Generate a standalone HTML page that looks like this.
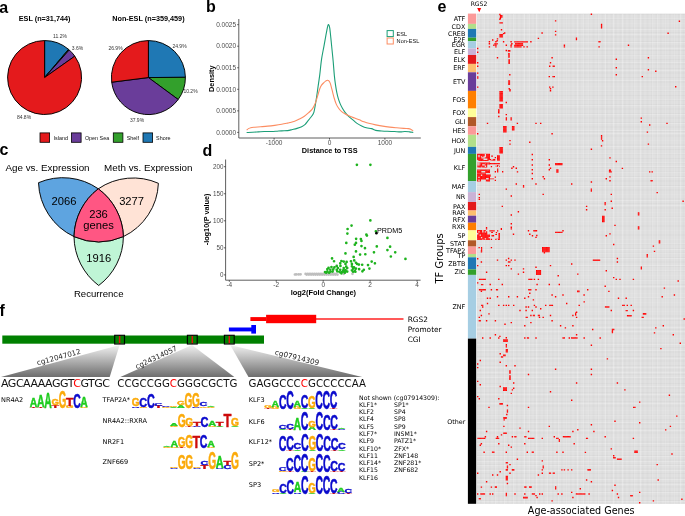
<!DOCTYPE html><html><head><meta charset="utf-8"><title>Figure</title><style>html,body{margin:0;padding:0;background:#fff;overflow:hidden}svg{display:block}</style></head><body>
<svg width="685" height="516" viewBox="0 0 685 516">
<rect width="685" height="516" fill="#fff"/>
<text x="44.60" y="20.90" font-size="7.28" text-anchor="middle" font-weight="bold" fill="#000" font-family='"Liberation Sans", sans-serif' >ESL (n=31,744)</text>
<text x="148.40" y="20.90" font-size="7.28" text-anchor="middle" font-weight="bold" fill="#000" font-family='"Liberation Sans", sans-serif' >Non-ESL (n=359,459)</text>
<path d="M44.60,77.55 L44.60,40.55 A37.0,37.0 0 0 1 68.54,49.34 Z" fill="#1F78B4" stroke="#000" stroke-width="0.95" stroke-linejoin="round"/>
<path d="M44.60,77.55 L68.54,49.34 A37.0,37.0 0 0 1 69.24,49.95 Z" fill="#33A02C" stroke="#000" stroke-width="0.95" stroke-linejoin="round"/>
<path d="M44.60,77.55 L69.24,49.95 A37.0,37.0 0 0 1 74.80,56.18 Z" fill="#6A3D9A" stroke="#000" stroke-width="0.95" stroke-linejoin="round"/>
<path d="M44.60,77.55 L74.80,56.18 A37.0,37.0 0 1 1 44.60,40.55 Z" fill="#E41A1C" stroke="#000" stroke-width="0.95" stroke-linejoin="round"/>
<path d="M148.40,77.55 L148.40,40.55 A37.0,37.0 0 0 1 185.40,77.32 Z" fill="#1F78B4" stroke="#000" stroke-width="0.95" stroke-linejoin="round"/>
<path d="M148.40,77.55 L185.40,77.32 A37.0,37.0 0 0 1 178.20,99.49 Z" fill="#33A02C" stroke="#000" stroke-width="0.95" stroke-linejoin="round"/>
<path d="M148.40,77.55 L178.20,99.49 A37.0,37.0 0 0 1 111.69,82.19 Z" fill="#6A3D9A" stroke="#000" stroke-width="0.95" stroke-linejoin="round"/>
<path d="M148.40,77.55 L111.69,82.19 A37.0,37.0 0 0 1 148.40,40.55 Z" fill="#E41A1C" stroke="#000" stroke-width="0.95" stroke-linejoin="round"/>
<text x="60.00" y="38.00" font-size="5.0" text-anchor="middle" font-weight="normal" fill="#333" font-family='"Liberation Sans", sans-serif' >11.2%</text>
<text x="77.50" y="50.20" font-size="5.0" text-anchor="middle" font-weight="normal" fill="#333" font-family='"Liberation Sans", sans-serif' >3.6%</text>
<text x="24.00" y="118.90" font-size="5.0" text-anchor="middle" font-weight="normal" fill="#333" font-family='"Liberation Sans", sans-serif' >84.8%</text>
<text x="115.50" y="49.50" font-size="5.0" text-anchor="middle" font-weight="normal" fill="#333" font-family='"Liberation Sans", sans-serif' >26.9%</text>
<text x="179.50" y="47.80" font-size="5.0" text-anchor="middle" font-weight="normal" fill="#333" font-family='"Liberation Sans", sans-serif' >24.9%</text>
<text x="190.50" y="92.80" font-size="5.0" text-anchor="middle" font-weight="normal" fill="#333" font-family='"Liberation Sans", sans-serif' >10.2%</text>
<text x="137.00" y="122.10" font-size="5.0" text-anchor="middle" font-weight="normal" fill="#333" font-family='"Liberation Sans", sans-serif' >37.9%</text>
<rect x="40" y="132.9" width="9.6" height="9.4" fill="#E41A1C" stroke="#000" stroke-width="0.8"/>
<text x="53.60" y="139.60" font-size="5.4" text-anchor="start" font-weight="normal" fill="#111" font-family='"Liberation Sans", sans-serif' >Island</text>
<rect x="71.5" y="132.9" width="9.6" height="9.4" fill="#6A3D9A" stroke="#000" stroke-width="0.8"/>
<text x="84.90" y="139.60" font-size="5.4" text-anchor="start" font-weight="normal" fill="#111" font-family='"Liberation Sans", sans-serif' >Open Sea</text>
<rect x="113.3" y="132.9" width="9.6" height="9.4" fill="#33A02C" stroke="#000" stroke-width="0.8"/>
<text x="126.70" y="139.60" font-size="5.4" text-anchor="start" font-weight="normal" fill="#111" font-family='"Liberation Sans", sans-serif' >Shelf</text>
<rect x="143" y="132.9" width="9.6" height="9.4" fill="#1F78B4" stroke="#000" stroke-width="0.8"/>
<text x="156.10" y="139.60" font-size="5.4" text-anchor="start" font-weight="normal" fill="#111" font-family='"Liberation Sans", sans-serif' >Shore</text>
<path d="M238.8,19 L238.8,138.0 L420.8,138.0" fill="none" stroke="#4d4d4d" stroke-width="0.9"/>
<line x1="237.20000000000002" y1="24.65" x2="238.8" y2="24.65" stroke="#333" stroke-width="0.8"/>
<text x="236.10" y="26.90" font-size="6.5" text-anchor="end" font-weight="normal" fill="#4d4d4d" font-family='"Liberation Sans", sans-serif' >0.0025</text>
<line x1="237.20000000000002" y1="46.20" x2="238.8" y2="46.20" stroke="#333" stroke-width="0.8"/>
<text x="236.10" y="48.45" font-size="6.5" text-anchor="end" font-weight="normal" fill="#4d4d4d" font-family='"Liberation Sans", sans-serif' >0.0020</text>
<line x1="237.20000000000002" y1="67.75" x2="238.8" y2="67.75" stroke="#333" stroke-width="0.8"/>
<text x="236.10" y="70.00" font-size="6.5" text-anchor="end" font-weight="normal" fill="#4d4d4d" font-family='"Liberation Sans", sans-serif' >0.0015</text>
<line x1="237.20000000000002" y1="89.30" x2="238.8" y2="89.30" stroke="#333" stroke-width="0.8"/>
<text x="236.10" y="91.55" font-size="6.5" text-anchor="end" font-weight="normal" fill="#4d4d4d" font-family='"Liberation Sans", sans-serif' >0.0010</text>
<line x1="237.20000000000002" y1="110.85" x2="238.8" y2="110.85" stroke="#333" stroke-width="0.8"/>
<text x="236.10" y="113.10" font-size="6.5" text-anchor="end" font-weight="normal" fill="#4d4d4d" font-family='"Liberation Sans", sans-serif' >0.0005</text>
<line x1="237.20000000000002" y1="132.40" x2="238.8" y2="132.40" stroke="#333" stroke-width="0.8"/>
<text x="236.10" y="134.65" font-size="6.5" text-anchor="end" font-weight="normal" fill="#4d4d4d" font-family='"Liberation Sans", sans-serif' >0.0000</text>
<line x1="274.10" y1="138.0" x2="274.10" y2="139.6" stroke="#333" stroke-width="0.8"/>
<text x="274.10" y="144.90" font-size="6.5" text-anchor="middle" font-weight="normal" fill="#4d4d4d" font-family='"Liberation Sans", sans-serif' >-1000</text>
<line x1="329.50" y1="138.0" x2="329.50" y2="139.6" stroke="#333" stroke-width="0.8"/>
<text x="329.50" y="144.90" font-size="6.5" text-anchor="middle" font-weight="normal" fill="#4d4d4d" font-family='"Liberation Sans", sans-serif' >0</text>
<line x1="384.90" y1="138.0" x2="384.90" y2="139.6" stroke="#333" stroke-width="0.8"/>
<text x="384.90" y="144.90" font-size="6.5" text-anchor="middle" font-weight="normal" fill="#4d4d4d" font-family='"Liberation Sans", sans-serif' >1000</text>
<text transform="translate(214.30,78.70) rotate(-90)" font-size="7.33" text-anchor="middle" font-weight="bold" fill="#000" font-family='"Liberation Sans", sans-serif' >Density</text>
<text x="329.70" y="153.00" font-size="7.33" text-anchor="middle" font-weight="bold" fill="#000" font-family='"Liberation Sans", sans-serif' >Distance to TSS</text>
<path d="M247.03,132.47 C247.94,132.43 250.63,132.33 252.52,132.23 C254.41,132.14 256.41,132.00 258.36,131.88 C260.30,131.77 262.25,131.59 264.20,131.53 C266.14,131.47 268.09,131.57 270.04,131.53 C271.98,131.49 273.93,131.42 275.88,131.30 C277.82,131.18 279.77,130.95 281.72,130.83 C283.66,130.72 285.78,130.81 287.55,130.60 C289.32,130.39 290.76,129.93 292.34,129.56 C293.91,129.19 295.45,128.88 297.01,128.39 C298.56,127.91 300.32,127.32 301.68,126.64 C303.04,125.96 304.21,125.18 305.18,124.31 C306.16,123.43 306.74,122.36 307.52,121.39 C308.30,120.41 309.08,119.44 309.85,118.47 C310.63,117.49 311.51,116.62 312.19,115.55 C312.87,114.48 313.45,113.60 313.94,112.04 C314.43,110.49 314.72,108.35 315.11,106.20 C315.50,104.06 315.89,101.73 316.28,99.20 C316.67,96.67 317.06,93.75 317.45,91.02 C317.83,88.30 318.22,85.57 318.61,82.85 C319.00,80.12 319.29,78.58 319.78,74.67 C320.27,70.76 320.85,64.07 321.53,59.38 C322.21,54.69 323.09,50.82 323.87,46.53 C324.65,42.25 325.58,37.00 326.20,33.69 C326.83,30.38 327.22,28.20 327.61,26.68 C328.00,25.16 328.19,24.38 328.54,24.58 C328.89,24.77 329.32,25.55 329.71,27.85 C330.10,30.14 330.49,34.66 330.88,38.36 C331.27,42.06 331.65,46.14 332.04,50.04 C332.43,53.93 332.82,57.41 333.21,61.72 C333.60,66.02 333.99,71.93 334.38,75.84 C334.77,79.75 335.16,82.46 335.55,85.18 C335.94,87.91 336.23,89.85 336.72,92.19 C337.20,94.53 337.88,97.25 338.47,99.20 C339.05,101.14 339.54,102.31 340.22,103.87 C340.90,105.43 341.78,107.18 342.55,108.54 C343.33,109.90 343.92,110.78 344.89,112.04 C345.86,113.31 346.96,114.73 348.39,116.13 C349.83,117.53 352.07,119.23 353.50,120.44 C354.94,121.64 355.64,122.44 357.01,123.36 C358.37,124.27 360.12,125.19 361.68,125.93 C363.24,126.67 364.70,127.35 366.35,127.80 C368.00,128.24 370.05,128.18 371.61,128.61 C373.16,129.04 374.04,129.98 375.69,130.36 C377.35,130.75 379.59,130.79 381.53,130.95 C383.48,131.10 385.23,131.20 387.37,131.30 C389.51,131.40 392.24,131.44 394.38,131.53 C396.52,131.63 398.47,131.88 400.22,131.88 C401.97,131.88 403.33,131.53 404.89,131.53 C406.45,131.53 408.24,131.75 409.56,131.88 C410.89,132.02 412.29,132.27 412.83,132.35" fill="none" stroke="#1B9E77" stroke-width="1.1" stroke-linejoin="round" stroke-linecap="round"/>
<path d="M247.03,129.78 C247.26,129.59 247.81,128.96 248.43,128.61 C249.05,128.26 249.70,127.91 250.77,127.68 C251.84,127.45 253.20,127.37 254.85,127.21 C256.51,127.06 258.55,126.92 260.69,126.74 C262.83,126.57 265.36,126.39 267.70,126.16 C270.04,125.93 272.37,125.65 274.71,125.34 C277.04,125.03 279.57,124.66 281.72,124.29 C283.86,123.92 286.17,123.41 287.55,123.12 C288.94,122.83 288.81,122.88 290.00,122.55 C291.19,122.23 293.11,121.74 294.67,121.15 C296.23,120.57 297.79,119.83 299.34,119.05 C300.90,118.27 302.46,117.55 304.01,116.48 C305.57,115.41 307.32,113.85 308.69,112.63 C310.05,111.40 311.22,110.39 312.19,109.12 C313.16,107.86 313.84,106.50 314.53,105.04 C315.21,103.58 315.69,102.12 316.28,100.36 C316.86,98.61 317.45,96.47 318.03,94.53 C318.61,92.58 319.20,90.24 319.78,88.69 C320.36,87.13 320.85,86.19 321.53,85.18 C322.21,84.17 323.19,83.29 323.87,82.61 C324.55,81.93 325.04,81.48 325.62,81.09 C326.20,80.71 326.79,80.28 327.37,80.28 C327.96,80.28 328.64,80.57 329.12,81.09 C329.61,81.62 329.90,82.36 330.29,83.43 C330.68,84.50 331.07,86.06 331.46,87.52 C331.85,88.98 332.18,90.44 332.63,92.19 C333.08,93.94 333.56,96.08 334.15,98.03 C334.73,99.98 335.41,102.21 336.13,103.87 C336.85,105.52 337.59,106.69 338.47,107.96 C339.34,109.22 340.32,110.49 341.39,111.46 C342.46,112.43 343.72,113.11 344.89,113.80 C346.06,114.48 346.76,114.83 348.39,115.55 C350.02,116.27 352.85,117.38 354.67,118.10 C356.50,118.82 357.79,119.23 359.34,119.85 C360.90,120.48 362.26,121.22 364.01,121.84 C365.77,122.46 367.91,123.09 369.85,123.59 C371.80,124.10 373.55,124.45 375.69,124.88 C377.83,125.30 380.36,125.79 382.70,126.16 C385.04,126.53 387.37,126.82 389.71,127.09 C392.04,127.37 394.38,127.58 396.72,127.80 C399.05,128.01 401.78,128.24 403.72,128.38 C405.67,128.52 407.23,128.48 408.39,128.61 C409.56,128.75 409.99,128.87 410.73,129.20 C411.47,129.53 412.48,130.36 412.83,130.60" fill="none" stroke="#FC8D62" stroke-width="1.1" stroke-linejoin="round" stroke-linecap="round"/>
<rect x="387.1" y="30.6" width="6.2" height="6.0" fill="#fff" stroke="#1B9E77" stroke-width="1.0"/>
<rect x="387.1" y="38.0" width="6.2" height="6.0" fill="#fff" stroke="#FC8D62" stroke-width="1.0"/>
<text x="396.60" y="35.70" font-size="5.6" text-anchor="start" font-weight="normal" fill="#111" font-family='"Liberation Sans", sans-serif' >ESL</text>
<text x="396.60" y="43.10" font-size="5.6" text-anchor="start" font-weight="normal" fill="#111" font-family='"Liberation Sans", sans-serif' >Non-ESL</text>
<path d="M38.5,182.7 A62,62 0 0 1 98.30,188.80 A62,62 0 0 0 74.00,236.60 A62,62 0 0 1 38.50,182.70 Z" fill="#5EA4E0" stroke="#000" stroke-width="0.95" stroke-linejoin="round"/>
<path d="M98.3,188.8 A62,62 0 0 1 158.40,183.30 A62,62 0 0 1 123.40,236.60 A62,62 0 0 0 98.30,188.80 Z" fill="#FFE3D6" stroke="#000" stroke-width="0.95" stroke-linejoin="round"/>
<path d="M74,236.6 A62,62 0 0 0 123.40,236.60 A62,62 0 0 1 98.70,285.50 A62,62 0 0 1 74.00,236.60 Z" fill="#BFF5D6" stroke="#000" stroke-width="0.95" stroke-linejoin="round"/>
<path d="M98.3,188.8 A62,62 0 0 1 123.40,236.60 A62,62 0 0 1 74.00,236.60 A62,62 0 0 1 98.30,188.80 Z" fill="#FF5683" stroke="#000" stroke-width="0.95" stroke-linejoin="round"/>
<text x="47.50" y="170.90" font-size="9.83" text-anchor="middle" font-weight="normal" fill="#000" font-family='"Liberation Sans", sans-serif' >Age vs. Expression</text>
<text x="148.30" y="170.90" font-size="9.83" text-anchor="middle" font-weight="normal" fill="#000" font-family='"Liberation Sans", sans-serif' >Meth vs. Expression</text>
<text x="64.00" y="204.70" font-size="11.2" text-anchor="middle" font-weight="normal" fill="#000" font-family='"Liberation Sans", sans-serif' >2066</text>
<text x="131.60" y="204.70" font-size="11.2" text-anchor="middle" font-weight="normal" fill="#000" font-family='"Liberation Sans", sans-serif' >3277</text>
<text x="98.50" y="218.20" font-size="11.2" text-anchor="middle" font-weight="normal" fill="#000" font-family='"Liberation Sans", sans-serif' >236</text>
<text x="98.50" y="229.20" font-size="11.2" text-anchor="middle" font-weight="normal" fill="#000" font-family='"Liberation Sans", sans-serif' >genes</text>
<text x="98.70" y="262.20" font-size="11.2" text-anchor="middle" font-weight="normal" fill="#000" font-family='"Liberation Sans", sans-serif' >1916</text>
<text x="98.70" y="296.90" font-size="9.6" text-anchor="middle" font-weight="normal" fill="#000" font-family='"Liberation Sans", sans-serif' >Recurrence</text>
<path d="M225.6,159.5 L225.6,280.2 L420.6,280.2" fill="none" stroke="#4d4d4d" stroke-width="0.9"/>
<line x1="224.0" y1="166.70" x2="225.6" y2="166.70" stroke="#333" stroke-width="0.8"/>
<text x="223.40" y="168.90" font-size="6.3" text-anchor="end" font-weight="normal" fill="#4d4d4d" font-family='"Liberation Sans", sans-serif' >200</text>
<line x1="224.0" y1="193.75" x2="225.6" y2="193.75" stroke="#333" stroke-width="0.8"/>
<text x="223.40" y="195.95" font-size="6.3" text-anchor="end" font-weight="normal" fill="#4d4d4d" font-family='"Liberation Sans", sans-serif' >150</text>
<line x1="224.0" y1="220.80" x2="225.6" y2="220.80" stroke="#333" stroke-width="0.8"/>
<text x="223.40" y="223.00" font-size="6.3" text-anchor="end" font-weight="normal" fill="#4d4d4d" font-family='"Liberation Sans", sans-serif' >100</text>
<line x1="224.0" y1="247.85" x2="225.6" y2="247.85" stroke="#333" stroke-width="0.8"/>
<text x="223.40" y="250.05" font-size="6.3" text-anchor="end" font-weight="normal" fill="#4d4d4d" font-family='"Liberation Sans", sans-serif' >50</text>
<line x1="224.0" y1="274.90" x2="225.6" y2="274.90" stroke="#333" stroke-width="0.8"/>
<text x="223.40" y="277.10" font-size="6.3" text-anchor="end" font-weight="normal" fill="#4d4d4d" font-family='"Liberation Sans", sans-serif' >0</text>
<line x1="229.32" y1="280.2" x2="229.32" y2="281.8" stroke="#333" stroke-width="0.8"/>
<text x="229.32" y="287.10" font-size="6.5" text-anchor="middle" font-weight="normal" fill="#4d4d4d" font-family='"Liberation Sans", sans-serif' >-4</text>
<line x1="276.26" y1="280.2" x2="276.26" y2="281.8" stroke="#333" stroke-width="0.8"/>
<text x="276.26" y="287.10" font-size="6.5" text-anchor="middle" font-weight="normal" fill="#4d4d4d" font-family='"Liberation Sans", sans-serif' >-2</text>
<line x1="323.20" y1="280.2" x2="323.20" y2="281.8" stroke="#333" stroke-width="0.8"/>
<text x="323.20" y="287.10" font-size="6.5" text-anchor="middle" font-weight="normal" fill="#4d4d4d" font-family='"Liberation Sans", sans-serif' >0</text>
<line x1="370.14" y1="280.2" x2="370.14" y2="281.8" stroke="#333" stroke-width="0.8"/>
<text x="370.14" y="287.10" font-size="6.5" text-anchor="middle" font-weight="normal" fill="#4d4d4d" font-family='"Liberation Sans", sans-serif' >2</text>
<line x1="417.08" y1="280.2" x2="417.08" y2="281.8" stroke="#333" stroke-width="0.8"/>
<text x="417.08" y="287.10" font-size="6.5" text-anchor="middle" font-weight="normal" fill="#4d4d4d" font-family='"Liberation Sans", sans-serif' >4</text>
<text transform="translate(209.40,219.40) rotate(-90)" font-size="7.3" text-anchor="middle" font-weight="bold" fill="#000" font-family='"Liberation Sans", sans-serif' >-log10(P value)</text>
<text x="323.40" y="294.90" font-size="7.46" text-anchor="middle" font-weight="bold" fill="#000" font-family='"Liberation Sans", sans-serif' >log2(Fold Change)</text>
<path d="M293.55,274.50a1.35,1.35 0 1 0 2.7,0a1.35,1.35 0 1 0 -2.7,0zM294.85,274.40a1.35,1.35 0 1 0 2.7,0a1.35,1.35 0 1 0 -2.7,0zM297.25,274.40a1.35,1.35 0 1 0 2.7,0a1.35,1.35 0 1 0 -2.7,0zM299.25,274.30a1.35,1.35 0 1 0 2.7,0a1.35,1.35 0 1 0 -2.7,0zM304.25,273.95a1.35,1.35 0 1 0 2.7,0a1.35,1.35 0 1 0 -2.7,0zM305.35,274.55a1.35,1.35 0 1 0 2.7,0a1.35,1.35 0 1 0 -2.7,0zM306.45,273.95a1.35,1.35 0 1 0 2.7,0a1.35,1.35 0 1 0 -2.7,0zM307.55,274.55a1.35,1.35 0 1 0 2.7,0a1.35,1.35 0 1 0 -2.7,0zM308.65,273.95a1.35,1.35 0 1 0 2.7,0a1.35,1.35 0 1 0 -2.7,0zM309.75,274.55a1.35,1.35 0 1 0 2.7,0a1.35,1.35 0 1 0 -2.7,0zM310.85,273.95a1.35,1.35 0 1 0 2.7,0a1.35,1.35 0 1 0 -2.7,0zM311.95,274.55a1.35,1.35 0 1 0 2.7,0a1.35,1.35 0 1 0 -2.7,0zM313.05,273.95a1.35,1.35 0 1 0 2.7,0a1.35,1.35 0 1 0 -2.7,0zM314.15,274.55a1.35,1.35 0 1 0 2.7,0a1.35,1.35 0 1 0 -2.7,0zM315.25,273.95a1.35,1.35 0 1 0 2.7,0a1.35,1.35 0 1 0 -2.7,0zM316.35,274.55a1.35,1.35 0 1 0 2.7,0a1.35,1.35 0 1 0 -2.7,0zM317.45,273.95a1.35,1.35 0 1 0 2.7,0a1.35,1.35 0 1 0 -2.7,0zM318.55,274.55a1.35,1.35 0 1 0 2.7,0a1.35,1.35 0 1 0 -2.7,0zM319.65,273.95a1.35,1.35 0 1 0 2.7,0a1.35,1.35 0 1 0 -2.7,0zM320.75,274.55a1.35,1.35 0 1 0 2.7,0a1.35,1.35 0 1 0 -2.7,0zM321.85,273.95a1.35,1.35 0 1 0 2.7,0a1.35,1.35 0 1 0 -2.7,0zM322.95,274.55a1.35,1.35 0 1 0 2.7,0a1.35,1.35 0 1 0 -2.7,0zM324.05,273.95a1.35,1.35 0 1 0 2.7,0a1.35,1.35 0 1 0 -2.7,0zM325.15,274.55a1.35,1.35 0 1 0 2.7,0a1.35,1.35 0 1 0 -2.7,0zM326.25,273.95a1.35,1.35 0 1 0 2.7,0a1.35,1.35 0 1 0 -2.7,0zM327.35,274.55a1.35,1.35 0 1 0 2.7,0a1.35,1.35 0 1 0 -2.7,0zM328.45,273.95a1.35,1.35 0 1 0 2.7,0a1.35,1.35 0 1 0 -2.7,0zM329.55,274.55a1.35,1.35 0 1 0 2.7,0a1.35,1.35 0 1 0 -2.7,0zM330.65,273.95a1.35,1.35 0 1 0 2.7,0a1.35,1.35 0 1 0 -2.7,0zM331.75,274.55a1.35,1.35 0 1 0 2.7,0a1.35,1.35 0 1 0 -2.7,0zM332.85,273.95a1.35,1.35 0 1 0 2.7,0a1.35,1.35 0 1 0 -2.7,0zM333.95,274.55a1.35,1.35 0 1 0 2.7,0a1.35,1.35 0 1 0 -2.7,0zM335.05,273.95a1.35,1.35 0 1 0 2.7,0a1.35,1.35 0 1 0 -2.7,0zM336.15,274.55a1.35,1.35 0 1 0 2.7,0a1.35,1.35 0 1 0 -2.7,0zM342.35,274.00a1.35,1.35 0 1 0 2.7,0a1.35,1.35 0 1 0 -2.7,0zM351.15,273.80a1.35,1.35 0 1 0 2.7,0a1.35,1.35 0 1 0 -2.7,0z" fill="#BEBEBE"/>
<path d="M369.00,220.44a1.35,1.35 0 1 0 2.7,0a1.35,1.35 0 1 0 -2.7,0zM350.21,225.56a1.35,1.35 0 1 0 2.7,0a1.35,1.35 0 1 0 -2.7,0zM346.23,228.98a1.35,1.35 0 1 0 2.7,0a1.35,1.35 0 1 0 -2.7,0zM346.04,233.53a1.35,1.35 0 1 0 2.7,0a1.35,1.35 0 1 0 -2.7,0zM374.50,231.26a1.35,1.35 0 1 0 2.7,0a1.35,1.35 0 1 0 -2.7,0zM365.58,235.62a1.35,1.35 0 1 0 2.7,0a1.35,1.35 0 1 0 -2.7,0zM365.01,234.67a1.35,1.35 0 1 0 2.7,0a1.35,1.35 0 1 0 -2.7,0zM386.08,237.90a1.35,1.35 0 1 0 2.7,0a1.35,1.35 0 1 0 -2.7,0zM354.77,238.85a1.35,1.35 0 1 0 2.7,0a1.35,1.35 0 1 0 -2.7,0zM359.51,239.04a1.35,1.35 0 1 0 2.7,0a1.35,1.35 0 1 0 -2.7,0zM375.45,246.44a1.35,1.35 0 1 0 2.7,0a1.35,1.35 0 1 0 -2.7,0zM388.74,246.63a1.35,1.35 0 1 0 2.7,0a1.35,1.35 0 1 0 -2.7,0zM386.08,250.04a1.35,1.35 0 1 0 2.7,0a1.35,1.35 0 1 0 -2.7,0zM372.61,252.32a1.35,1.35 0 1 0 2.7,0a1.35,1.35 0 1 0 -2.7,0zM393.86,252.32a1.35,1.35 0 1 0 2.7,0a1.35,1.35 0 1 0 -2.7,0zM389.50,256.50a1.35,1.35 0 1 0 2.7,0a1.35,1.35 0 1 0 -2.7,0zM404.11,258.96a1.35,1.35 0 1 0 2.7,0a1.35,1.35 0 1 0 -2.7,0zM370.33,261.62a1.35,1.35 0 1 0 2.7,0a1.35,1.35 0 1 0 -2.7,0zM373.56,263.33a1.35,1.35 0 1 0 2.7,0a1.35,1.35 0 1 0 -2.7,0zM344.94,242.92a1.35,1.35 0 1 0 2.7,0a1.35,1.35 0 1 0 -2.7,0zM353.47,244.67a1.35,1.35 0 1 0 2.7,0a1.35,1.35 0 1 0 -2.7,0zM354.64,242.92a1.35,1.35 0 1 0 2.7,0a1.35,1.35 0 1 0 -2.7,0zM360.12,240.93a1.35,1.35 0 1 0 2.7,0a1.35,1.35 0 1 0 -2.7,0zM360.12,246.07a1.35,1.35 0 1 0 2.7,0a1.35,1.35 0 1 0 -2.7,0zM363.63,248.18a1.35,1.35 0 1 0 2.7,0a1.35,1.35 0 1 0 -2.7,0zM344.12,253.43a1.35,1.35 0 1 0 2.7,0a1.35,1.35 0 1 0 -2.7,0zM354.64,251.45a1.35,1.35 0 1 0 2.7,0a1.35,1.35 0 1 0 -2.7,0zM358.72,254.60a1.35,1.35 0 1 0 2.7,0a1.35,1.35 0 1 0 -2.7,0zM363.98,254.25a1.35,1.35 0 1 0 2.7,0a1.35,1.35 0 1 0 -2.7,0zM352.30,256.93a1.35,1.35 0 1 0 2.7,0a1.35,1.35 0 1 0 -2.7,0zM330.69,258.45a1.35,1.35 0 1 0 2.7,0a1.35,1.35 0 1 0 -2.7,0zM332.68,261.26a1.35,1.35 0 1 0 2.7,0a1.35,1.35 0 1 0 -2.7,0zM340.04,261.02a1.35,1.35 0 1 0 2.7,0a1.35,1.35 0 1 0 -2.7,0zM342.37,261.61a1.35,1.35 0 1 0 2.7,0a1.35,1.35 0 1 0 -2.7,0zM345.29,261.96a1.35,1.35 0 1 0 2.7,0a1.35,1.35 0 1 0 -2.7,0zM349.61,261.26a1.35,1.35 0 1 0 2.7,0a1.35,1.35 0 1 0 -2.7,0zM352.88,260.44a1.35,1.35 0 1 0 2.7,0a1.35,1.35 0 1 0 -2.7,0zM354.64,262.77a1.35,1.35 0 1 0 2.7,0a1.35,1.35 0 1 0 -2.7,0zM338.87,263.36a1.35,1.35 0 1 0 2.7,0a1.35,1.35 0 1 0 -2.7,0zM344.12,263.94a1.35,1.35 0 1 0 2.7,0a1.35,1.35 0 1 0 -2.7,0zM350.55,263.94a1.35,1.35 0 1 0 2.7,0a1.35,1.35 0 1 0 -2.7,0zM355.80,263.94a1.35,1.35 0 1 0 2.7,0a1.35,1.35 0 1 0 -2.7,0zM357.56,264.53a1.35,1.35 0 1 0 2.7,0a1.35,1.35 0 1 0 -2.7,0zM360.83,264.76a1.35,1.35 0 1 0 2.7,0a1.35,1.35 0 1 0 -2.7,0zM366.66,265.11a1.35,1.35 0 1 0 2.7,0a1.35,1.35 0 1 0 -2.7,0zM335.37,265.93a1.35,1.35 0 1 0 2.7,0a1.35,1.35 0 1 0 -2.7,0zM339.10,265.93a1.35,1.35 0 1 0 2.7,0a1.35,1.35 0 1 0 -2.7,0zM344.94,266.63a1.35,1.35 0 1 0 2.7,0a1.35,1.35 0 1 0 -2.7,0zM350.55,266.28a1.35,1.35 0 1 0 2.7,0a1.35,1.35 0 1 0 -2.7,0zM352.65,267.45a1.35,1.35 0 1 0 2.7,0a1.35,1.35 0 1 0 -2.7,0zM327.19,267.80a1.35,1.35 0 1 0 2.7,0a1.35,1.35 0 1 0 -2.7,0zM330.11,267.09a1.35,1.35 0 1 0 2.7,0a1.35,1.35 0 1 0 -2.7,0zM333.03,267.45a1.35,1.35 0 1 0 2.7,0a1.35,1.35 0 1 0 -2.7,0zM336.53,268.03a1.35,1.35 0 1 0 2.7,0a1.35,1.35 0 1 0 -2.7,0zM342.37,268.03a1.35,1.35 0 1 0 2.7,0a1.35,1.35 0 1 0 -2.7,0zM345.88,268.03a1.35,1.35 0 1 0 2.7,0a1.35,1.35 0 1 0 -2.7,0zM351.72,268.61a1.35,1.35 0 1 0 2.7,0a1.35,1.35 0 1 0 -2.7,0zM354.64,268.61a1.35,1.35 0 1 0 2.7,0a1.35,1.35 0 1 0 -2.7,0zM357.79,269.20a1.35,1.35 0 1 0 2.7,0a1.35,1.35 0 1 0 -2.7,0zM362.46,269.78a1.35,1.35 0 1 0 2.7,0a1.35,1.35 0 1 0 -2.7,0zM368.07,268.61a1.35,1.35 0 1 0 2.7,0a1.35,1.35 0 1 0 -2.7,0zM326.02,269.20a1.35,1.35 0 1 0 2.7,0a1.35,1.35 0 1 0 -2.7,0zM328.94,269.78a1.35,1.35 0 1 0 2.7,0a1.35,1.35 0 1 0 -2.7,0zM331.86,269.43a1.35,1.35 0 1 0 2.7,0a1.35,1.35 0 1 0 -2.7,0zM335.37,269.78a1.35,1.35 0 1 0 2.7,0a1.35,1.35 0 1 0 -2.7,0zM338.87,269.78a1.35,1.35 0 1 0 2.7,0a1.35,1.35 0 1 0 -2.7,0zM341.79,270.36a1.35,1.35 0 1 0 2.7,0a1.35,1.35 0 1 0 -2.7,0zM344.12,270.13a1.35,1.35 0 1 0 2.7,0a1.35,1.35 0 1 0 -2.7,0zM350.55,270.36a1.35,1.35 0 1 0 2.7,0a1.35,1.35 0 1 0 -2.7,0zM353.47,270.95a1.35,1.35 0 1 0 2.7,0a1.35,1.35 0 1 0 -2.7,0zM361.06,271.30a1.35,1.35 0 1 0 2.7,0a1.35,1.35 0 1 0 -2.7,0zM323.69,272.12a1.35,1.35 0 1 0 2.7,0a1.35,1.35 0 1 0 -2.7,0zM326.02,271.30a1.35,1.35 0 1 0 2.7,0a1.35,1.35 0 1 0 -2.7,0zM328.94,271.77a1.35,1.35 0 1 0 2.7,0a1.35,1.35 0 1 0 -2.7,0zM331.28,271.53a1.35,1.35 0 1 0 2.7,0a1.35,1.35 0 1 0 -2.7,0zM335.95,271.30a1.35,1.35 0 1 0 2.7,0a1.35,1.35 0 1 0 -2.7,0zM338.29,272.12a1.35,1.35 0 1 0 2.7,0a1.35,1.35 0 1 0 -2.7,0zM340.62,272.12a1.35,1.35 0 1 0 2.7,0a1.35,1.35 0 1 0 -2.7,0zM342.96,272.12a1.35,1.35 0 1 0 2.7,0a1.35,1.35 0 1 0 -2.7,0zM345.88,271.53a1.35,1.35 0 1 0 2.7,0a1.35,1.35 0 1 0 -2.7,0zM351.72,271.77a1.35,1.35 0 1 0 2.7,0a1.35,1.35 0 1 0 -2.7,0zM354.05,271.77a1.35,1.35 0 1 0 2.7,0a1.35,1.35 0 1 0 -2.7,0zM324.85,272.70a1.35,1.35 0 1 0 2.7,0a1.35,1.35 0 1 0 -2.7,0zM327.77,272.70a1.35,1.35 0 1 0 2.7,0a1.35,1.35 0 1 0 -2.7,0zM340.04,273.28a1.35,1.35 0 1 0 2.7,0a1.35,1.35 0 1 0 -2.7,0zM343.54,272.70a1.35,1.35 0 1 0 2.7,0a1.35,1.35 0 1 0 -2.7,0zM355.55,164.80a1.35,1.35 0 1 0 2.7,0a1.35,1.35 0 1 0 -2.7,0zM369.05,164.80a1.35,1.35 0 1 0 2.7,0a1.35,1.35 0 1 0 -2.7,0z" fill="#1EB31E"/>
<circle cx="376.42" cy="233.15" r="1.3" fill="#000"/>
<text x="377.00" y="232.90" font-size="7.2" text-anchor="start" font-weight="normal" fill="#000" font-family='"Liberation Sans", sans-serif' >PRDM5</text>
<defs><linearGradient id="tg" x1="0" y1="0" x2="0" y2="1"><stop offset="0" stop-color="#F2F2F2"/><stop offset="1" stop-color="#6E6E6E"/></linearGradient></defs>
<polygon points="119.6,345 1,376.9 109.7,376.9" fill="url(#tg)"/>
<polygon points="192,345 120.4,376.9 234.3,376.9" fill="url(#tg)"/>
<polygon points="230.2,345 248.5,376.9 362.1,376.9" fill="url(#tg)"/>
<rect x="2.3" y="335.5" width="261.7" height="8.2" fill="#008000"/>
<rect x="118.85" y="335.5" width="1.5" height="8.2" fill="#E01010"/>
<rect x="114.69999999999999" y="335.3" width="9.8" height="8.7" fill="none" stroke="#000" stroke-width="1.15"/>
<rect x="191.55" y="335.5" width="1.5" height="8.2" fill="#E01010"/>
<rect x="187.4" y="335.3" width="9.8" height="8.7" fill="none" stroke="#000" stroke-width="1.15"/>
<rect x="228.55" y="335.5" width="1.5" height="8.2" fill="#E01010"/>
<rect x="224.4" y="335.3" width="9.8" height="8.7" fill="none" stroke="#000" stroke-width="1.15"/>
<rect x="228.9" y="327.5" width="24" height="3.9" fill="#0000FF"/>
<rect x="251.3" y="325" width="4.7" height="8.6" fill="#0000FF"/>
<rect x="250.4" y="317.1" width="16" height="3.9" fill="#FF0000"/>
<rect x="266.1" y="314.8" width="50.1" height="8.4" fill="#FF0000"/>
<rect x="316" y="318.35" width="87.5" height="1.3" fill="#FF0000"/>
<text x="407.70" y="321.70" font-size="7.4" text-anchor="start" font-weight="normal" fill="#000" font-family='"DejaVu Sans", "Liberation Sans", sans-serif' >RGS2</text>
<text x="407.70" y="332.40" font-size="7.4" text-anchor="start" font-weight="normal" fill="#000" font-family='"DejaVu Sans", "Liberation Sans", sans-serif' >Promoter</text>
<text x="407.70" y="342.30" font-size="7.4" text-anchor="start" font-weight="normal" fill="#000" font-family='"DejaVu Sans", "Liberation Sans", sans-serif' >CGI</text>
<text transform="translate(59.40,359.50) rotate(-15)" font-size="7.2" text-anchor="middle" font-weight="normal" fill="#222" font-family='"DejaVu Sans", "Liberation Sans", sans-serif' >cg12047012</text>
<text transform="translate(157.30,359.60) rotate(-25)" font-size="7.2" text-anchor="middle" font-weight="normal" fill="#222" font-family='"DejaVu Sans", "Liberation Sans", sans-serif' >cg24314057</text>
<text transform="translate(296.50,360.00) rotate(14)" font-size="7.2" text-anchor="middle" font-weight="normal" fill="#222" font-family='"DejaVu Sans", "Liberation Sans", sans-serif' >cg07914309</text>
<text x="1.00" y="386.80" font-size="11.0" textLength="109.00" lengthAdjust="spacing" fill="#111" font-family='"DejaVu Sans", "Liberation Sans", sans-serif'>AGCAAAAGGT<tspan fill="#FF0000">C</tspan>GTGC</text>
<text x="117.20" y="386.80" font-size="10.2" textLength="120.30" lengthAdjust="spacing" fill="#111" font-family='"DejaVu Sans", "Liberation Sans", sans-serif'>CCGCCGG<tspan fill="#FF0000">C</tspan>GGGCGCTG</text>
<text x="248.50" y="386.80" font-size="10.2" textLength="117.60" lengthAdjust="spacing" fill="#111" font-family='"DejaVu Sans", "Liberation Sans", sans-serif'>GAGGCCC<tspan fill="#FF0000">C</tspan>GCCCCCAA</text>
<text x="1.00" y="402.00" font-size="6.55" text-anchor="start" font-weight="normal" fill="#000" font-family='"DejaVu Sans", "Liberation Sans", sans-serif' >NR4A2</text>
<text x="102.50" y="401.50" font-size="6.55" text-anchor="start" font-weight="normal" fill="#000" font-family='"DejaVu Sans", "Liberation Sans", sans-serif' >TFAP2A*</text>
<text x="102.50" y="422.80" font-size="6.55" text-anchor="start" font-weight="normal" fill="#000" font-family='"DejaVu Sans", "Liberation Sans", sans-serif' >NR4A2::RXRA</text>
<text x="102.50" y="443.90" font-size="6.55" text-anchor="start" font-weight="normal" fill="#000" font-family='"DejaVu Sans", "Liberation Sans", sans-serif' >NR2F1</text>
<text x="102.50" y="464.10" font-size="6.55" text-anchor="start" font-weight="normal" fill="#000" font-family='"DejaVu Sans", "Liberation Sans", sans-serif' >ZNF669</text>
<text x="248.80" y="401.90" font-size="6.55" text-anchor="start" font-weight="normal" fill="#000" font-family='"DejaVu Sans", "Liberation Sans", sans-serif' >KLF3</text>
<text x="248.80" y="423.60" font-size="6.55" text-anchor="start" font-weight="normal" fill="#000" font-family='"DejaVu Sans", "Liberation Sans", sans-serif' >KLF6</text>
<text x="248.80" y="443.50" font-size="6.55" text-anchor="start" font-weight="normal" fill="#000" font-family='"DejaVu Sans", "Liberation Sans", sans-serif' >KLF12*</text>
<text x="248.80" y="466.20" font-size="6.55" text-anchor="start" font-weight="normal" fill="#000" font-family='"DejaVu Sans", "Liberation Sans", sans-serif' >SP2*</text>
<text x="248.80" y="487.10" font-size="6.55" text-anchor="start" font-weight="normal" fill="#000" font-family='"DejaVu Sans", "Liberation Sans", sans-serif' >SP3</text>
<text x="359.00" y="399.90" font-size="6.2" text-anchor="start" font-weight="normal" fill="#000" font-family='"DejaVu Sans", "Liberation Sans", sans-serif' >Not shown (cg07914309):</text>
<text x="359.00" y="406.60" font-size="6.2" text-anchor="start" font-weight="normal" fill="#000" font-family='"DejaVu Sans", "Liberation Sans", sans-serif' >KLF1*</text>
<text x="359.00" y="413.92" font-size="6.2" text-anchor="start" font-weight="normal" fill="#000" font-family='"DejaVu Sans", "Liberation Sans", sans-serif' >KLF2</text>
<text x="359.00" y="421.24" font-size="6.2" text-anchor="start" font-weight="normal" fill="#000" font-family='"DejaVu Sans", "Liberation Sans", sans-serif' >KLF4</text>
<text x="359.00" y="428.56" font-size="6.2" text-anchor="start" font-weight="normal" fill="#000" font-family='"DejaVu Sans", "Liberation Sans", sans-serif' >KLF5</text>
<text x="359.00" y="435.88" font-size="6.2" text-anchor="start" font-weight="normal" fill="#000" font-family='"DejaVu Sans", "Liberation Sans", sans-serif' >KLF7*</text>
<text x="359.00" y="443.20" font-size="6.2" text-anchor="start" font-weight="normal" fill="#000" font-family='"DejaVu Sans", "Liberation Sans", sans-serif' >KLF9</text>
<text x="359.00" y="450.52" font-size="6.2" text-anchor="start" font-weight="normal" fill="#000" font-family='"DejaVu Sans", "Liberation Sans", sans-serif' >KLF10*</text>
<text x="359.00" y="457.84" font-size="6.2" text-anchor="start" font-weight="normal" fill="#000" font-family='"DejaVu Sans", "Liberation Sans", sans-serif' >KLF11</text>
<text x="359.00" y="465.16" font-size="6.2" text-anchor="start" font-weight="normal" fill="#000" font-family='"DejaVu Sans", "Liberation Sans", sans-serif' >KLF14*</text>
<text x="359.00" y="472.48" font-size="6.2" text-anchor="start" font-weight="normal" fill="#000" font-family='"DejaVu Sans", "Liberation Sans", sans-serif' >KLF15</text>
<text x="359.00" y="479.80" font-size="6.2" text-anchor="start" font-weight="normal" fill="#000" font-family='"DejaVu Sans", "Liberation Sans", sans-serif' >KLF16</text>
<text x="394.00" y="406.60" font-size="6.2" text-anchor="start" font-weight="normal" fill="#000" font-family='"DejaVu Sans", "Liberation Sans", sans-serif' >SP1*</text>
<text x="394.00" y="413.92" font-size="6.2" text-anchor="start" font-weight="normal" fill="#000" font-family='"DejaVu Sans", "Liberation Sans", sans-serif' >SP4</text>
<text x="394.00" y="421.24" font-size="6.2" text-anchor="start" font-weight="normal" fill="#000" font-family='"DejaVu Sans", "Liberation Sans", sans-serif' >SP8</text>
<text x="394.00" y="428.56" font-size="6.2" text-anchor="start" font-weight="normal" fill="#000" font-family='"DejaVu Sans", "Liberation Sans", sans-serif' >SP9</text>
<text x="394.00" y="435.88" font-size="6.2" text-anchor="start" font-weight="normal" fill="#000" font-family='"DejaVu Sans", "Liberation Sans", sans-serif' >INSM1*</text>
<text x="394.00" y="443.20" font-size="6.2" text-anchor="start" font-weight="normal" fill="#000" font-family='"DejaVu Sans", "Liberation Sans", sans-serif' >PATZ1*</text>
<text x="394.00" y="450.52" font-size="6.2" text-anchor="start" font-weight="normal" fill="#000" font-family='"DejaVu Sans", "Liberation Sans", sans-serif' >ZFX*</text>
<text x="394.00" y="457.84" font-size="6.2" text-anchor="start" font-weight="normal" fill="#000" font-family='"DejaVu Sans", "Liberation Sans", sans-serif' >ZNF148</text>
<text x="394.00" y="465.16" font-size="6.2" text-anchor="start" font-weight="normal" fill="#000" font-family='"DejaVu Sans", "Liberation Sans", sans-serif' >ZNF281*</text>
<text x="394.00" y="472.48" font-size="6.2" text-anchor="start" font-weight="normal" fill="#000" font-family='"DejaVu Sans", "Liberation Sans", sans-serif' >ZNF682</text>
<text transform="translate(33.52,408.00) scale(1.231,0.126)" font-size="10.0" font-weight="bold" text-anchor="middle" fill="#CC0A0A" stroke="#CC0A0A" stroke-width="0.45" vector-effect="non-scaling-stroke" font-family='"Liberation Sans", sans-serif'>T</text>
<text transform="translate(33.52,407.10) scale(1.041,1.215)" font-size="10.0" font-weight="bold" text-anchor="middle" fill="#1FCC1F" stroke="#1FCC1F" stroke-width="0.45" vector-effect="non-scaling-stroke" font-family='"Liberation Sans", sans-serif'>A</text>
<text transform="translate(40.74,408.00) scale(1.231,0.126)" font-size="10.0" font-weight="bold" text-anchor="middle" fill="#CC0A0A" stroke="#CC0A0A" stroke-width="0.45" vector-effect="non-scaling-stroke" font-family='"Liberation Sans", sans-serif'>T</text>
<text transform="translate(40.74,407.10) scale(1.041,1.718)" font-size="10.0" font-weight="bold" text-anchor="middle" fill="#1FCC1F" stroke="#1FCC1F" stroke-width="0.45" vector-effect="non-scaling-stroke" font-family='"Liberation Sans", sans-serif'>A</text>
<text transform="translate(47.98,408.00) scale(1.041,2.291)" font-size="10.0" font-weight="bold" text-anchor="middle" fill="#1FCC1F" stroke="#1FCC1F" stroke-width="0.45" vector-effect="non-scaling-stroke" font-family='"Liberation Sans", sans-serif'>A</text>
<text transform="translate(55.20,408.00) scale(1.231,0.419)" font-size="10.0" font-weight="bold" text-anchor="middle" fill="#CC0A0A" stroke="#CC0A0A" stroke-width="0.45" vector-effect="non-scaling-stroke" font-family='"Liberation Sans", sans-serif'>T</text>
<text transform="translate(55.20,405.00) scale(0.966,0.894)" font-size="10.0" font-weight="bold" text-anchor="middle" fill="#FBAA0A" stroke="#FBAA0A" stroke-width="0.45" vector-effect="non-scaling-stroke" font-family='"Liberation Sans", sans-serif'>G</text>
<text transform="translate(62.44,408.00) scale(0.966,2.416)" font-size="10.0" font-weight="bold" text-anchor="middle" fill="#FBAA0A" stroke="#FBAA0A" stroke-width="0.45" vector-effect="non-scaling-stroke" font-family='"Liberation Sans", sans-serif'>G</text>
<text transform="translate(69.66,408.00) scale(0.966,0.279)" font-size="10.0" font-weight="bold" text-anchor="middle" fill="#FBAA0A" stroke="#FBAA0A" stroke-width="0.45" vector-effect="non-scaling-stroke" font-family='"Liberation Sans", sans-serif'>G</text>
<text transform="translate(69.66,406.00) scale(1.231,1.006)" font-size="10.0" font-weight="bold" text-anchor="middle" fill="#CC0A0A" stroke="#CC0A0A" stroke-width="0.45" vector-effect="non-scaling-stroke" font-family='"Liberation Sans", sans-serif'>T</text>
<text transform="translate(76.90,408.00) scale(1.041,2.067)" font-size="10.0" font-weight="bold" text-anchor="middle" fill="#0A0ACC" stroke="#0A0ACC" stroke-width="0.45" vector-effect="non-scaling-stroke" font-family='"Liberation Sans", sans-serif'>C</text>
<text transform="translate(84.12,408.00) scale(0.966,0.182)" font-size="10.0" font-weight="bold" text-anchor="middle" fill="#FBAA0A" stroke="#FBAA0A" stroke-width="0.45" vector-effect="non-scaling-stroke" font-family='"Liberation Sans", sans-serif'>G</text>
<text transform="translate(84.12,406.70) scale(1.041,1.397)" font-size="10.0" font-weight="bold" text-anchor="middle" fill="#1FCC1F" stroke="#1FCC1F" stroke-width="0.45" vector-effect="non-scaling-stroke" font-family='"Liberation Sans", sans-serif'>A</text>
<text transform="translate(135.76,407.80) scale(1.083,0.196)" font-size="10.0" font-weight="bold" text-anchor="middle" fill="#0A0ACC" stroke="#0A0ACC" stroke-width="0.45" vector-effect="non-scaling-stroke" font-family='"Liberation Sans", sans-serif'>C</text>
<text transform="translate(135.76,406.40) scale(1.005,1.145)" font-size="10.0" font-weight="bold" text-anchor="middle" fill="#FBAA0A" stroke="#FBAA0A" stroke-width="0.45" vector-effect="non-scaling-stroke" font-family='"Liberation Sans", sans-serif'>G</text>
<text transform="translate(143.28,407.80) scale(1.005,0.168)" font-size="10.0" font-weight="bold" text-anchor="middle" fill="#FBAA0A" stroke="#FBAA0A" stroke-width="0.45" vector-effect="non-scaling-stroke" font-family='"Liberation Sans", sans-serif'>G</text>
<text transform="translate(143.28,406.60) scale(1.083,1.369)" font-size="10.0" font-weight="bold" text-anchor="middle" fill="#0A0ACC" stroke="#0A0ACC" stroke-width="0.45" vector-effect="non-scaling-stroke" font-family='"Liberation Sans", sans-serif'>C</text>
<text transform="translate(150.80,407.80) scale(1.083,2.095)" font-size="10.0" font-weight="bold" text-anchor="middle" fill="#0A0ACC" stroke="#0A0ACC" stroke-width="0.45" vector-effect="non-scaling-stroke" font-family='"Liberation Sans", sans-serif'>C</text>
<text transform="translate(158.32,407.80) scale(1.280,0.321)" font-size="10.0" font-weight="bold" text-anchor="middle" fill="#CC0A0A" stroke="#CC0A0A" stroke-width="0.45" vector-effect="non-scaling-stroke" font-family='"Liberation Sans", sans-serif'>T</text>
<text transform="translate(158.32,405.50) scale(1.083,0.363)" font-size="10.0" font-weight="bold" text-anchor="middle" fill="#0A0ACC" stroke="#0A0ACC" stroke-width="0.45" vector-effect="non-scaling-stroke" font-family='"Liberation Sans", sans-serif'>C</text>
<text transform="translate(165.84,407.80) scale(1.005,0.112)" font-size="10.0" font-weight="bold" text-anchor="middle" fill="#FBAA0A" stroke="#FBAA0A" stroke-width="0.45" vector-effect="non-scaling-stroke" font-family='"Liberation Sans", sans-serif'>G</text>
<text transform="translate(165.84,407.00) scale(1.083,0.140)" font-size="10.0" font-weight="bold" text-anchor="middle" fill="#0A0ACC" stroke="#0A0ACC" stroke-width="0.45" vector-effect="non-scaling-stroke" font-family='"Liberation Sans", sans-serif'>C</text>
<text transform="translate(173.36,407.80) scale(1.083,0.112)" font-size="10.0" font-weight="bold" text-anchor="middle" fill="#1FCC1F" stroke="#1FCC1F" stroke-width="0.45" vector-effect="non-scaling-stroke" font-family='"Liberation Sans", sans-serif'>A</text>
<text transform="translate(173.36,407.00) scale(1.005,0.140)" font-size="10.0" font-weight="bold" text-anchor="middle" fill="#FBAA0A" stroke="#FBAA0A" stroke-width="0.45" vector-effect="non-scaling-stroke" font-family='"Liberation Sans", sans-serif'>G</text>
<text transform="translate(180.88,407.80) scale(1.083,0.363)" font-size="10.0" font-weight="bold" text-anchor="middle" fill="#1FCC1F" stroke="#1FCC1F" stroke-width="0.45" vector-effect="non-scaling-stroke" font-family='"Liberation Sans", sans-serif'>A</text>
<text transform="translate(180.88,405.20) scale(1.005,0.615)" font-size="10.0" font-weight="bold" text-anchor="middle" fill="#FBAA0A" stroke="#FBAA0A" stroke-width="0.45" vector-effect="non-scaling-stroke" font-family='"Liberation Sans", sans-serif'>G</text>
<text transform="translate(188.40,407.80) scale(1.005,2.277)" font-size="10.0" font-weight="bold" text-anchor="middle" fill="#FBAA0A" stroke="#FBAA0A" stroke-width="0.45" vector-effect="non-scaling-stroke" font-family='"Liberation Sans", sans-serif'>G</text>
<text transform="translate(195.92,407.80) scale(1.083,0.112)" font-size="10.0" font-weight="bold" text-anchor="middle" fill="#0A0ACC" stroke="#0A0ACC" stroke-width="0.45" vector-effect="non-scaling-stroke" font-family='"Liberation Sans", sans-serif'>C</text>
<text transform="translate(195.92,407.00) scale(1.005,2.025)" font-size="10.0" font-weight="bold" text-anchor="middle" fill="#FBAA0A" stroke="#FBAA0A" stroke-width="0.45" vector-effect="non-scaling-stroke" font-family='"Liberation Sans", sans-serif'>G</text>
<text transform="translate(203.44,407.80) scale(1.005,0.223)" font-size="10.0" font-weight="bold" text-anchor="middle" fill="#FBAA0A" stroke="#FBAA0A" stroke-width="0.45" vector-effect="non-scaling-stroke" font-family='"Liberation Sans", sans-serif'>G</text>
<text transform="translate(203.44,406.20) scale(1.083,0.489)" font-size="10.0" font-weight="bold" text-anchor="middle" fill="#0A0ACC" stroke="#0A0ACC" stroke-width="0.45" vector-effect="non-scaling-stroke" font-family='"Liberation Sans", sans-serif'>C</text>
<text transform="translate(210.96,407.80) scale(1.005,0.112)" font-size="10.0" font-weight="bold" text-anchor="middle" fill="#FBAA0A" stroke="#FBAA0A" stroke-width="0.45" vector-effect="non-scaling-stroke" font-family='"Liberation Sans", sans-serif'>G</text>
<text transform="translate(210.96,407.00) scale(1.083,0.251)" font-size="10.0" font-weight="bold" text-anchor="middle" fill="#1FCC1F" stroke="#1FCC1F" stroke-width="0.45" vector-effect="non-scaling-stroke" font-family='"Liberation Sans", sans-serif'>A</text>
<text transform="translate(174.01,427.40) scale(1.020,0.140)" font-size="10.0" font-weight="bold" text-anchor="middle" fill="#FBAA0A" stroke="#FBAA0A" stroke-width="0.45" vector-effect="non-scaling-stroke" font-family='"Liberation Sans", sans-serif'>G</text>
<text transform="translate(174.01,426.40) scale(1.099,0.335)" font-size="10.0" font-weight="bold" text-anchor="middle" fill="#1FCC1F" stroke="#1FCC1F" stroke-width="0.45" vector-effect="non-scaling-stroke" font-family='"Liberation Sans", sans-serif'>A</text>
<text transform="translate(181.64,427.40) scale(1.020,1.830)" font-size="10.0" font-weight="bold" text-anchor="middle" fill="#FBAA0A" stroke="#FBAA0A" stroke-width="0.45" vector-effect="non-scaling-stroke" font-family='"Liberation Sans", sans-serif'>G</text>
<text transform="translate(189.27,427.40) scale(1.299,0.168)" font-size="10.0" font-weight="bold" text-anchor="middle" fill="#CC0A0A" stroke="#CC0A0A" stroke-width="0.45" vector-effect="non-scaling-stroke" font-family='"Liberation Sans", sans-serif'>T</text>
<text transform="translate(189.27,426.20) scale(1.020,1.103)" font-size="10.0" font-weight="bold" text-anchor="middle" fill="#FBAA0A" stroke="#FBAA0A" stroke-width="0.45" vector-effect="non-scaling-stroke" font-family='"Liberation Sans", sans-serif'>G</text>
<text transform="translate(196.90,427.40) scale(1.099,0.140)" font-size="10.0" font-weight="bold" text-anchor="middle" fill="#0A0ACC" stroke="#0A0ACC" stroke-width="0.45" vector-effect="non-scaling-stroke" font-family='"Liberation Sans", sans-serif'>C</text>
<text transform="translate(196.90,426.40) scale(1.299,0.615)" font-size="10.0" font-weight="bold" text-anchor="middle" fill="#CC0A0A" stroke="#CC0A0A" stroke-width="0.45" vector-effect="non-scaling-stroke" font-family='"Liberation Sans", sans-serif'>T</text>
<text transform="translate(204.53,427.40) scale(1.099,1.466)" font-size="10.0" font-weight="bold" text-anchor="middle" fill="#0A0ACC" stroke="#0A0ACC" stroke-width="0.45" vector-effect="non-scaling-stroke" font-family='"Liberation Sans", sans-serif'>C</text>
<text transform="translate(212.16,427.40) scale(1.020,0.140)" font-size="10.0" font-weight="bold" text-anchor="middle" fill="#FBAA0A" stroke="#FBAA0A" stroke-width="0.45" vector-effect="non-scaling-stroke" font-family='"Liberation Sans", sans-serif'>G</text>
<text transform="translate(212.16,426.40) scale(1.099,0.740)" font-size="10.0" font-weight="bold" text-anchor="middle" fill="#1FCC1F" stroke="#1FCC1F" stroke-width="0.45" vector-effect="non-scaling-stroke" font-family='"Liberation Sans", sans-serif'>A</text>
<text transform="translate(219.79,427.40) scale(1.099,0.140)" font-size="10.0" font-weight="bold" text-anchor="middle" fill="#1FCC1F" stroke="#1FCC1F" stroke-width="0.45" vector-effect="non-scaling-stroke" font-family='"Liberation Sans", sans-serif'>A</text>
<text transform="translate(219.79,426.40) scale(1.299,0.559)" font-size="10.0" font-weight="bold" text-anchor="middle" fill="#CC0A0A" stroke="#CC0A0A" stroke-width="0.45" vector-effect="non-scaling-stroke" font-family='"Liberation Sans", sans-serif'>T</text>
<text transform="translate(227.42,427.40) scale(1.299,1.830)" font-size="10.0" font-weight="bold" text-anchor="middle" fill="#CC0A0A" stroke="#CC0A0A" stroke-width="0.45" vector-effect="non-scaling-stroke" font-family='"Liberation Sans", sans-serif'>T</text>
<text transform="translate(235.06,427.40) scale(1.099,0.140)" font-size="10.0" font-weight="bold" text-anchor="middle" fill="#1FCC1F" stroke="#1FCC1F" stroke-width="0.45" vector-effect="non-scaling-stroke" font-family='"Liberation Sans", sans-serif'>A</text>
<text transform="translate(235.06,426.40) scale(1.020,1.103)" font-size="10.0" font-weight="bold" text-anchor="middle" fill="#FBAA0A" stroke="#FBAA0A" stroke-width="0.45" vector-effect="non-scaling-stroke" font-family='"Liberation Sans", sans-serif'>G</text>
<text transform="translate(166.88,448.10) scale(0.984,0.140)" font-size="10.0" font-weight="bold" text-anchor="middle" fill="#FBAA0A" stroke="#FBAA0A" stroke-width="0.45" vector-effect="non-scaling-stroke" font-family='"Liberation Sans", sans-serif'>G</text>
<text transform="translate(166.88,447.10) scale(1.060,0.223)" font-size="10.0" font-weight="bold" text-anchor="middle" fill="#1FCC1F" stroke="#1FCC1F" stroke-width="0.45" vector-effect="non-scaling-stroke" font-family='"Liberation Sans", sans-serif'>A</text>
<text transform="translate(174.24,448.10) scale(0.984,0.168)" font-size="10.0" font-weight="bold" text-anchor="middle" fill="#FBAA0A" stroke="#FBAA0A" stroke-width="0.45" vector-effect="non-scaling-stroke" font-family='"Liberation Sans", sans-serif'>G</text>
<text transform="translate(174.24,446.90) scale(1.060,0.880)" font-size="10.0" font-weight="bold" text-anchor="middle" fill="#1FCC1F" stroke="#1FCC1F" stroke-width="0.45" vector-effect="non-scaling-stroke" font-family='"Liberation Sans", sans-serif'>A</text>
<text transform="translate(181.60,448.10) scale(1.253,0.140)" font-size="10.0" font-weight="bold" text-anchor="middle" fill="#CC0A0A" stroke="#CC0A0A" stroke-width="0.45" vector-effect="non-scaling-stroke" font-family='"Liberation Sans", sans-serif'>T</text>
<text transform="translate(181.60,447.10) scale(0.984,1.508)" font-size="10.0" font-weight="bold" text-anchor="middle" fill="#FBAA0A" stroke="#FBAA0A" stroke-width="0.45" vector-effect="non-scaling-stroke" font-family='"Liberation Sans", sans-serif'>G</text>
<text transform="translate(188.96,448.10) scale(0.984,1.885)" font-size="10.0" font-weight="bold" text-anchor="middle" fill="#FBAA0A" stroke="#FBAA0A" stroke-width="0.45" vector-effect="non-scaling-stroke" font-family='"Liberation Sans", sans-serif'>G</text>
<text transform="translate(196.32,448.10) scale(1.253,1.718)" font-size="10.0" font-weight="bold" text-anchor="middle" fill="#CC0A0A" stroke="#CC0A0A" stroke-width="0.45" vector-effect="non-scaling-stroke" font-family='"Liberation Sans", sans-serif'>T</text>
<text transform="translate(203.68,448.10) scale(1.060,1.816)" font-size="10.0" font-weight="bold" text-anchor="middle" fill="#0A0ACC" stroke="#0A0ACC" stroke-width="0.45" vector-effect="non-scaling-stroke" font-family='"Liberation Sans", sans-serif'>C</text>
<text transform="translate(211.04,448.10) scale(0.984,0.223)" font-size="10.0" font-weight="bold" text-anchor="middle" fill="#FBAA0A" stroke="#FBAA0A" stroke-width="0.45" vector-effect="non-scaling-stroke" font-family='"Liberation Sans", sans-serif'>G</text>
<text transform="translate(211.04,446.50) scale(1.060,0.908)" font-size="10.0" font-weight="bold" text-anchor="middle" fill="#1FCC1F" stroke="#1FCC1F" stroke-width="0.45" vector-effect="non-scaling-stroke" font-family='"Liberation Sans", sans-serif'>A</text>
<text transform="translate(174.01,468.60) scale(1.099,0.098)" font-size="10.0" font-weight="bold" text-anchor="middle" fill="#0A0ACC" stroke="#0A0ACC" stroke-width="0.45" vector-effect="non-scaling-stroke" font-family='"Liberation Sans", sans-serif'>C</text>
<text transform="translate(174.01,467.90) scale(1.020,0.168)" font-size="10.0" font-weight="bold" text-anchor="middle" fill="#FBAA0A" stroke="#FBAA0A" stroke-width="0.45" vector-effect="non-scaling-stroke" font-family='"Liberation Sans", sans-serif'>G</text>
<text transform="translate(181.64,468.60) scale(1.020,2.095)" font-size="10.0" font-weight="bold" text-anchor="middle" fill="#FBAA0A" stroke="#FBAA0A" stroke-width="0.45" vector-effect="non-scaling-stroke" font-family='"Liberation Sans", sans-serif'>G</text>
<text transform="translate(189.27,468.60) scale(1.020,2.095)" font-size="10.0" font-weight="bold" text-anchor="middle" fill="#FBAA0A" stroke="#FBAA0A" stroke-width="0.45" vector-effect="non-scaling-stroke" font-family='"Liberation Sans", sans-serif'>G</text>
<text transform="translate(196.90,468.60) scale(1.099,0.098)" font-size="10.0" font-weight="bold" text-anchor="middle" fill="#0A0ACC" stroke="#0A0ACC" stroke-width="0.45" vector-effect="non-scaling-stroke" font-family='"Liberation Sans", sans-serif'>C</text>
<text transform="translate(196.90,467.90) scale(1.020,0.223)" font-size="10.0" font-weight="bold" text-anchor="middle" fill="#FBAA0A" stroke="#FBAA0A" stroke-width="0.45" vector-effect="non-scaling-stroke" font-family='"Liberation Sans", sans-serif'>G</text>
<text transform="translate(204.53,468.60) scale(1.299,0.447)" font-size="10.0" font-weight="bold" text-anchor="middle" fill="#CC0A0A" stroke="#CC0A0A" stroke-width="0.45" vector-effect="non-scaling-stroke" font-family='"Liberation Sans", sans-serif'>T</text>
<text transform="translate(204.53,465.40) scale(1.099,0.545)" font-size="10.0" font-weight="bold" text-anchor="middle" fill="#0A0ACC" stroke="#0A0ACC" stroke-width="0.45" vector-effect="non-scaling-stroke" font-family='"Liberation Sans", sans-serif'>C</text>
<text transform="translate(212.16,468.60) scale(1.020,2.318)" font-size="10.0" font-weight="bold" text-anchor="middle" fill="#FBAA0A" stroke="#FBAA0A" stroke-width="0.45" vector-effect="non-scaling-stroke" font-family='"Liberation Sans", sans-serif'>G</text>
<text transform="translate(219.79,468.60) scale(1.099,0.140)" font-size="10.0" font-weight="bold" text-anchor="middle" fill="#0A0ACC" stroke="#0A0ACC" stroke-width="0.45" vector-effect="non-scaling-stroke" font-family='"Liberation Sans", sans-serif'>C</text>
<text transform="translate(219.79,467.60) scale(1.099,1.732)" font-size="10.0" font-weight="bold" text-anchor="middle" fill="#1FCC1F" stroke="#1FCC1F" stroke-width="0.45" vector-effect="non-scaling-stroke" font-family='"Liberation Sans", sans-serif'>A</text>
<text transform="translate(227.42,468.60) scale(1.099,0.489)" font-size="10.0" font-weight="bold" text-anchor="middle" fill="#0A0ACC" stroke="#0A0ACC" stroke-width="0.45" vector-effect="non-scaling-stroke" font-family='"Liberation Sans", sans-serif'>C</text>
<text transform="translate(227.42,465.10) scale(1.299,0.615)" font-size="10.0" font-weight="bold" text-anchor="middle" fill="#CC0A0A" stroke="#CC0A0A" stroke-width="0.45" vector-effect="non-scaling-stroke" font-family='"Liberation Sans", sans-serif'>T</text>
<text transform="translate(235.06,468.60) scale(1.020,2.318)" font-size="10.0" font-weight="bold" text-anchor="middle" fill="#FBAA0A" stroke="#FBAA0A" stroke-width="0.45" vector-effect="non-scaling-stroke" font-family='"Liberation Sans", sans-serif'>G</text>
<text transform="translate(268.13,408.90) scale(1.237,0.112)" font-size="10.0" font-weight="bold" text-anchor="middle" fill="#CC0A0A" stroke="#CC0A0A" stroke-width="0.45" vector-effect="non-scaling-stroke" font-family='"Liberation Sans", sans-serif'>T</text>
<text transform="translate(268.13,408.10) scale(0.972,0.363)" font-size="10.0" font-weight="bold" text-anchor="middle" fill="#FBAA0A" stroke="#FBAA0A" stroke-width="0.45" vector-effect="non-scaling-stroke" font-family='"Liberation Sans", sans-serif'>G</text>
<text transform="translate(275.40,408.90) scale(0.972,0.279)" font-size="10.0" font-weight="bold" text-anchor="middle" fill="#FBAA0A" stroke="#FBAA0A" stroke-width="0.45" vector-effect="non-scaling-stroke" font-family='"Liberation Sans", sans-serif'>G</text>
<text transform="translate(275.40,406.90) scale(1.047,0.950)" font-size="10.0" font-weight="bold" text-anchor="middle" fill="#1FCC1F" stroke="#1FCC1F" stroke-width="0.45" vector-effect="non-scaling-stroke" font-family='"Liberation Sans", sans-serif'>A</text>
<text transform="translate(282.68,408.90) scale(1.047,1.983)" font-size="10.0" font-weight="bold" text-anchor="middle" fill="#0A0ACC" stroke="#0A0ACC" stroke-width="0.45" vector-effect="non-scaling-stroke" font-family='"Liberation Sans", sans-serif'>C</text>
<text transform="translate(289.94,408.90) scale(1.047,2.556)" font-size="10.0" font-weight="bold" text-anchor="middle" fill="#0A0ACC" stroke="#0A0ACC" stroke-width="0.45" vector-effect="non-scaling-stroke" font-family='"Liberation Sans", sans-serif'>C</text>
<text transform="translate(297.21,408.90) scale(0.972,0.321)" font-size="10.0" font-weight="bold" text-anchor="middle" fill="#FBAA0A" stroke="#FBAA0A" stroke-width="0.45" vector-effect="non-scaling-stroke" font-family='"Liberation Sans", sans-serif'>G</text>
<text transform="translate(297.21,406.60) scale(1.047,0.838)" font-size="10.0" font-weight="bold" text-anchor="middle" fill="#1FCC1F" stroke="#1FCC1F" stroke-width="0.45" vector-effect="non-scaling-stroke" font-family='"Liberation Sans", sans-serif'>A</text>
<text transform="translate(304.49,408.90) scale(1.047,0.140)" font-size="10.0" font-weight="bold" text-anchor="middle" fill="#1FCC1F" stroke="#1FCC1F" stroke-width="0.45" vector-effect="non-scaling-stroke" font-family='"Liberation Sans", sans-serif'>A</text>
<text transform="translate(304.49,407.90) scale(1.047,1.899)" font-size="10.0" font-weight="bold" text-anchor="middle" fill="#0A0ACC" stroke="#0A0ACC" stroke-width="0.45" vector-effect="non-scaling-stroke" font-family='"Liberation Sans", sans-serif'>C</text>
<text transform="translate(311.75,408.90) scale(1.047,0.112)" font-size="10.0" font-weight="bold" text-anchor="middle" fill="#1FCC1F" stroke="#1FCC1F" stroke-width="0.45" vector-effect="non-scaling-stroke" font-family='"Liberation Sans", sans-serif'>A</text>
<text transform="translate(311.75,408.10) scale(0.972,1.676)" font-size="10.0" font-weight="bold" text-anchor="middle" fill="#FBAA0A" stroke="#FBAA0A" stroke-width="0.45" vector-effect="non-scaling-stroke" font-family='"Liberation Sans", sans-serif'>G</text>
<text transform="translate(319.02,408.90) scale(1.047,2.654)" font-size="10.0" font-weight="bold" text-anchor="middle" fill="#0A0ACC" stroke="#0A0ACC" stroke-width="0.45" vector-effect="non-scaling-stroke" font-family='"Liberation Sans", sans-serif'>C</text>
<text transform="translate(326.30,408.90) scale(1.047,2.486)" font-size="10.0" font-weight="bold" text-anchor="middle" fill="#0A0ACC" stroke="#0A0ACC" stroke-width="0.45" vector-effect="non-scaling-stroke" font-family='"Liberation Sans", sans-serif'>C</text>
<text transform="translate(333.56,408.90) scale(1.237,0.098)" font-size="10.0" font-weight="bold" text-anchor="middle" fill="#CC0A0A" stroke="#CC0A0A" stroke-width="0.45" vector-effect="non-scaling-stroke" font-family='"Liberation Sans", sans-serif'>T</text>
<text transform="translate(333.56,408.20) scale(1.047,2.416)" font-size="10.0" font-weight="bold" text-anchor="middle" fill="#0A0ACC" stroke="#0A0ACC" stroke-width="0.45" vector-effect="non-scaling-stroke" font-family='"Liberation Sans", sans-serif'>C</text>
<text transform="translate(282.58,429.90) scale(1.060,0.112)" font-size="10.0" font-weight="bold" text-anchor="middle" fill="#1FCC1F" stroke="#1FCC1F" stroke-width="0.45" vector-effect="non-scaling-stroke" font-family='"Liberation Sans", sans-serif'>A</text>
<text transform="translate(282.58,429.10) scale(1.060,0.489)" font-size="10.0" font-weight="bold" text-anchor="middle" fill="#0A0ACC" stroke="#0A0ACC" stroke-width="0.45" vector-effect="non-scaling-stroke" font-family='"Liberation Sans", sans-serif'>C</text>
<text transform="translate(289.94,429.90) scale(1.253,0.112)" font-size="10.0" font-weight="bold" text-anchor="middle" fill="#CC0A0A" stroke="#CC0A0A" stroke-width="0.45" vector-effect="non-scaling-stroke" font-family='"Liberation Sans", sans-serif'>T</text>
<text transform="translate(289.94,429.10) scale(1.060,0.656)" font-size="10.0" font-weight="bold" text-anchor="middle" fill="#0A0ACC" stroke="#0A0ACC" stroke-width="0.45" vector-effect="non-scaling-stroke" font-family='"Liberation Sans", sans-serif'>C</text>
<text transform="translate(297.30,429.90) scale(1.060,1.620)" font-size="10.0" font-weight="bold" text-anchor="middle" fill="#1FCC1F" stroke="#1FCC1F" stroke-width="0.45" vector-effect="non-scaling-stroke" font-family='"Liberation Sans", sans-serif'>A</text>
<text transform="translate(304.66,429.90) scale(1.060,2.542)" font-size="10.0" font-weight="bold" text-anchor="middle" fill="#0A0ACC" stroke="#0A0ACC" stroke-width="0.45" vector-effect="non-scaling-stroke" font-family='"Liberation Sans", sans-serif'>C</text>
<text transform="translate(312.02,429.90) scale(1.060,0.447)" font-size="10.0" font-weight="bold" text-anchor="middle" fill="#1FCC1F" stroke="#1FCC1F" stroke-width="0.45" vector-effect="non-scaling-stroke" font-family='"Liberation Sans", sans-serif'>A</text>
<text transform="translate(312.02,426.70) scale(0.984,0.978)" font-size="10.0" font-weight="bold" text-anchor="middle" fill="#FBAA0A" stroke="#FBAA0A" stroke-width="0.45" vector-effect="non-scaling-stroke" font-family='"Liberation Sans", sans-serif'>G</text>
<text transform="translate(319.38,429.90) scale(1.060,2.584)" font-size="10.0" font-weight="bold" text-anchor="middle" fill="#0A0ACC" stroke="#0A0ACC" stroke-width="0.45" vector-effect="non-scaling-stroke" font-family='"Liberation Sans", sans-serif'>C</text>
<text transform="translate(326.74,429.90) scale(1.060,2.221)" font-size="10.0" font-weight="bold" text-anchor="middle" fill="#0A0ACC" stroke="#0A0ACC" stroke-width="0.45" vector-effect="non-scaling-stroke" font-family='"Liberation Sans", sans-serif'>C</text>
<text transform="translate(334.10,429.90) scale(1.253,0.084)" font-size="10.0" font-weight="bold" text-anchor="middle" fill="#CC0A0A" stroke="#CC0A0A" stroke-width="0.45" vector-effect="non-scaling-stroke" font-family='"Liberation Sans", sans-serif'>T</text>
<text transform="translate(334.10,429.30) scale(1.060,2.095)" font-size="10.0" font-weight="bold" text-anchor="middle" fill="#0A0ACC" stroke="#0A0ACC" stroke-width="0.45" vector-effect="non-scaling-stroke" font-family='"Liberation Sans", sans-serif'>C</text>
<text transform="translate(341.46,429.90) scale(1.060,0.112)" font-size="10.0" font-weight="bold" text-anchor="middle" fill="#0A0ACC" stroke="#0A0ACC" stroke-width="0.45" vector-effect="non-scaling-stroke" font-family='"Liberation Sans", sans-serif'>C</text>
<text transform="translate(341.46,429.10) scale(1.060,0.223)" font-size="10.0" font-weight="bold" text-anchor="middle" fill="#1FCC1F" stroke="#1FCC1F" stroke-width="0.45" vector-effect="non-scaling-stroke" font-family='"Liberation Sans", sans-serif'>A</text>
<text transform="translate(282.61,451.00) scale(1.069,2.207)" font-size="10.0" font-weight="bold" text-anchor="middle" fill="#0A0ACC" stroke="#0A0ACC" stroke-width="0.45" vector-effect="non-scaling-stroke" font-family='"Liberation Sans", sans-serif'>C</text>
<text transform="translate(290.03,451.00) scale(1.263,0.140)" font-size="10.0" font-weight="bold" text-anchor="middle" fill="#CC0A0A" stroke="#CC0A0A" stroke-width="0.45" vector-effect="non-scaling-stroke" font-family='"Liberation Sans", sans-serif'>T</text>
<text transform="translate(290.03,450.00) scale(1.069,2.081)" font-size="10.0" font-weight="bold" text-anchor="middle" fill="#0A0ACC" stroke="#0A0ACC" stroke-width="0.45" vector-effect="non-scaling-stroke" font-family='"Liberation Sans", sans-serif'>C</text>
<text transform="translate(297.45,451.00) scale(1.069,0.223)" font-size="10.0" font-weight="bold" text-anchor="middle" fill="#1FCC1F" stroke="#1FCC1F" stroke-width="0.45" vector-effect="non-scaling-stroke" font-family='"Liberation Sans", sans-serif'>A</text>
<text transform="translate(297.45,449.40) scale(1.069,0.922)" font-size="10.0" font-weight="bold" text-anchor="middle" fill="#0A0ACC" stroke="#0A0ACC" stroke-width="0.45" vector-effect="non-scaling-stroke" font-family='"Liberation Sans", sans-serif'>C</text>
<text transform="translate(304.87,451.00) scale(1.069,2.458)" font-size="10.0" font-weight="bold" text-anchor="middle" fill="#0A0ACC" stroke="#0A0ACC" stroke-width="0.45" vector-effect="non-scaling-stroke" font-family='"Liberation Sans", sans-serif'>C</text>
<text transform="translate(312.29,451.00) scale(1.069,0.112)" font-size="10.0" font-weight="bold" text-anchor="middle" fill="#1FCC1F" stroke="#1FCC1F" stroke-width="0.45" vector-effect="non-scaling-stroke" font-family='"Liberation Sans", sans-serif'>A</text>
<text transform="translate(312.29,450.20) scale(0.992,2.081)" font-size="10.0" font-weight="bold" text-anchor="middle" fill="#FBAA0A" stroke="#FBAA0A" stroke-width="0.45" vector-effect="non-scaling-stroke" font-family='"Liberation Sans", sans-serif'>G</text>
<text transform="translate(319.71,451.00) scale(1.069,2.332)" font-size="10.0" font-weight="bold" text-anchor="middle" fill="#0A0ACC" stroke="#0A0ACC" stroke-width="0.45" vector-effect="non-scaling-stroke" font-family='"Liberation Sans", sans-serif'>C</text>
<text transform="translate(327.13,451.00) scale(1.069,2.207)" font-size="10.0" font-weight="bold" text-anchor="middle" fill="#0A0ACC" stroke="#0A0ACC" stroke-width="0.45" vector-effect="non-scaling-stroke" font-family='"Liberation Sans", sans-serif'>C</text>
<text transform="translate(334.55,451.00) scale(1.263,0.140)" font-size="10.0" font-weight="bold" text-anchor="middle" fill="#CC0A0A" stroke="#CC0A0A" stroke-width="0.45" vector-effect="non-scaling-stroke" font-family='"Liberation Sans", sans-serif'>T</text>
<text transform="translate(334.55,450.00) scale(1.069,1.718)" font-size="10.0" font-weight="bold" text-anchor="middle" fill="#0A0ACC" stroke="#0A0ACC" stroke-width="0.45" vector-effect="non-scaling-stroke" font-family='"Liberation Sans", sans-serif'>C</text>
<text transform="translate(341.97,451.00) scale(1.069,0.223)" font-size="10.0" font-weight="bold" text-anchor="middle" fill="#1FCC1F" stroke="#1FCC1F" stroke-width="0.45" vector-effect="non-scaling-stroke" font-family='"Liberation Sans", sans-serif'>A</text>
<text transform="translate(341.97,449.40) scale(1.069,0.922)" font-size="10.0" font-weight="bold" text-anchor="middle" fill="#0A0ACC" stroke="#0A0ACC" stroke-width="0.45" vector-effect="non-scaling-stroke" font-family='"Liberation Sans", sans-serif'>C</text>
<text transform="translate(282.58,472.30) scale(0.984,0.168)" font-size="10.0" font-weight="bold" text-anchor="middle" fill="#FBAA0A" stroke="#FBAA0A" stroke-width="0.45" vector-effect="non-scaling-stroke" font-family='"Liberation Sans", sans-serif'>G</text>
<text transform="translate(282.58,471.10) scale(1.060,0.447)" font-size="10.0" font-weight="bold" text-anchor="middle" fill="#0A0ACC" stroke="#0A0ACC" stroke-width="0.45" vector-effect="non-scaling-stroke" font-family='"Liberation Sans", sans-serif'>C</text>
<text transform="translate(289.94,472.30) scale(1.253,0.168)" font-size="10.0" font-weight="bold" text-anchor="middle" fill="#CC0A0A" stroke="#CC0A0A" stroke-width="0.45" vector-effect="non-scaling-stroke" font-family='"Liberation Sans", sans-serif'>T</text>
<text transform="translate(289.94,471.10) scale(1.060,1.760)" font-size="10.0" font-weight="bold" text-anchor="middle" fill="#0A0ACC" stroke="#0A0ACC" stroke-width="0.45" vector-effect="non-scaling-stroke" font-family='"Liberation Sans", sans-serif'>C</text>
<text transform="translate(297.30,472.30) scale(1.060,2.360)" font-size="10.0" font-weight="bold" text-anchor="middle" fill="#0A0ACC" stroke="#0A0ACC" stroke-width="0.45" vector-effect="non-scaling-stroke" font-family='"Liberation Sans", sans-serif'>C</text>
<text transform="translate(304.66,472.30) scale(1.060,0.098)" font-size="10.0" font-weight="bold" text-anchor="middle" fill="#1FCC1F" stroke="#1FCC1F" stroke-width="0.45" vector-effect="non-scaling-stroke" font-family='"Liberation Sans", sans-serif'>A</text>
<text transform="translate(304.66,471.60) scale(1.060,2.528)" font-size="10.0" font-weight="bold" text-anchor="middle" fill="#0A0ACC" stroke="#0A0ACC" stroke-width="0.45" vector-effect="non-scaling-stroke" font-family='"Liberation Sans", sans-serif'>C</text>
<text transform="translate(312.02,472.30) scale(1.253,0.168)" font-size="10.0" font-weight="bold" text-anchor="middle" fill="#CC0A0A" stroke="#CC0A0A" stroke-width="0.45" vector-effect="non-scaling-stroke" font-family='"Liberation Sans", sans-serif'>T</text>
<text transform="translate(312.02,471.10) scale(0.984,1.885)" font-size="10.0" font-weight="bold" text-anchor="middle" fill="#FBAA0A" stroke="#FBAA0A" stroke-width="0.45" vector-effect="non-scaling-stroke" font-family='"Liberation Sans", sans-serif'>G</text>
<text transform="translate(319.38,472.30) scale(1.060,2.584)" font-size="10.0" font-weight="bold" text-anchor="middle" fill="#0A0ACC" stroke="#0A0ACC" stroke-width="0.45" vector-effect="non-scaling-stroke" font-family='"Liberation Sans", sans-serif'>C</text>
<text transform="translate(326.74,472.30) scale(1.060,2.360)" font-size="10.0" font-weight="bold" text-anchor="middle" fill="#0A0ACC" stroke="#0A0ACC" stroke-width="0.45" vector-effect="non-scaling-stroke" font-family='"Liberation Sans", sans-serif'>C</text>
<text transform="translate(334.10,472.30) scale(1.253,0.223)" font-size="10.0" font-weight="bold" text-anchor="middle" fill="#CC0A0A" stroke="#CC0A0A" stroke-width="0.45" vector-effect="non-scaling-stroke" font-family='"Liberation Sans", sans-serif'>T</text>
<text transform="translate(334.10,470.70) scale(1.060,1.425)" font-size="10.0" font-weight="bold" text-anchor="middle" fill="#0A0ACC" stroke="#0A0ACC" stroke-width="0.45" vector-effect="non-scaling-stroke" font-family='"Liberation Sans", sans-serif'>C</text>
<text transform="translate(341.46,472.30) scale(1.253,0.168)" font-size="10.0" font-weight="bold" text-anchor="middle" fill="#CC0A0A" stroke="#CC0A0A" stroke-width="0.45" vector-effect="non-scaling-stroke" font-family='"Liberation Sans", sans-serif'>T</text>
<text transform="translate(341.46,471.10) scale(1.060,1.159)" font-size="10.0" font-weight="bold" text-anchor="middle" fill="#0A0ACC" stroke="#0A0ACC" stroke-width="0.45" vector-effect="non-scaling-stroke" font-family='"Liberation Sans", sans-serif'>C</text>
<text transform="translate(275.73,493.80) scale(1.044,0.196)" font-size="10.0" font-weight="bold" text-anchor="middle" fill="#0A0ACC" stroke="#0A0ACC" stroke-width="0.45" vector-effect="non-scaling-stroke" font-family='"Liberation Sans", sans-serif'>C</text>
<text transform="translate(275.73,492.40) scale(0.969,0.363)" font-size="10.0" font-weight="bold" text-anchor="middle" fill="#FBAA0A" stroke="#FBAA0A" stroke-width="0.45" vector-effect="non-scaling-stroke" font-family='"Liberation Sans", sans-serif'>G</text>
<text transform="translate(282.98,493.80) scale(1.044,0.112)" font-size="10.0" font-weight="bold" text-anchor="middle" fill="#1FCC1F" stroke="#1FCC1F" stroke-width="0.45" vector-effect="non-scaling-stroke" font-family='"Liberation Sans", sans-serif'>A</text>
<text transform="translate(282.98,493.00) scale(1.044,1.369)" font-size="10.0" font-weight="bold" text-anchor="middle" fill="#0A0ACC" stroke="#0A0ACC" stroke-width="0.45" vector-effect="non-scaling-stroke" font-family='"Liberation Sans", sans-serif'>C</text>
<text transform="translate(290.23,493.80) scale(1.044,2.011)" font-size="10.0" font-weight="bold" text-anchor="middle" fill="#0A0ACC" stroke="#0A0ACC" stroke-width="0.45" vector-effect="non-scaling-stroke" font-family='"Liberation Sans", sans-serif'>C</text>
<text transform="translate(297.48,493.80) scale(1.044,0.196)" font-size="10.0" font-weight="bold" text-anchor="middle" fill="#0A0ACC" stroke="#0A0ACC" stroke-width="0.45" vector-effect="non-scaling-stroke" font-family='"Liberation Sans", sans-serif'>C</text>
<text transform="translate(297.48,492.40) scale(1.044,1.425)" font-size="10.0" font-weight="bold" text-anchor="middle" fill="#1FCC1F" stroke="#1FCC1F" stroke-width="0.45" vector-effect="non-scaling-stroke" font-family='"Liberation Sans", sans-serif'>A</text>
<text transform="translate(304.73,493.80) scale(1.044,2.570)" font-size="10.0" font-weight="bold" text-anchor="middle" fill="#0A0ACC" stroke="#0A0ACC" stroke-width="0.45" vector-effect="non-scaling-stroke" font-family='"Liberation Sans", sans-serif'>C</text>
<text transform="translate(311.98,493.80) scale(1.044,0.112)" font-size="10.0" font-weight="bold" text-anchor="middle" fill="#1FCC1F" stroke="#1FCC1F" stroke-width="0.45" vector-effect="non-scaling-stroke" font-family='"Liberation Sans", sans-serif'>A</text>
<text transform="translate(311.98,493.00) scale(0.969,1.494)" font-size="10.0" font-weight="bold" text-anchor="middle" fill="#FBAA0A" stroke="#FBAA0A" stroke-width="0.45" vector-effect="non-scaling-stroke" font-family='"Liberation Sans", sans-serif'>G</text>
<text transform="translate(319.23,493.80) scale(1.044,2.598)" font-size="10.0" font-weight="bold" text-anchor="middle" fill="#0A0ACC" stroke="#0A0ACC" stroke-width="0.45" vector-effect="non-scaling-stroke" font-family='"Liberation Sans", sans-serif'>C</text>
<text transform="translate(326.48,493.80) scale(1.044,2.486)" font-size="10.0" font-weight="bold" text-anchor="middle" fill="#0A0ACC" stroke="#0A0ACC" stroke-width="0.45" vector-effect="non-scaling-stroke" font-family='"Liberation Sans", sans-serif'>C</text>
<text transform="translate(333.73,493.80) scale(1.234,0.168)" font-size="10.0" font-weight="bold" text-anchor="middle" fill="#CC0A0A" stroke="#CC0A0A" stroke-width="0.45" vector-effect="non-scaling-stroke" font-family='"Liberation Sans", sans-serif'>T</text>
<text transform="translate(333.73,492.60) scale(1.044,1.955)" font-size="10.0" font-weight="bold" text-anchor="middle" fill="#0A0ACC" stroke="#0A0ACC" stroke-width="0.45" vector-effect="non-scaling-stroke" font-family='"Liberation Sans", sans-serif'>C</text>
<text transform="translate(340.98,493.80) scale(1.044,0.321)" font-size="10.0" font-weight="bold" text-anchor="middle" fill="#0A0ACC" stroke="#0A0ACC" stroke-width="0.45" vector-effect="non-scaling-stroke" font-family='"Liberation Sans", sans-serif'>C</text>
<text transform="translate(340.98,491.50) scale(1.044,0.489)" font-size="10.0" font-weight="bold" text-anchor="middle" fill="#1FCC1F" stroke="#1FCC1F" stroke-width="0.45" vector-effect="non-scaling-stroke" font-family='"Liberation Sans", sans-serif'>A</text>
<text transform="translate(348.23,493.80) scale(1.234,0.140)" font-size="10.0" font-weight="bold" text-anchor="middle" fill="#CC0A0A" stroke="#CC0A0A" stroke-width="0.45" vector-effect="non-scaling-stroke" font-family='"Liberation Sans", sans-serif'>T</text>
<text transform="translate(348.23,492.80) scale(1.044,0.615)" font-size="10.0" font-weight="bold" text-anchor="middle" fill="#0A0ACC" stroke="#0A0ACC" stroke-width="0.45" vector-effect="non-scaling-stroke" font-family='"Liberation Sans", sans-serif'>C</text>
<rect x="476.9" y="13.6" width="208.10000000000002" height="490.2" fill="#D6D6D6"/>
<path d="M476.90,13.6h0.5V503.8h-0.5zM478.19,13.6h0.5V503.8h-0.5zM479.47,13.6h0.5V503.8h-0.5zM480.76,13.6h0.5V503.8h-0.5zM482.04,13.6h0.5V503.8h-0.5zM483.33,13.6h0.5V503.8h-0.5zM484.61,13.6h0.5V503.8h-0.5zM485.90,13.6h0.5V503.8h-0.5zM487.19,13.6h0.5V503.8h-0.5zM488.47,13.6h0.5V503.8h-0.5zM489.76,13.6h0.5V503.8h-0.5zM491.04,13.6h0.5V503.8h-0.5zM492.33,13.6h0.5V503.8h-0.5zM493.61,13.6h0.5V503.8h-0.5zM494.90,13.6h0.5V503.8h-0.5zM496.19,13.6h0.5V503.8h-0.5zM497.47,13.6h0.5V503.8h-0.5zM498.76,13.6h0.5V503.8h-0.5zM500.04,13.6h0.5V503.8h-0.5zM501.33,13.6h0.5V503.8h-0.5zM502.61,13.6h0.5V503.8h-0.5zM503.90,13.6h0.5V503.8h-0.5zM505.19,13.6h0.5V503.8h-0.5zM506.47,13.6h0.5V503.8h-0.5zM507.76,13.6h0.5V503.8h-0.5zM509.04,13.6h0.5V503.8h-0.5zM510.33,13.6h0.5V503.8h-0.5zM511.61,13.6h0.5V503.8h-0.5zM512.90,13.6h0.5V503.8h-0.5zM514.19,13.6h0.5V503.8h-0.5zM515.47,13.6h0.5V503.8h-0.5zM516.76,13.6h0.5V503.8h-0.5zM518.04,13.6h0.5V503.8h-0.5zM519.33,13.6h0.5V503.8h-0.5zM520.61,13.6h0.5V503.8h-0.5zM521.90,13.6h0.5V503.8h-0.5zM523.19,13.6h0.5V503.8h-0.5zM524.47,13.6h0.5V503.8h-0.5zM525.76,13.6h0.5V503.8h-0.5zM527.04,13.6h0.5V503.8h-0.5zM528.33,13.6h0.5V503.8h-0.5zM529.61,13.6h0.5V503.8h-0.5zM530.90,13.6h0.5V503.8h-0.5zM532.19,13.6h0.5V503.8h-0.5zM533.47,13.6h0.5V503.8h-0.5zM534.76,13.6h0.5V503.8h-0.5zM536.04,13.6h0.5V503.8h-0.5zM537.33,13.6h0.5V503.8h-0.5zM538.61,13.6h0.5V503.8h-0.5zM539.90,13.6h0.5V503.8h-0.5zM541.19,13.6h0.5V503.8h-0.5zM542.47,13.6h0.5V503.8h-0.5zM543.76,13.6h0.5V503.8h-0.5zM545.04,13.6h0.5V503.8h-0.5zM546.33,13.6h0.5V503.8h-0.5zM547.61,13.6h0.5V503.8h-0.5zM548.90,13.6h0.5V503.8h-0.5zM550.19,13.6h0.5V503.8h-0.5zM551.47,13.6h0.5V503.8h-0.5zM552.76,13.6h0.5V503.8h-0.5zM554.04,13.6h0.5V503.8h-0.5zM555.33,13.6h0.5V503.8h-0.5zM556.61,13.6h0.5V503.8h-0.5zM557.90,13.6h0.5V503.8h-0.5zM559.19,13.6h0.5V503.8h-0.5zM560.47,13.6h0.5V503.8h-0.5zM561.76,13.6h0.5V503.8h-0.5zM563.04,13.6h0.5V503.8h-0.5zM564.33,13.6h0.5V503.8h-0.5zM565.61,13.6h0.5V503.8h-0.5zM566.90,13.6h0.5V503.8h-0.5zM568.19,13.6h0.5V503.8h-0.5zM569.47,13.6h0.5V503.8h-0.5zM570.76,13.6h0.5V503.8h-0.5zM572.04,13.6h0.5V503.8h-0.5zM573.33,13.6h0.5V503.8h-0.5zM574.61,13.6h0.5V503.8h-0.5zM575.90,13.6h0.5V503.8h-0.5zM577.19,13.6h0.5V503.8h-0.5zM578.47,13.6h0.5V503.8h-0.5zM579.76,13.6h0.5V503.8h-0.5zM581.04,13.6h0.5V503.8h-0.5zM582.33,13.6h0.5V503.8h-0.5zM583.61,13.6h0.5V503.8h-0.5zM584.90,13.6h0.5V503.8h-0.5zM586.19,13.6h0.5V503.8h-0.5zM587.47,13.6h0.5V503.8h-0.5zM588.76,13.6h0.5V503.8h-0.5zM590.04,13.6h0.5V503.8h-0.5zM591.33,13.6h0.5V503.8h-0.5zM592.61,13.6h0.5V503.8h-0.5zM593.90,13.6h0.5V503.8h-0.5zM595.19,13.6h0.5V503.8h-0.5zM596.47,13.6h0.5V503.8h-0.5zM597.76,13.6h0.5V503.8h-0.5zM599.04,13.6h0.5V503.8h-0.5zM600.33,13.6h0.5V503.8h-0.5zM601.61,13.6h0.5V503.8h-0.5zM602.90,13.6h0.5V503.8h-0.5zM604.19,13.6h0.5V503.8h-0.5zM605.47,13.6h0.5V503.8h-0.5zM606.76,13.6h0.5V503.8h-0.5zM608.04,13.6h0.5V503.8h-0.5zM609.33,13.6h0.5V503.8h-0.5zM610.61,13.6h0.5V503.8h-0.5zM611.90,13.6h0.5V503.8h-0.5zM613.19,13.6h0.5V503.8h-0.5zM614.47,13.6h0.5V503.8h-0.5zM615.76,13.6h0.5V503.8h-0.5zM617.04,13.6h0.5V503.8h-0.5zM618.33,13.6h0.5V503.8h-0.5zM619.61,13.6h0.5V503.8h-0.5zM620.90,13.6h0.5V503.8h-0.5zM622.19,13.6h0.5V503.8h-0.5zM623.47,13.6h0.5V503.8h-0.5zM624.76,13.6h0.5V503.8h-0.5zM626.04,13.6h0.5V503.8h-0.5zM627.33,13.6h0.5V503.8h-0.5zM628.61,13.6h0.5V503.8h-0.5zM629.90,13.6h0.5V503.8h-0.5zM631.19,13.6h0.5V503.8h-0.5zM632.47,13.6h0.5V503.8h-0.5zM633.76,13.6h0.5V503.8h-0.5zM635.04,13.6h0.5V503.8h-0.5zM636.33,13.6h0.5V503.8h-0.5zM637.61,13.6h0.5V503.8h-0.5zM638.90,13.6h0.5V503.8h-0.5zM640.19,13.6h0.5V503.8h-0.5zM641.47,13.6h0.5V503.8h-0.5zM642.76,13.6h0.5V503.8h-0.5zM644.04,13.6h0.5V503.8h-0.5zM645.33,13.6h0.5V503.8h-0.5zM646.61,13.6h0.5V503.8h-0.5zM647.90,13.6h0.5V503.8h-0.5zM649.19,13.6h0.5V503.8h-0.5zM650.47,13.6h0.5V503.8h-0.5zM651.76,13.6h0.5V503.8h-0.5zM653.04,13.6h0.5V503.8h-0.5zM654.33,13.6h0.5V503.8h-0.5zM655.61,13.6h0.5V503.8h-0.5zM656.90,13.6h0.5V503.8h-0.5zM658.19,13.6h0.5V503.8h-0.5zM659.47,13.6h0.5V503.8h-0.5zM660.76,13.6h0.5V503.8h-0.5zM662.04,13.6h0.5V503.8h-0.5zM663.33,13.6h0.5V503.8h-0.5zM664.61,13.6h0.5V503.8h-0.5zM665.90,13.6h0.5V503.8h-0.5zM667.19,13.6h0.5V503.8h-0.5zM668.47,13.6h0.5V503.8h-0.5zM669.76,13.6h0.5V503.8h-0.5zM671.04,13.6h0.5V503.8h-0.5zM672.33,13.6h0.5V503.8h-0.5zM673.61,13.6h0.5V503.8h-0.5zM674.90,13.6h0.5V503.8h-0.5zM676.19,13.6h0.5V503.8h-0.5zM677.47,13.6h0.5V503.8h-0.5zM678.76,13.6h0.5V503.8h-0.5zM680.04,13.6h0.5V503.8h-0.5zM681.33,13.6h0.5V503.8h-0.5zM682.61,13.6h0.5V503.8h-0.5zM683.90,13.6h0.5V503.8h-0.5z" fill="#fff" fill-opacity="0.3"/><path d="M476.9,13.60v0.5H685v-0.5zM476.9,14.89v0.5H685v-0.5zM476.9,16.17v0.5H685v-0.5zM476.9,17.46v0.5H685v-0.5zM476.9,18.74v0.5H685v-0.5zM476.9,20.03v0.5H685v-0.5zM476.9,21.31v0.5H685v-0.5zM476.9,22.60v0.5H685v-0.5zM476.9,23.89v0.5H685v-0.5zM476.9,25.17v0.5H685v-0.5zM476.9,26.46v0.5H685v-0.5zM476.9,27.74v0.5H685v-0.5zM476.9,29.03v0.5H685v-0.5zM476.9,30.31v0.5H685v-0.5zM476.9,31.60v0.5H685v-0.5zM476.9,32.89v0.5H685v-0.5zM476.9,34.17v0.5H685v-0.5zM476.9,35.46v0.5H685v-0.5zM476.9,36.74v0.5H685v-0.5zM476.9,38.03v0.5H685v-0.5zM476.9,39.31v0.5H685v-0.5zM476.9,40.60v0.5H685v-0.5zM476.9,41.89v0.5H685v-0.5zM476.9,43.17v0.5H685v-0.5zM476.9,44.46v0.5H685v-0.5zM476.9,45.74v0.5H685v-0.5zM476.9,47.03v0.5H685v-0.5zM476.9,48.31v0.5H685v-0.5zM476.9,49.60v0.5H685v-0.5zM476.9,50.89v0.5H685v-0.5zM476.9,52.17v0.5H685v-0.5zM476.9,53.46v0.5H685v-0.5zM476.9,54.74v0.5H685v-0.5zM476.9,56.03v0.5H685v-0.5zM476.9,57.31v0.5H685v-0.5zM476.9,58.60v0.5H685v-0.5zM476.9,59.89v0.5H685v-0.5zM476.9,61.17v0.5H685v-0.5zM476.9,62.46v0.5H685v-0.5zM476.9,63.74v0.5H685v-0.5zM476.9,65.03v0.5H685v-0.5zM476.9,66.31v0.5H685v-0.5zM476.9,67.60v0.5H685v-0.5zM476.9,68.89v0.5H685v-0.5zM476.9,70.17v0.5H685v-0.5zM476.9,71.46v0.5H685v-0.5zM476.9,72.74v0.5H685v-0.5zM476.9,74.03v0.5H685v-0.5zM476.9,75.31v0.5H685v-0.5zM476.9,76.60v0.5H685v-0.5zM476.9,77.89v0.5H685v-0.5zM476.9,79.17v0.5H685v-0.5zM476.9,80.46v0.5H685v-0.5zM476.9,81.74v0.5H685v-0.5zM476.9,83.03v0.5H685v-0.5zM476.9,84.31v0.5H685v-0.5zM476.9,85.60v0.5H685v-0.5zM476.9,86.89v0.5H685v-0.5zM476.9,88.17v0.5H685v-0.5zM476.9,89.46v0.5H685v-0.5zM476.9,90.74v0.5H685v-0.5zM476.9,92.03v0.5H685v-0.5zM476.9,93.31v0.5H685v-0.5zM476.9,94.60v0.5H685v-0.5zM476.9,95.89v0.5H685v-0.5zM476.9,97.17v0.5H685v-0.5zM476.9,98.46v0.5H685v-0.5zM476.9,99.74v0.5H685v-0.5zM476.9,101.03v0.5H685v-0.5zM476.9,102.31v0.5H685v-0.5zM476.9,103.60v0.5H685v-0.5zM476.9,104.89v0.5H685v-0.5zM476.9,106.17v0.5H685v-0.5zM476.9,107.46v0.5H685v-0.5zM476.9,108.74v0.5H685v-0.5zM476.9,110.03v0.5H685v-0.5zM476.9,111.31v0.5H685v-0.5zM476.9,112.60v0.5H685v-0.5zM476.9,113.89v0.5H685v-0.5zM476.9,115.17v0.5H685v-0.5zM476.9,116.46v0.5H685v-0.5zM476.9,117.74v0.5H685v-0.5zM476.9,119.03v0.5H685v-0.5zM476.9,120.31v0.5H685v-0.5zM476.9,121.60v0.5H685v-0.5zM476.9,122.89v0.5H685v-0.5zM476.9,124.17v0.5H685v-0.5zM476.9,125.46v0.5H685v-0.5zM476.9,126.74v0.5H685v-0.5zM476.9,128.03v0.5H685v-0.5zM476.9,129.31v0.5H685v-0.5zM476.9,130.60v0.5H685v-0.5zM476.9,131.89v0.5H685v-0.5zM476.9,133.17v0.5H685v-0.5zM476.9,134.46v0.5H685v-0.5zM476.9,135.74v0.5H685v-0.5zM476.9,137.03v0.5H685v-0.5zM476.9,138.31v0.5H685v-0.5zM476.9,139.60v0.5H685v-0.5zM476.9,140.89v0.5H685v-0.5zM476.9,142.17v0.5H685v-0.5zM476.9,143.46v0.5H685v-0.5zM476.9,144.74v0.5H685v-0.5zM476.9,146.03v0.5H685v-0.5zM476.9,147.31v0.5H685v-0.5zM476.9,148.60v0.5H685v-0.5zM476.9,149.89v0.5H685v-0.5zM476.9,151.17v0.5H685v-0.5zM476.9,152.46v0.5H685v-0.5zM476.9,153.74v0.5H685v-0.5zM476.9,155.03v0.5H685v-0.5zM476.9,156.31v0.5H685v-0.5zM476.9,157.60v0.5H685v-0.5zM476.9,158.89v0.5H685v-0.5zM476.9,160.17v0.5H685v-0.5zM476.9,161.46v0.5H685v-0.5zM476.9,162.74v0.5H685v-0.5zM476.9,164.03v0.5H685v-0.5zM476.9,165.31v0.5H685v-0.5zM476.9,166.60v0.5H685v-0.5zM476.9,167.89v0.5H685v-0.5zM476.9,169.17v0.5H685v-0.5zM476.9,170.46v0.5H685v-0.5zM476.9,171.74v0.5H685v-0.5zM476.9,173.03v0.5H685v-0.5zM476.9,174.31v0.5H685v-0.5zM476.9,175.60v0.5H685v-0.5zM476.9,176.89v0.5H685v-0.5zM476.9,178.17v0.5H685v-0.5zM476.9,179.46v0.5H685v-0.5zM476.9,180.74v0.5H685v-0.5zM476.9,182.03v0.5H685v-0.5zM476.9,183.31v0.5H685v-0.5zM476.9,184.60v0.5H685v-0.5zM476.9,185.89v0.5H685v-0.5zM476.9,187.17v0.5H685v-0.5zM476.9,188.46v0.5H685v-0.5zM476.9,189.74v0.5H685v-0.5zM476.9,191.03v0.5H685v-0.5zM476.9,192.31v0.5H685v-0.5zM476.9,193.60v0.5H685v-0.5zM476.9,194.89v0.5H685v-0.5zM476.9,196.17v0.5H685v-0.5zM476.9,197.46v0.5H685v-0.5zM476.9,198.74v0.5H685v-0.5zM476.9,200.03v0.5H685v-0.5zM476.9,201.31v0.5H685v-0.5zM476.9,202.60v0.5H685v-0.5zM476.9,203.89v0.5H685v-0.5zM476.9,205.17v0.5H685v-0.5zM476.9,206.46v0.5H685v-0.5zM476.9,207.74v0.5H685v-0.5zM476.9,209.03v0.5H685v-0.5zM476.9,210.31v0.5H685v-0.5zM476.9,211.60v0.5H685v-0.5zM476.9,212.89v0.5H685v-0.5zM476.9,214.17v0.5H685v-0.5zM476.9,215.46v0.5H685v-0.5zM476.9,216.74v0.5H685v-0.5zM476.9,218.03v0.5H685v-0.5zM476.9,219.31v0.5H685v-0.5zM476.9,220.60v0.5H685v-0.5zM476.9,221.89v0.5H685v-0.5zM476.9,223.17v0.5H685v-0.5zM476.9,224.46v0.5H685v-0.5zM476.9,225.74v0.5H685v-0.5zM476.9,227.03v0.5H685v-0.5zM476.9,228.31v0.5H685v-0.5zM476.9,229.60v0.5H685v-0.5zM476.9,230.89v0.5H685v-0.5zM476.9,232.17v0.5H685v-0.5zM476.9,233.46v0.5H685v-0.5zM476.9,234.74v0.5H685v-0.5zM476.9,236.03v0.5H685v-0.5zM476.9,237.31v0.5H685v-0.5zM476.9,238.60v0.5H685v-0.5zM476.9,239.89v0.5H685v-0.5zM476.9,241.17v0.5H685v-0.5zM476.9,242.46v0.5H685v-0.5zM476.9,243.74v0.5H685v-0.5zM476.9,245.03v0.5H685v-0.5zM476.9,246.31v0.5H685v-0.5zM476.9,247.60v0.5H685v-0.5zM476.9,248.89v0.5H685v-0.5zM476.9,250.17v0.5H685v-0.5zM476.9,251.46v0.5H685v-0.5zM476.9,252.74v0.5H685v-0.5zM476.9,254.03v0.5H685v-0.5zM476.9,255.31v0.5H685v-0.5zM476.9,256.60v0.5H685v-0.5zM476.9,257.89v0.5H685v-0.5zM476.9,259.17v0.5H685v-0.5zM476.9,260.46v0.5H685v-0.5zM476.9,261.74v0.5H685v-0.5zM476.9,263.03v0.5H685v-0.5zM476.9,264.31v0.5H685v-0.5zM476.9,265.60v0.5H685v-0.5zM476.9,266.89v0.5H685v-0.5zM476.9,268.17v0.5H685v-0.5zM476.9,269.46v0.5H685v-0.5zM476.9,270.74v0.5H685v-0.5zM476.9,272.03v0.5H685v-0.5zM476.9,273.31v0.5H685v-0.5zM476.9,274.60v0.5H685v-0.5zM476.9,275.89v0.5H685v-0.5zM476.9,277.17v0.5H685v-0.5zM476.9,278.46v0.5H685v-0.5zM476.9,279.74v0.5H685v-0.5zM476.9,281.03v0.5H685v-0.5zM476.9,282.31v0.5H685v-0.5zM476.9,283.60v0.5H685v-0.5zM476.9,284.89v0.5H685v-0.5zM476.9,286.17v0.5H685v-0.5zM476.9,287.46v0.5H685v-0.5zM476.9,288.74v0.5H685v-0.5zM476.9,290.03v0.5H685v-0.5zM476.9,291.31v0.5H685v-0.5zM476.9,292.60v0.5H685v-0.5zM476.9,293.89v0.5H685v-0.5zM476.9,295.17v0.5H685v-0.5zM476.9,296.46v0.5H685v-0.5zM476.9,297.74v0.5H685v-0.5zM476.9,299.03v0.5H685v-0.5zM476.9,300.31v0.5H685v-0.5zM476.9,301.60v0.5H685v-0.5zM476.9,302.89v0.5H685v-0.5zM476.9,304.17v0.5H685v-0.5zM476.9,305.46v0.5H685v-0.5zM476.9,306.74v0.5H685v-0.5zM476.9,308.03v0.5H685v-0.5zM476.9,309.31v0.5H685v-0.5zM476.9,310.60v0.5H685v-0.5zM476.9,311.89v0.5H685v-0.5zM476.9,313.17v0.5H685v-0.5zM476.9,314.46v0.5H685v-0.5zM476.9,315.74v0.5H685v-0.5zM476.9,317.03v0.5H685v-0.5zM476.9,318.31v0.5H685v-0.5zM476.9,319.60v0.5H685v-0.5zM476.9,320.89v0.5H685v-0.5zM476.9,322.17v0.5H685v-0.5zM476.9,323.46v0.5H685v-0.5zM476.9,324.74v0.5H685v-0.5zM476.9,326.03v0.5H685v-0.5zM476.9,327.31v0.5H685v-0.5zM476.9,328.60v0.5H685v-0.5zM476.9,329.89v0.5H685v-0.5zM476.9,331.17v0.5H685v-0.5zM476.9,332.46v0.5H685v-0.5zM476.9,333.74v0.5H685v-0.5zM476.9,335.03v0.5H685v-0.5zM476.9,336.31v0.5H685v-0.5zM476.9,337.60v0.5H685v-0.5zM476.9,338.89v0.5H685v-0.5zM476.9,340.17v0.5H685v-0.5zM476.9,341.46v0.5H685v-0.5zM476.9,342.74v0.5H685v-0.5zM476.9,344.03v0.5H685v-0.5zM476.9,345.31v0.5H685v-0.5zM476.9,346.60v0.5H685v-0.5zM476.9,347.89v0.5H685v-0.5zM476.9,349.17v0.5H685v-0.5zM476.9,350.46v0.5H685v-0.5zM476.9,351.74v0.5H685v-0.5zM476.9,353.03v0.5H685v-0.5zM476.9,354.31v0.5H685v-0.5zM476.9,355.60v0.5H685v-0.5zM476.9,356.89v0.5H685v-0.5zM476.9,358.17v0.5H685v-0.5zM476.9,359.46v0.5H685v-0.5zM476.9,360.74v0.5H685v-0.5zM476.9,362.03v0.5H685v-0.5zM476.9,363.31v0.5H685v-0.5zM476.9,364.60v0.5H685v-0.5zM476.9,365.89v0.5H685v-0.5zM476.9,367.17v0.5H685v-0.5zM476.9,368.46v0.5H685v-0.5zM476.9,369.74v0.5H685v-0.5zM476.9,371.03v0.5H685v-0.5zM476.9,372.31v0.5H685v-0.5zM476.9,373.60v0.5H685v-0.5zM476.9,374.89v0.5H685v-0.5zM476.9,376.17v0.5H685v-0.5zM476.9,377.46v0.5H685v-0.5zM476.9,378.74v0.5H685v-0.5zM476.9,380.03v0.5H685v-0.5zM476.9,381.31v0.5H685v-0.5zM476.9,382.60v0.5H685v-0.5zM476.9,383.89v0.5H685v-0.5zM476.9,385.17v0.5H685v-0.5zM476.9,386.46v0.5H685v-0.5zM476.9,387.74v0.5H685v-0.5zM476.9,389.03v0.5H685v-0.5zM476.9,390.31v0.5H685v-0.5zM476.9,391.60v0.5H685v-0.5zM476.9,392.89v0.5H685v-0.5zM476.9,394.17v0.5H685v-0.5zM476.9,395.46v0.5H685v-0.5zM476.9,396.74v0.5H685v-0.5zM476.9,398.03v0.5H685v-0.5zM476.9,399.31v0.5H685v-0.5zM476.9,400.60v0.5H685v-0.5zM476.9,401.89v0.5H685v-0.5zM476.9,403.17v0.5H685v-0.5zM476.9,404.46v0.5H685v-0.5zM476.9,405.74v0.5H685v-0.5zM476.9,407.03v0.5H685v-0.5zM476.9,408.31v0.5H685v-0.5zM476.9,409.60v0.5H685v-0.5zM476.9,410.89v0.5H685v-0.5zM476.9,412.17v0.5H685v-0.5zM476.9,413.46v0.5H685v-0.5zM476.9,414.74v0.5H685v-0.5zM476.9,416.03v0.5H685v-0.5zM476.9,417.31v0.5H685v-0.5zM476.9,418.60v0.5H685v-0.5zM476.9,419.89v0.5H685v-0.5zM476.9,421.17v0.5H685v-0.5zM476.9,422.46v0.5H685v-0.5zM476.9,423.74v0.5H685v-0.5zM476.9,425.03v0.5H685v-0.5zM476.9,426.31v0.5H685v-0.5zM476.9,427.60v0.5H685v-0.5zM476.9,428.89v0.5H685v-0.5zM476.9,430.17v0.5H685v-0.5zM476.9,431.46v0.5H685v-0.5zM476.9,432.74v0.5H685v-0.5zM476.9,434.03v0.5H685v-0.5zM476.9,435.31v0.5H685v-0.5zM476.9,436.60v0.5H685v-0.5zM476.9,437.89v0.5H685v-0.5zM476.9,439.17v0.5H685v-0.5zM476.9,440.46v0.5H685v-0.5zM476.9,441.74v0.5H685v-0.5zM476.9,443.03v0.5H685v-0.5zM476.9,444.31v0.5H685v-0.5zM476.9,445.60v0.5H685v-0.5zM476.9,446.89v0.5H685v-0.5zM476.9,448.17v0.5H685v-0.5zM476.9,449.46v0.5H685v-0.5zM476.9,450.74v0.5H685v-0.5zM476.9,452.03v0.5H685v-0.5zM476.9,453.31v0.5H685v-0.5zM476.9,454.60v0.5H685v-0.5zM476.9,455.89v0.5H685v-0.5zM476.9,457.17v0.5H685v-0.5zM476.9,458.46v0.5H685v-0.5zM476.9,459.74v0.5H685v-0.5zM476.9,461.03v0.5H685v-0.5zM476.9,462.31v0.5H685v-0.5zM476.9,463.60v0.5H685v-0.5zM476.9,464.89v0.5H685v-0.5zM476.9,466.17v0.5H685v-0.5zM476.9,467.46v0.5H685v-0.5zM476.9,468.74v0.5H685v-0.5zM476.9,470.03v0.5H685v-0.5zM476.9,471.31v0.5H685v-0.5zM476.9,472.60v0.5H685v-0.5zM476.9,473.89v0.5H685v-0.5zM476.9,475.17v0.5H685v-0.5zM476.9,476.46v0.5H685v-0.5zM476.9,477.74v0.5H685v-0.5zM476.9,479.03v0.5H685v-0.5zM476.9,480.31v0.5H685v-0.5zM476.9,481.60v0.5H685v-0.5zM476.9,482.89v0.5H685v-0.5zM476.9,484.17v0.5H685v-0.5zM476.9,485.46v0.5H685v-0.5zM476.9,486.74v0.5H685v-0.5zM476.9,488.03v0.5H685v-0.5zM476.9,489.31v0.5H685v-0.5zM476.9,490.60v0.5H685v-0.5zM476.9,491.89v0.5H685v-0.5zM476.9,493.17v0.5H685v-0.5zM476.9,494.46v0.5H685v-0.5zM476.9,495.74v0.5H685v-0.5zM476.9,497.03v0.5H685v-0.5zM476.9,498.31v0.5H685v-0.5zM476.9,499.60v0.5H685v-0.5zM476.9,500.89v0.5H685v-0.5zM476.9,502.17v0.5H685v-0.5z" fill="#fff" fill-opacity="0.3"/><path d="M484,13.6h1V503.8h-1zM495,13.6h1V503.8h-1zM504,13.6h1V503.8h-1zM513,13.6h1V503.8h-1zM524,13.6h1V503.8h-1zM529,13.6h1V503.8h-1zM536,13.6h1V503.8h-1zM547,13.6h1V503.8h-1zM558,13.6h1V503.8h-1zM566,13.6h1V503.8h-1zM577,13.6h1V503.8h-1zM583,13.6h1V503.8h-1zM588,13.6h1V503.8h-1zM598,13.6h1V503.8h-1zM605,13.6h1V503.8h-1zM613,13.6h1V503.8h-1zM622,13.6h1V503.8h-1zM634,13.6h1V503.8h-1zM640,13.6h1V503.8h-1zM652,13.6h1V503.8h-1zM657,13.6h1V503.8h-1zM665,13.6h1V503.8h-1zM674,13.6h1V503.8h-1zM680,13.6h1V503.8h-1z" fill="#fff" fill-opacity="0.2" shape-rendering="crispEdges"/><path d="M476.9,18v1H685v-1zM476.9,23v1H685v-1zM476.9,29v1H685v-1zM476.9,34v1H685v-1zM476.9,42v1H685v-1zM476.9,48v1H685v-1zM476.9,55v1H685v-1zM476.9,62v1H685v-1zM476.9,70v1H685v-1zM476.9,80v1H685v-1zM476.9,86v1H685v-1zM476.9,90v1H685v-1zM476.9,99v1H685v-1zM476.9,105v1H685v-1zM476.9,114v1H685v-1zM476.9,123v1H685v-1zM476.9,130v1H685v-1zM476.9,133v1H685v-1zM476.9,140v1H685v-1zM476.9,146v1H685v-1zM476.9,153v1H685v-1zM476.9,162v1H685v-1zM476.9,166v1H685v-1zM476.9,172v1H685v-1zM476.9,177v1H685v-1zM476.9,186v1H685v-1zM476.9,194v1H685v-1zM476.9,200v1H685v-1zM476.9,205v1H685v-1zM476.9,212v1H685v-1zM476.9,217v1H685v-1zM476.9,221v1H685v-1zM476.9,230v1H685v-1zM476.9,239v1H685v-1zM476.9,243v1H685v-1zM476.9,249v1H685v-1zM476.9,253v1H685v-1zM476.9,258v1H685v-1zM476.9,265v1H685v-1zM476.9,270v1H685v-1zM476.9,275v1H685v-1zM476.9,280v1H685v-1zM476.9,286v1H685v-1zM476.9,293v1H685v-1zM476.9,297v1H685v-1zM476.9,302v1H685v-1zM476.9,311v1H685v-1zM476.9,318v1H685v-1zM476.9,327v1H685v-1zM476.9,331v1H685v-1zM476.9,338v1H685v-1zM476.9,344v1H685v-1zM476.9,350v1H685v-1zM476.9,358v1H685v-1zM476.9,367v1H685v-1zM476.9,372v1H685v-1zM476.9,377v1H685v-1zM476.9,386v1H685v-1zM476.9,394v1H685v-1zM476.9,403v1H685v-1zM476.9,410v1H685v-1zM476.9,415v1H685v-1zM476.9,422v1H685v-1zM476.9,430v1H685v-1zM476.9,437v1H685v-1zM476.9,443v1H685v-1zM476.9,451v1H685v-1zM476.9,456v1H685v-1zM476.9,461v1H685v-1zM476.9,465v1H685v-1zM476.9,470v1H685v-1zM476.9,479v1H685v-1zM476.9,484v1H685v-1zM476.9,492v1H685v-1zM476.9,501v1H685v-1z" fill="#fff" fill-opacity="0.2" shape-rendering="crispEdges"/>
<path d="M499.2,13.8h1.4v1.4h-1.4zM499.9,15.1h2.6v2.6h-2.6zM499.7,17.6h1.4v1.4h-1.4zM499.2,18.6h1.4v1.4h-1.4zM499.4,22.2h3.5v1.3h-3.5zM554.9,20.2h1.4v1.4h-1.4zM500.8,29.0h1.4v1.4h-1.4zM504.0,32.3h1.4v1.4h-1.4zM502.9,32.9h1.4v1.4h-1.4zM554.9,30.7h1.4v1.4h-1.4zM541.4,32.3h1.4v1.4h-1.4zM554.9,34.2h1.4v1.4h-1.4zM499.4,33.9h3.5v3.5h-3.5zM537.7,37.7h1.4v1.4h-1.4zM575.8,37.6h1.3v2.6h-1.3zM496.8,38.2h1.4v1.4h-1.4zM492.0,39.3h1.4v1.4h-1.4zM496.5,40.1h1.4v1.4h-1.4zM488.7,41.1h1.4v1.4h-1.4zM495.2,41.1h1.4v1.4h-1.4zM502.9,41.1h1.4v1.4h-1.4zM510.4,41.1h1.4v1.4h-1.4zM514.2,41.2h13.8v1.3h-13.8zM530.2,41.1h1.4v1.4h-1.4zM488.7,43.0h1.4v1.4h-1.4zM494.4,43.0h1.4v1.4h-1.4zM496.3,43.0h1.4v1.4h-1.4zM511.2,43.0h1.4v1.4h-1.4zM515.1,43.1h8.0v1.3h-8.0zM493.2,44.6h1.4v1.4h-1.4zM495.2,44.6h1.4v1.4h-1.4zM505.6,44.6h1.4v1.4h-1.4zM510.4,44.6h1.4v1.4h-1.4zM514.2,44.7h9.0v1.3h-9.0zM563.7,44.6h1.4v1.4h-1.4zM488.7,46.2h1.4v1.4h-1.4zM495.2,46.2h1.4v1.4h-1.4zM510.4,46.2h1.4v1.4h-1.4zM514.2,46.3h7.4v1.3h-7.4zM523.3,46.2h1.4v1.4h-1.4zM526.5,46.2h1.4v1.4h-1.4zM563.7,46.2h1.4v1.4h-1.4zM477.0,47.8h1.4v1.4h-1.4zM477.0,51.5h1.4v1.4h-1.4zM505.6,49.8h1.4v1.4h-1.4zM507.8,50.1h2.6v1.6h-2.6zM508.2,52.9h1.6v4.8h-1.6zM496.8,57.0h1.4v1.4h-1.4zM551.4,57.0h1.4v1.4h-1.4zM508.4,59.3h1.6v4.8h-1.6zM477.0,62.0h1.4v1.4h-1.4zM549.8,62.0h1.4v1.4h-1.4zM477.0,65.5h1.4v1.4h-1.4zM549.0,65.5h1.4v1.4h-1.4zM552.6,65.6h2.2v1.3h-2.2zM477.0,72.4h1.4v1.4h-1.4zM509.1,74.0h1.4v1.4h-1.4zM477.1,76.2h1.3v2.6h-1.3zM548.6,75.9h1.4v1.4h-1.4zM552.4,76.0h2.6v1.3h-2.6zM508.2,80.2h1.9v4.8h-1.9zM477.0,86.4h1.4v1.4h-1.4zM549.0,86.4h1.4v1.4h-1.4zM552.2,86.4h1.4v1.4h-1.4zM549.8,88.0h1.4v1.4h-1.4zM508.5,88.0h1.4v1.4h-1.4zM509.3,89.1h1.4v1.4h-1.4zM499.4,90.9h3.5v1.9h-3.5zM590.7,13.6h1.4v1.4h-1.4zM678.7,20.5h1.4v1.4h-1.4zM600.9,23.8h1.3v4.8h-1.3zM667.4,32.6h1.4v1.4h-1.4zM598.4,41.0h2.2v1.6h-2.2zM627.8,44.6h1.4v1.4h-1.4zM598.4,46.2h1.4v1.4h-1.4zM615.6,58.6h1.4v1.4h-1.4zM647.7,57.0h1.4v1.4h-1.4zM615.6,67.1h1.4v1.4h-1.4zM647.7,69.0h1.4v1.4h-1.4zM655.1,70.6h1.4v1.4h-1.4zM615.6,74.0h1.4v1.4h-1.4zM641.6,75.9h1.4v1.4h-1.4zM675.0,86.1h1.4v1.4h-1.4zM509.3,90.1h1.4v1.4h-1.4zM549.8,90.1h1.4v1.4h-1.4zM499.4,91.6h3.5v10.0h-3.5zM505.6,101.8h1.4v1.4h-1.4zM499.4,104.1h3.5v4.3h-3.5zM498.0,109.3h1.6v4.2h-1.6zM505.6,113.9h1.4v1.4h-1.4zM498.1,115.8h1.4v1.4h-1.4zM505.7,117.3h1.3v3.2h-1.3zM510.5,117.3h1.3v3.2h-1.3zM486.8,122.7h1.4v1.4h-1.4zM516.7,122.7h1.4v1.4h-1.4zM535.3,122.7h1.4v1.4h-1.4zM540.0,122.7h1.4v1.4h-1.4zM503.1,126.1h3.5v6.4h-3.5zM511.9,126.0h2.6v4.5h-2.6zM477.0,133.0h1.4v1.4h-1.4zM551.4,133.0h1.4v1.4h-1.4zM509.3,139.9h1.4v1.4h-1.4zM529.1,141.6h1.4v1.4h-1.4zM509.3,143.4h1.4v1.4h-1.4zM499.4,147.0h3.5v6.4h-3.5zM531.6,153.8h1.4v1.4h-1.4zM531.6,159.1h1.4v1.4h-1.4zM548.6,159.1h1.4v1.4h-1.4zM531.6,164.3h1.4v1.4h-1.4zM548.6,164.3h1.4v1.4h-1.4zM555.1,163.1h7.4v2.2h-7.4zM512.8,166.1h1.4v1.4h-1.4zM511.2,167.5h1.4v1.4h-1.4zM515.6,167.5h1.4v1.4h-1.4zM549.8,167.5h1.4v1.4h-1.4zM548.6,169.1h1.4v1.4h-1.4zM516.8,171.2h1.4v1.4h-1.4zM531.6,169.1h1.4v1.4h-1.4zM556.3,169.3h2.2v3.5h-2.2zM640.6,117.4h1.4v1.4h-1.4zM640.6,121.1h1.4v1.4h-1.4zM649.0,124.3h1.4v1.4h-1.4zM666.3,122.7h1.4v1.4h-1.4zM646.7,131.4h1.4v1.4h-1.4zM600.9,135.0h1.3v4.8h-1.3zM601.9,140.0h1.4v1.4h-1.4zM600.8,145.2h1.4v1.4h-1.4zM647.7,143.4h1.4v1.4h-1.4zM590.7,148.5h1.4v1.4h-1.4zM609.3,157.2h1.4v1.4h-1.4zM615.6,160.8h1.4v1.4h-1.4zM621.7,167.7h1.4v1.4h-1.4zM609.3,169.3h1.4v1.4h-1.4zM610.4,171.2h1.4v1.4h-1.4zM649.0,171.2h1.4v1.4h-1.4zM651.5,171.2h1.4v1.4h-1.4zM531.6,172.8h1.4v1.4h-1.4zM531.6,178.1h1.4v1.4h-1.4zM542.5,176.0h1.4v1.4h-1.4zM543.7,178.1h1.4v1.4h-1.4zM515.6,183.3h1.4v1.4h-1.4zM535.3,183.3h1.4v1.4h-1.4zM571.0,183.3h1.4v1.4h-1.4zM522.9,184.9h1.3v2.9h-1.3zM505.6,188.4h1.4v1.4h-1.4zM478.6,193.7h1.4v1.4h-1.4zM510.6,195.3h1.4v1.4h-1.4zM542.5,193.7h1.4v1.4h-1.4zM478.6,196.9h1.4v1.4h-1.4zM478.6,198.7h1.4v1.4h-1.4zM501.6,205.7h1.4v1.4h-1.4zM517.7,211.0h1.4v1.4h-1.4zM510.6,214.3h1.4v1.4h-1.4zM510.6,223.1h1.4v1.4h-1.4zM510.6,226.6h1.4v1.4h-1.4zM510.6,228.2h1.4v1.4h-1.4zM527.8,230.0h1.4v1.4h-1.4zM533.3,230.1h3.9v1.3h-3.9zM562.3,230.0h1.4v1.4h-1.4zM555.1,231.7h7.4v1.3h-7.4zM512.8,233.5h1.4v1.4h-1.4zM529.1,233.5h1.4v1.4h-1.4zM531.8,235.1h1.4v1.4h-1.4zM536.1,234.8h1.4v1.4h-1.4zM535.3,236.7h1.4v1.4h-1.4zM542.0,247.1h7.7v4.8h-7.7zM608.9,170.0h2.2v2.6h-2.2zM609.3,176.2h1.4v1.4h-1.4zM605.6,178.1h1.4v1.4h-1.4zM609.3,180.1h1.4v1.4h-1.4zM650.5,180.0h2.2v1.6h-2.2zM590.7,181.3h1.4v1.4h-1.4zM590.7,188.5h1.3v3.2h-1.3zM656.5,191.9h1.4v1.4h-1.4zM610.6,193.7h1.4v1.4h-1.4zM610.6,200.6h1.4v1.4h-1.4zM682.4,200.6h1.4v1.4h-1.4zM604.5,202.1h1.3v3.2h-1.3zM585.9,205.7h1.4v1.4h-1.4zM611.5,207.5h1.4v1.4h-1.4zM585.9,209.1h1.4v1.4h-1.4zM604.5,209.1h1.4v1.4h-1.4zM637.8,212.2h1.6v3.2h-1.6zM602.0,215.8h2.6v6.4h-2.6zM614.3,224.7h1.4v1.4h-1.4zM637.8,226.2h1.6v3.2h-1.6zM609.3,233.2h1.4v1.4h-1.4zM605.6,235.1h1.4v1.4h-1.4zM658.7,240.2h1.6v3.2h-1.6zM613.0,243.8h1.4v1.4h-1.4zM652.7,245.4h1.4v1.4h-1.4zM653.8,250.7h1.4v1.4h-1.4zM480.8,250.2h1.3v2.2h-1.3zM542.0,250.0h7.7v2.2h-7.7zM543.7,252.2h1.4v1.4h-1.4zM477.0,258.1h1.4v1.4h-1.4zM507.9,257.8h1.4v1.4h-1.4zM496.8,259.4h1.4v1.4h-1.4zM505.6,259.4h1.4v1.4h-1.4zM510.6,259.4h1.4v1.4h-1.4zM514.3,259.4h1.4v1.4h-1.4zM480.7,261.3h1.4v1.4h-1.4zM507.9,261.2h2.6v1.6h-2.6zM477.0,264.9h1.4v1.4h-1.4zM505.6,264.9h1.4v1.4h-1.4zM508.0,264.9h1.4v1.4h-1.4zM571.0,263.3h1.4v1.4h-1.4zM549.8,264.9h1.4v1.4h-1.4zM535.3,266.5h1.4v1.4h-1.4zM510.6,268.2h1.4v1.4h-1.4zM522.8,268.2h1.4v1.4h-1.4zM485.9,271.6h1.4v1.4h-1.4zM522.8,271.6h1.4v1.4h-1.4zM517.7,273.4h1.4v1.4h-1.4zM536.0,270.1h5.1v4.8h-5.1zM557.5,275.0h1.4v1.4h-1.4zM577.1,273.4h1.4v1.4h-1.4zM478.9,278.7h7.1v1.3h-7.1zM498.1,278.7h1.4v1.4h-1.4zM528.3,278.7h4.2v1.3h-4.2zM533.7,278.7h1.4v1.4h-1.4zM537.7,278.7h1.4v1.4h-1.4zM477.0,282.2h1.4v1.4h-1.4zM481.1,283.9h2.2v1.3h-2.2zM489.5,283.8h1.4v1.4h-1.4zM501.6,283.8h1.4v1.4h-1.4zM536.4,283.8h1.4v1.4h-1.4zM548.6,283.8h1.4v1.4h-1.4zM558.6,283.8h1.4v1.4h-1.4zM478.9,288.9h7.1v1.6h-7.1zM480.7,290.7h1.4v1.4h-1.4zM490.7,289.0h1.4v1.4h-1.4zM495.9,288.9h2.2v1.6h-2.2zM528.2,288.9h3.2v1.6h-3.2zM535.3,289.0h1.4v1.4h-1.4zM577.0,290.6h2.6v1.6h-2.6zM529.1,292.5h1.4v1.4h-1.4zM551.4,294.3h1.4v1.4h-1.4zM562.3,294.3h1.4v1.4h-1.4zM554.9,296.0h1.4v1.4h-1.4zM496.8,296.0h1.4v1.4h-1.4zM508.0,296.0h1.4v1.4h-1.4zM516.7,296.0h1.4v1.4h-1.4zM527.8,296.0h1.4v1.4h-1.4zM524.1,297.5h1.4v1.4h-1.4zM486.8,297.5h1.4v1.4h-1.4zM489.5,297.5h1.4v1.4h-1.4zM532.7,299.2h1.4v1.4h-1.4zM583.5,301.2h1.4v1.4h-1.4zM486.8,302.8h1.4v1.4h-1.4zM566.0,302.8h1.4v1.4h-1.4zM481.1,304.8h2.2v1.3h-2.2zM498.1,304.7h1.4v1.4h-1.4zM502.9,304.7h1.4v1.4h-1.4zM505.6,304.7h1.4v1.4h-1.4zM508.0,304.7h1.4v1.4h-1.4zM513.0,304.7h1.4v1.4h-1.4zM533.7,304.7h1.4v1.4h-1.4zM545.0,304.7h1.4v1.4h-1.4zM549.2,304.8h3.9v1.3h-3.9zM578.5,304.7h1.4v1.4h-1.4zM482.0,306.3h1.4v1.4h-1.4zM525.4,306.3h1.4v1.4h-1.4zM527.8,306.3h1.4v1.4h-1.4zM535.3,306.3h1.4v1.4h-1.4zM540.0,308.1h1.4v1.4h-1.4zM479.6,309.8h1.4v1.4h-1.4zM519.3,309.8h1.4v1.4h-1.4zM525.4,309.8h1.4v1.4h-1.4zM531.6,309.8h1.4v1.4h-1.4zM575.9,311.6h1.4v1.4h-1.4zM488.3,313.2h1.4v1.4h-1.4zM480.7,314.8h1.4v1.4h-1.4zM530.2,314.8h1.4v1.4h-1.4zM532.8,314.7h2.2v1.6h-2.2zM537.8,314.7h2.2v1.6h-2.2zM549.8,314.8h1.4v1.4h-1.4zM572.2,314.8h1.4v1.4h-1.4zM575.0,312.6h1.3v3.2h-1.3zM478.6,316.7h1.4v1.4h-1.4zM525.6,316.8h2.2v1.3h-2.2zM538.8,316.7h1.4v1.4h-1.4zM542.5,316.7h1.4v1.4h-1.4zM575.9,316.7h1.4v1.4h-1.4zM478.7,319.9h2.2v1.6h-2.2zM485.9,320.0h1.4v1.4h-1.4zM494.7,320.0h1.4v1.4h-1.4zM551.4,320.0h1.4v1.4h-1.4zM510.6,321.9h1.4v1.4h-1.4zM530.2,321.9h1.4v1.4h-1.4zM504.3,323.5h1.4v1.4h-1.4zM524.1,325.1h1.4v1.4h-1.4zM559.9,325.1h1.4v1.4h-1.4zM572.2,325.1h1.4v1.4h-1.4zM564.7,327.2h1.4v1.4h-1.4zM646.6,253.9h1.3v3.5h-1.3zM616.7,257.8h1.4v1.4h-1.4zM616.7,261.3h1.4v1.4h-1.4zM592.8,259.5h7.4v1.6h-7.4zM640.7,266.4h1.3v3.2h-1.3zM605.6,270.0h1.4v1.4h-1.4zM613.0,276.9h1.4v1.4h-1.4zM615.6,278.7h1.4v1.4h-1.4zM619.3,278.7h1.4v1.4h-1.4zM632.7,278.7h1.4v1.4h-1.4zM677.5,280.3h1.4v1.4h-1.4zM604.5,285.6h1.4v1.4h-1.4zM663.7,287.4h1.4v1.4h-1.4zM587.0,289.1h1.4v1.4h-1.4zM608.2,290.7h1.4v1.4h-1.4zM583.4,294.3h1.4v1.4h-1.4zM673.7,294.3h1.4v1.4h-1.4zM661.5,296.0h1.4v1.4h-1.4zM617.8,297.5h1.4v1.4h-1.4zM625.5,297.5h1.4v1.4h-1.4zM622.1,304.8h2.9v1.3h-2.9zM626.6,304.7h1.4v1.4h-1.4zM630.5,304.7h1.4v1.4h-1.4zM604.9,306.2h4.5v1.6h-4.5zM610.6,309.8h1.4v1.4h-1.4zM625.6,309.9h2.2v1.3h-2.2zM632.7,309.8h1.4v1.4h-1.4zM642.8,313.1h3.5v1.6h-3.5zM626.9,314.9h4.8v1.6h-4.8zM641.6,316.8h2.2v1.3h-2.2zM683.5,318.3h1.4v1.4h-1.4zM662.6,325.1h1.4v1.4h-1.4zM655.1,327.2h1.4v1.4h-1.4zM592.0,328.8h1.4v1.4h-1.4zM611.8,328.7h2.6v1.6h-2.6zM611.7,330.9h1.4v1.4h-1.4zM494.7,334.1h1.4v1.4h-1.4zM499.2,335.7h1.4v1.4h-1.4zM575.9,334.1h1.4v1.4h-1.4zM482.0,337.3h1.4v1.4h-1.4zM489.5,337.3h1.4v1.4h-1.4zM498.1,337.3h1.4v1.4h-1.4zM505.6,337.0h1.4v1.4h-1.4zM524.1,337.3h1.4v1.4h-1.4zM526.9,337.2h2.2v1.6h-2.2zM535.3,337.3h1.4v1.4h-1.4zM562.4,337.2h2.6v1.6h-2.6zM568.6,337.3h1.4v1.4h-1.4zM571.0,337.2h6.4v1.6h-6.4zM583.5,337.3h1.4v1.4h-1.4zM503.1,339.2h4.8v2.9h-4.8zM505.7,344.0h1.3v3.5h-1.3zM505.7,349.1h2.2v3.5h-2.2zM499.5,353.1h1.4v1.4h-1.4zM503.1,354.6h2.6v1.6h-2.6zM500.9,356.2h2.2v1.6h-2.2zM479.6,359.8h1.4v1.4h-1.4zM477.0,363.3h1.4v1.4h-1.4zM499.5,361.6h1.4v1.4h-1.4zM505.6,365.1h1.4v1.4h-1.4zM514.3,365.1h1.4v1.4h-1.4zM477.0,366.9h1.4v1.4h-1.4zM554.9,368.6h1.4v1.4h-1.4zM509.2,370.3h1.6v3.5h-1.6zM527.8,373.8h1.4v1.4h-1.4zM509.2,375.3h1.6v4.8h-1.6zM477.0,380.7h1.4v1.4h-1.4zM513.0,382.3h1.4v1.4h-1.4zM575.9,382.3h1.4v1.4h-1.4zM479.6,384.1h1.4v1.4h-1.4zM499.5,385.8h1.4v1.4h-1.4zM513.0,387.6h1.4v1.4h-1.4zM503.0,387.2h4.0v3.7h-4.0zM511.7,389.2h1.4v1.4h-1.4zM510.6,392.7h1.4v1.4h-1.4zM549.8,391.0h1.4v1.4h-1.4zM477.0,395.9h1.4v1.4h-1.4zM478.6,398.0h1.4v1.4h-1.4zM498.1,398.0h1.4v1.4h-1.4zM571.0,399.6h1.4v1.4h-1.4zM499.4,403.1h3.5v1.6h-3.5zM506.7,404.8h1.4v1.4h-1.4zM488.3,406.7h1.4v1.4h-1.4zM527.8,406.7h1.4v1.4h-1.4zM506.8,409.5h1.3v3.2h-1.3zM611.8,329.8h1.3v3.5h-1.3zM653.8,332.2h1.4v1.4h-1.4zM672.6,334.1h1.4v1.4h-1.4zM575.0,337.2h2.6v1.6h-2.6zM599.5,337.3h1.4v1.4h-1.4zM679.6,342.6h1.4v1.4h-1.4zM590.7,344.5h1.4v1.4h-1.4zM660.2,347.9h1.4v1.4h-1.4zM606.7,358.2h1.4v1.4h-1.4zM590.7,368.6h1.4v1.4h-1.4zM590.7,373.8h1.4v1.4h-1.4zM616.7,382.3h1.4v1.4h-1.4zM624.2,389.2h1.4v1.4h-1.4zM668.7,394.5h1.4v1.4h-1.4zM639.0,401.4h1.4v1.4h-1.4zM633.0,406.8h2.6v1.3h-2.6zM506.1,413.8h1.4v1.4h-1.4zM503.3,416.9h3.5v2.2h-3.5zM503.5,419.2h1.4v1.4h-1.4zM503.2,425.7h1.4v1.4h-1.4zM548.6,425.7h1.4v1.4h-1.4zM519.3,427.4h1.4v1.4h-1.4zM577.1,429.0h1.4v1.4h-1.4zM485.9,430.8h1.4v1.4h-1.4zM527.8,430.8h1.4v1.4h-1.4zM572.2,430.8h1.4v1.4h-1.4zM503.3,432.6h3.5v1.3h-3.5zM500.8,434.2h1.4v1.4h-1.4zM484.7,436.1h1.4v1.4h-1.4zM496.8,436.1h1.4v1.4h-1.4zM511.7,436.1h1.4v1.4h-1.4zM514.3,436.0h2.2v1.6h-2.2zM524.3,436.0h2.2v1.6h-2.2zM553.6,436.1h1.4v1.4h-1.4zM562.8,436.0h8.0v1.6h-8.0zM477.4,437.8h8.0v1.3h-8.0zM495.7,437.8h3.5v1.3h-3.5zM528.0,437.8h6.4v1.3h-6.4zM541.6,437.7h1.4v1.4h-1.4zM556.1,437.8h2.6v1.3h-2.6zM558.7,438.9h1.3v3.2h-1.3zM480.7,443.0h1.4v1.4h-1.4zM479.6,444.6h1.4v1.4h-1.4zM498.1,443.0h1.4v1.4h-1.4zM524.1,443.0h1.4v1.4h-1.4zM508.0,444.6h1.4v1.4h-1.4zM510.6,446.4h1.4v1.4h-1.4zM573.5,443.0h1.4v1.4h-1.4zM483.4,451.5h1.4v1.4h-1.4zM491.9,451.4h2.6v1.6h-2.6zM505.6,451.5h1.4v1.4h-1.4zM526.6,451.5h1.4v1.4h-1.4zM531.7,451.4h2.2v1.6h-2.2zM556.2,451.5h1.4v1.4h-1.4zM562.3,451.5h1.4v1.4h-1.4zM516.7,458.6h1.4v1.4h-1.4zM541.6,460.2h1.4v1.4h-1.4zM505.7,461.9h2.2v1.6h-2.2zM509.3,463.9h1.4v1.4h-1.4zM506.8,465.4h1.3v3.2h-1.3zM542.6,465.4h1.3v3.2h-1.3zM505.7,469.1h2.2v1.6h-2.2zM511.8,469.1h2.6v1.6h-2.6zM541.6,469.2h1.4v1.4h-1.4zM561.2,469.2h1.4v1.4h-1.4zM563.7,469.2h1.4v1.4h-1.4zM567.4,469.2h1.4v1.4h-1.4zM571.0,469.2h1.4v1.4h-1.4zM499.5,471.0h1.4v1.4h-1.4zM477.0,472.6h1.4v1.4h-1.4zM509.3,472.6h1.4v1.4h-1.4zM537.7,474.3h1.4v1.4h-1.4zM541.6,472.6h1.4v1.4h-1.4zM548.9,472.5h2.2v1.6h-2.2zM552.7,472.5h2.2v1.6h-2.2zM492.0,474.3h1.4v1.4h-1.4zM496.8,474.3h1.4v1.4h-1.4zM505.7,475.8h2.2v4.8h-2.2zM485.9,481.1h1.4v1.4h-1.4zM506.7,482.8h1.4v1.4h-1.4zM480.7,486.4h1.4v1.4h-1.4zM490.7,486.4h1.4v1.4h-1.4zM494.8,486.3h2.2v1.6h-2.2zM524.3,486.3h2.2v1.6h-2.2zM529.1,486.3h2.6v1.6h-2.6zM555.0,486.3h1.3v3.2h-1.3zM579.6,488.0h1.4v1.4h-1.4zM676.1,415.4h1.4v1.4h-1.4zM614.3,420.5h1.4v1.4h-1.4zM639.0,422.1h1.4v1.4h-1.4zM590.7,424.1h1.4v1.4h-1.4zM669.7,425.7h1.4v1.4h-1.4zM665.0,429.2h1.4v1.4h-1.4zM593.2,430.8h1.4v1.4h-1.4zM604.5,436.1h1.4v1.4h-1.4zM585.9,437.8h2.2v1.3h-2.2zM632.7,437.7h1.4v1.4h-1.4zM610.6,448.2h1.4v1.4h-1.4zM584.7,451.7h1.4v1.4h-1.4zM634.3,450.5h3.5v2.6h-3.5zM671.3,453.3h1.4v1.4h-1.4zM613.0,455.1h1.4v1.4h-1.4zM613.1,457.1h2.6v1.3h-2.6zM616.9,458.5h4.8v1.6h-4.8zM656.5,463.9h1.4v1.4h-1.4zM587.4,468.9h3.5v1.9h-3.5zM585.9,479.3h1.4v1.4h-1.4zM590.7,481.1h1.4v1.4h-1.4zM657.5,479.3h1.4v1.4h-1.4zM614.3,484.6h1.4v1.4h-1.4zM477.0,493.3h1.4v1.4h-1.4zM480.3,493.2h4.8v1.6h-4.8zM489.5,493.3h1.4v1.4h-1.4zM492.0,493.3h1.4v1.4h-1.4zM505.7,492.7h1.3v3.5h-1.3zM514.3,493.3h1.4v1.4h-1.4zM524.1,493.3h1.4v1.4h-1.4zM531.8,493.2h3.2v1.6h-3.2zM535.3,494.9h1.4v1.4h-1.4zM536.4,496.8h1.4v1.4h-1.4zM539.0,493.3h1.4v1.4h-1.4zM541.6,493.3h1.4v1.4h-1.4zM557.5,493.3h1.4v1.4h-1.4zM561.2,493.3h1.4v1.4h-1.4zM571.0,491.7h1.4v1.4h-1.4zM576.2,493.2h8.0v1.6h-8.0zM523.0,496.8h4.8v1.6h-4.8zM478.7,498.0h2.2v1.6h-2.2zM572.2,496.8h1.4v1.4h-1.4zM551.4,500.2h1.4v1.4h-1.4zM575.8,493.2h9.6v1.6h-9.6zM588.4,493.3h1.4v1.4h-1.4zM611.7,489.8h1.4v1.4h-1.4zM616.7,493.3h1.4v1.4h-1.4zM617.8,496.8h1.4v1.4h-1.4zM630.2,495.0h2.6v1.6h-2.6zM639.0,491.7h1.4v1.4h-1.4zM639.0,502.0h1.4v1.4h-1.4zM652.7,500.2h1.4v1.4h-1.4zM681.2,498.5h1.4v1.4h-1.4zM477.1,153.8h12.9v3.5h-12.9zM477.1,157.3h4.2v1.3h-4.2zM485.3,157.3h4.7v1.3h-4.7zM477.1,158.6h12.9v2.5h-12.9zM490.0,158.9h5.3v1.9h-5.3zM491.2,155.5h1.7v1.3h-1.7zM494.7,157.0h1.3v1.3h-1.3zM497.0,155.3h2.9v5.5h-2.9zM477.1,162.6h12.9v1.8h-12.9zM490.0,163.1h9.9v1.2h-9.9zM477.1,164.3h10.1v3.3h-10.1zM490.8,166.0h1.3v1.3h-1.3zM495.3,165.8h4.6v1.2h-4.6zM497.0,165.0h1.3v0.8h-1.3zM477.1,169.4h12.9v1.7h-12.9zM477.1,171.1h4.2v1.5h-4.2zM485.3,171.1h4.7v1.5h-4.7zM477.1,172.6h12.9v0.3h-12.9zM494.7,171.1h1.3v1.3h-1.3zM497.0,168.5h1.3v4.1h-1.3zM502.0,171.1h1.3v1.3h-1.3zM477.1,173.2h8.8v1.4h-8.8zM477.1,174.6h13.6v2.1h-13.6zM477.1,176.7h12.9v1.4h-12.9zM494.7,176.4h1.3v1.3h-1.3zM477.1,178.1h12.9v1.5h-12.9zM490.0,178.4h4.1v0.9h-4.1zM477.1,179.6h3.9v1.8h-3.9zM485.9,179.6h4.1v1.8h-4.1zM494.7,179.8h1.3v1.3h-1.3zM477.1,229.9h8.6v1.4h-8.6zM477.1,231.3h10.1v1.8h-10.1zM477.1,233.1h12.9v7.0h-12.9zM485.9,227.0h1.3v2.6h-1.3zM489.4,230.2h5.3v1.2h-5.3zM491.2,231.9h1.7v1.2h-1.7zM491.5,235.1h2.6v1.5h-2.6zM497.0,230.2h1.3v1.3h-1.3zM495.8,231.9h1.3v1.3h-1.3zM495.3,233.9h1.7v1.1h-1.7zM498.5,233.1h1.4v6.4h-1.4zM495.3,238.8h4.6v1.1h-4.6zM490.8,238.7h1.3v1.3h-1.3zM500.7,228.1h1.3v1.8h-1.3zM478.5,247.0h1.3v1.3h-1.3zM481.0,247.0h1.2v5.2h-1.2zM490.8,247.0h1.3v1.3h-1.3z" fill="#FF0000"/>
<path d="M484.76,153.80h1.29v1.29h-1.29zM478.34,155.09h1.29v1.29h-1.29zM484.76,155.09h1.29v1.29h-1.29zM478.34,156.37h1.29v0.93h-1.29zM480.91,156.37h1.29v0.93h-1.29zM483.48,156.37h1.29v0.93h-1.29zM484.76,156.37h1.29v0.93h-1.29zM483.48,158.60h1.29v1.29h-1.29zM484.76,158.60h1.29v1.29h-1.29zM486.05,158.60h1.29v1.29h-1.29zM477.05,159.89h1.29v1.21h-1.29zM488.62,159.89h1.29v1.21h-1.29zM491.29,158.90h1.29v1.29h-1.29zM490.00,160.19h1.29v0.61h-1.29zM477.05,162.55h1.29v1.29h-1.29zM478.34,162.55h1.29v1.29h-1.29zM479.62,163.84h1.29v0.46h-1.29zM484.76,163.84h1.29v0.46h-1.29zM487.34,163.84h1.29v0.46h-1.29zM477.05,164.30h1.29v1.29h-1.29zM478.34,164.30h1.29v1.29h-1.29zM482.19,164.30h1.29v1.29h-1.29zM483.48,164.30h1.29v1.29h-1.29zM484.76,165.59h1.29v1.29h-1.29zM477.05,166.87h1.29v0.73h-1.29zM480.91,166.87h1.29v0.73h-1.29zM495.30,165.80h1.29v1.20h-1.29zM497.87,165.80h1.29v1.20h-1.29zM478.34,170.69h1.29v0.41h-1.29zM487.34,170.69h1.29v0.41h-1.29zM480.91,174.60h1.29v1.29h-1.29zM478.34,176.70h1.29v1.29h-1.29zM486.05,178.10h1.29v1.29h-1.29zM487.34,178.10h1.29v1.29h-1.29zM478.34,179.60h1.29v1.29h-1.29zM478.34,180.89h1.29v0.46h-1.29zM479.62,180.89h1.29v0.46h-1.29zM485.90,180.89h1.29v0.46h-1.29zM482.19,229.90h1.29v1.29h-1.29zM478.34,231.30h1.29v1.29h-1.29zM482.19,231.30h1.29v1.29h-1.29zM484.76,231.30h1.29v1.29h-1.29zM477.05,233.10h1.29v1.29h-1.29zM487.34,233.10h1.29v1.29h-1.29zM488.62,233.10h1.29v1.29h-1.29zM479.62,234.39h1.29v1.29h-1.29zM480.91,236.96h1.29v1.29h-1.29zM488.62,236.96h1.29v1.29h-1.29zM484.76,238.24h1.29v1.29h-1.29zM482.19,239.53h1.29v0.57h-1.29zM496.59,238.80h1.29v1.10h-1.29z" fill="#E0DCDC"/>
<path d="M500.98,15.138686131386862h0.4V17.708029197080293h-0.4zM499.89051094890516,16.22v0.4H502.4598540145986v-0.4zM500.49,22.204379562043798h0.4V23.489051094890513h-0.4zM501.78,22.204379562043798h0.4V23.489051094890513h-0.4zM500.49,33.92700729927008h0.4V37.45985401459855h-0.4zM501.78,33.92700729927008h0.4V37.45985401459855h-0.4zM499.4087591240876,35.01v0.4H502.94160583941607v-0.4zM499.4087591240876,36.30v0.4H502.94160583941607v-0.4zM575.8467153284672,38.71v0.4H577.1313868613139v-0.4zM515.27,41.153284671532845h0.4V42.43795620437956h-0.4zM516.55,41.153284671532845h0.4V42.43795620437956h-0.4zM517.84,41.153284671532845h0.4V42.43795620437956h-0.4zM519.13,41.153284671532845h0.4V42.43795620437956h-0.4zM520.41,41.153284671532845h0.4V42.43795620437956h-0.4zM521.70,41.153284671532845h0.4V42.43795620437956h-0.4zM522.98,41.153284671532845h0.4V42.43795620437956h-0.4zM524.27,41.153284671532845h0.4V42.43795620437956h-0.4zM525.55,41.153284671532845h0.4V42.43795620437956h-0.4zM526.84,41.153284671532845h0.4V42.43795620437956h-0.4zM516.23,43.08029197080292h0.4V44.36496350364963h-0.4zM517.52,43.08029197080292h0.4V44.36496350364963h-0.4zM518.80,43.08029197080292h0.4V44.36496350364963h-0.4zM520.09,43.08029197080292h0.4V44.36496350364963h-0.4zM521.37,43.08029197080292h0.4V44.36496350364963h-0.4zM522.66,43.08029197080292h0.4V44.36496350364963h-0.4zM515.27,44.68613138686131h0.4V45.97080291970803h-0.4zM516.55,44.68613138686131h0.4V45.97080291970803h-0.4zM517.84,44.68613138686131h0.4V45.97080291970803h-0.4zM519.13,44.68613138686131h0.4V45.97080291970803h-0.4zM520.41,44.68613138686131h0.4V45.97080291970803h-0.4zM521.70,44.68613138686131h0.4V45.97080291970803h-0.4zM515.27,46.29197080291971h0.4V47.57664233576642h-0.4zM516.55,46.29197080291971h0.4V47.57664233576642h-0.4zM517.84,46.29197080291971h0.4V47.57664233576642h-0.4zM519.13,46.29197080291971h0.4V47.57664233576642h-0.4zM520.41,46.29197080291971h0.4V47.57664233576642h-0.4zM508.84,50.14598540145985h0.4V51.75182481751825h-0.4zM507.75912408759126,51.23v0.4H510.3284671532847v-0.4zM509.33,52.87591240875913h0.4V57.69343065693431h-0.4zM508.24087591240874,53.96v0.4H509.84671532846716v-0.4zM508.24087591240874,55.25v0.4H509.84671532846716v-0.4zM508.24087591240874,56.53v0.4H509.84671532846716v-0.4zM509.49,59.299270072992705h0.4V64.11678832116789h-0.4zM508.4014598540146,60.38v0.4H510.007299270073v-0.4zM508.4014598540146,61.67v0.4H510.007299270073v-0.4zM508.4014598540146,62.96v0.4H510.007299270073v-0.4zM553.65,65.56204379562043h0.4V66.84671532846714h-0.4zM477.08759124087595,77.25v0.4H478.37226277372264v-0.4zM553.49,76.0h0.4V77.28467153284672h-0.4zM509.33,80.17518248175182h0.4V84.992700729927h-0.4zM508.2408759124088,81.26v0.4H510.1678832116789v-0.4zM508.2408759124088,82.55v0.4H510.1678832116789v-0.4zM508.2408759124088,83.83v0.4H510.1678832116789v-0.4zM500.49,90.93430656934306h0.4V92.86131386861314h-0.4zM501.78,90.93430656934306h0.4V92.86131386861314h-0.4zM499.4087591240876,92.02v0.4H502.94160583941607v-0.4zM600.8540145985402,24.90v0.4H602.1386861313869v-0.4zM600.8540145985402,26.18v0.4H602.1386861313869v-0.4zM600.8540145985402,27.47v0.4H602.1386861313869v-0.4zM599.53,40.99270072992701h0.4V42.5985401459854h-0.4zM598.4452554744526,42.08v0.4H600.6934306569343v-0.4zM500.49,91.60583941605839h0.4V101.56204379562043h-0.4zM501.78,91.60583941605839h0.4V101.56204379562043h-0.4zM499.4087591240876,92.69v0.4H502.94160583941607v-0.4zM499.4087591240876,93.98v0.4H502.94160583941607v-0.4zM499.4087591240876,95.26v0.4H502.94160583941607v-0.4zM499.4087591240876,96.55v0.4H502.94160583941607v-0.4zM499.4087591240876,97.83v0.4H502.94160583941607v-0.4zM499.4087591240876,99.12v0.4H502.94160583941607v-0.4zM499.4087591240876,100.41v0.4H502.94160583941607v-0.4zM500.49,104.05109489051095h0.4V108.38686131386862h-0.4zM501.78,104.05109489051095h0.4V108.38686131386862h-0.4zM499.4087591240876,105.14v0.4H502.94160583941607v-0.4zM499.4087591240876,106.42v0.4H502.94160583941607v-0.4zM499.4087591240876,107.71v0.4H502.94160583941607v-0.4zM499.05,109.27007299270073h0.4V113.44525547445255h-0.4zM497.963503649635,110.36v0.4H499.56934306569343v-0.4zM497.963503649635,111.64v0.4H499.56934306569343v-0.4zM497.963503649635,112.93v0.4H499.56934306569343v-0.4zM505.67153284671537,118.38v0.4H506.95620437956205v-0.4zM505.67153284671537,119.67v0.4H506.95620437956205v-0.4zM510.4890510948905,118.38v0.4H511.7737226277372v-0.4zM510.4890510948905,119.67v0.4H511.7737226277372v-0.4zM504.19,126.13138686131386h0.4V132.55474452554742h-0.4zM505.47,126.13138686131386h0.4V132.55474452554742h-0.4zM503.1021897810219,127.22v0.4H506.6350364963503v-0.4zM503.1021897810219,128.50v0.4H506.6350364963503v-0.4zM503.1021897810219,129.79v0.4H506.6350364963503v-0.4zM503.1021897810219,131.07v0.4H506.6350364963503v-0.4zM513.02,125.97080291970805h0.4V130.46715328467155h-0.4zM511.9343065693431,127.06v0.4H514.5036496350365v-0.4zM511.9343065693431,128.34v0.4H514.5036496350365v-0.4zM511.9343065693431,129.63v0.4H514.5036496350365v-0.4zM500.49,147.00729927007302h0.4V153.4306569343066h-0.4zM501.78,147.00729927007302h0.4V153.4306569343066h-0.4zM499.4087591240876,148.09v0.4H502.94160583941607v-0.4zM499.4087591240876,149.38v0.4H502.94160583941607v-0.4zM499.4087591240876,150.66v0.4H502.94160583941607v-0.4zM499.4087591240876,151.95v0.4H502.94160583941607v-0.4zM556.22,163.06569343065692h0.4V165.31386861313868h-0.4zM557.50,163.06569343065692h0.4V165.31386861313868h-0.4zM558.79,163.06569343065692h0.4V165.31386861313868h-0.4zM560.07,163.06569343065692h0.4V165.31386861313868h-0.4zM561.36,163.06569343065692h0.4V165.31386861313868h-0.4zM555.1313868613139,164.15v0.4H562.5182481751825v-0.4zM557.34,169.3284671532847h0.4V172.86131386861317h-0.4zM556.2554744525548,170.41v0.4H558.5036496350366v-0.4zM556.2554744525548,171.70v0.4H558.5036496350366v-0.4zM600.8540145985402,136.05v0.4H602.1386861313869v-0.4zM600.8540145985402,137.33v0.4H602.1386861313869v-0.4zM600.8540145985402,138.62v0.4H602.1386861313869v-0.4zM522.8540145985402,186.02v0.4H524.1386861313869v-0.4zM522.8540145985402,187.31v0.4H524.1386861313869v-0.4zM534.38,230.05839416058396h0.4V231.34306569343067h-0.4zM535.66,230.05839416058396h0.4V231.34306569343067h-0.4zM556.22,231.66423357664235h0.4V232.94890510948906h-0.4zM557.50,231.66423357664235h0.4V232.94890510948906h-0.4zM558.79,231.66423357664235h0.4V232.94890510948906h-0.4zM560.07,231.66423357664235h0.4V232.94890510948906h-0.4zM561.36,231.66423357664235h0.4V232.94890510948906h-0.4zM543.05,247.0802919708029h0.4V251.8978102189781h-0.4zM544.33,247.0802919708029h0.4V251.8978102189781h-0.4zM545.62,247.0802919708029h0.4V251.8978102189781h-0.4zM546.91,247.0802919708029h0.4V251.8978102189781h-0.4zM548.19,247.0802919708029h0.4V251.8978102189781h-0.4zM541.963503649635,248.17v0.4H549.6715328467152v-0.4zM541.963503649635,249.45v0.4H549.6715328467152v-0.4zM541.963503649635,250.74v0.4H549.6715328467152v-0.4zM609.97,170.0h0.4V172.56934306569343h-0.4zM608.8832116788321,171.09v0.4H611.1313868613139v-0.4zM651.56,179.95620437956202h0.4V181.5620437956204h-0.4zM650.4744525547446,181.04v0.4H652.7226277372264v-0.4zM590.7372262773723,189.55v0.4H592.021897810219v-0.4zM590.7372262773723,190.84v0.4H592.021897810219v-0.4zM604.5474452554745,203.20v0.4H605.8321167883212v-0.4zM604.5474452554745,204.49v0.4H605.8321167883212v-0.4zM638.87,212.23357664233578h0.4V215.44525547445255h-0.4zM637.7883211678832,213.32v0.4H639.3941605839416v-0.4zM637.7883211678832,214.61v0.4H639.3941605839416v-0.4zM603.06,215.76642335766425h0.4V222.18978102189783h-0.4zM601.978102189781,216.85v0.4H604.5474452554744v-0.4zM601.978102189781,218.14v0.4H604.5474452554744v-0.4zM601.978102189781,219.42v0.4H604.5474452554744v-0.4zM601.978102189781,220.71v0.4H604.5474452554744v-0.4zM638.87,226.20437956204378h0.4V229.41605839416056h-0.4zM637.7883211678832,227.29v0.4H639.3941605839416v-0.4zM637.7883211678832,228.58v0.4H639.3941605839416v-0.4zM659.75,240.17518248175182h0.4V243.3868613138686h-0.4zM658.6642335766423,241.26v0.4H660.2700729927008v-0.4zM658.6642335766423,242.55v0.4H660.2700729927008v-0.4zM480.7810218978102,251.25v0.4H482.0656934306569v-0.4zM543.05,250.0h0.4V252.24817518248176h-0.4zM544.33,250.0h0.4V252.24817518248176h-0.4zM545.62,250.0h0.4V252.24817518248176h-0.4zM546.91,250.0h0.4V252.24817518248176h-0.4zM548.19,250.0h0.4V252.24817518248176h-0.4zM541.963503649635,251.09v0.4H549.6715328467152v-0.4zM509.01,261.24087591240874h0.4V262.84671532846716h-0.4zM507.9197080291971,262.33v0.4H510.48905109489056v-0.4zM537.11,270.07299270072997h0.4V274.89051094890516h-0.4zM538.39,270.07299270072997h0.4V274.89051094890516h-0.4zM539.68,270.07299270072997h0.4V274.89051094890516h-0.4zM536.021897810219,271.16v0.4H541.1605839416059v-0.4zM536.021897810219,272.44v0.4H541.1605839416059v-0.4zM536.021897810219,273.73v0.4H541.1605839416059v-0.4zM479.94,278.7445255474453h0.4V280.02919708029196h-0.4zM481.23,278.7445255474453h0.4V280.02919708029196h-0.4zM482.51,278.7445255474453h0.4V280.02919708029196h-0.4zM483.80,278.7445255474453h0.4V280.02919708029196h-0.4zM485.08,278.7445255474453h0.4V280.02919708029196h-0.4zM529.40,278.7445255474453h0.4V280.02919708029196h-0.4zM530.69,278.7445255474453h0.4V280.02919708029196h-0.4zM531.97,278.7445255474453h0.4V280.02919708029196h-0.4zM482.19,283.88321167883214h0.4V285.1678832116788h-0.4zM479.94,288.86131386861314h0.4V290.46715328467155h-0.4zM481.23,288.86131386861314h0.4V290.46715328467155h-0.4zM482.51,288.86131386861314h0.4V290.46715328467155h-0.4zM483.80,288.86131386861314h0.4V290.46715328467155h-0.4zM485.08,288.86131386861314h0.4V290.46715328467155h-0.4zM478.8540145985402,289.95v0.4H485.9197080291971v-0.4zM496.96,288.86131386861314h0.4V290.46715328467155h-0.4zM495.8759124087591,289.95v0.4H498.1240875912409v-0.4zM529.24,288.86131386861314h0.4V290.46715328467155h-0.4zM530.52,288.86131386861314h0.4V290.46715328467155h-0.4zM528.1532846715328,289.95v0.4H531.3649635036496v-0.4zM578.06,290.62773722627736h0.4V292.2335766423358h-0.4zM576.970802919708,291.71v0.4H579.5401459854014v-0.4zM482.19,304.75912408759126h0.4V306.04379562043795h-0.4zM550.28,304.75912408759126h0.4V306.04379562043795h-0.4zM551.56,304.75912408759126h0.4V306.04379562043795h-0.4zM533.90,314.71532846715326h0.4V316.3211678832117h-0.4zM532.8102189781023,315.80v0.4H535.058394160584v-0.4zM538.87,314.71532846715326h0.4V316.3211678832117h-0.4zM537.7883211678833,315.80v0.4H540.036496350365v-0.4zM575.043795620438,313.71v0.4H576.3284671532847v-0.4zM575.043795620438,315.00v0.4H576.3284671532847v-0.4zM526.67,316.8029197080292h0.4V318.0875912408759h-0.4zM479.78,319.8540145985401h0.4V321.45985401459853h-0.4zM478.6934306569343,320.94v0.4H480.94160583941607v-0.4zM646.6204379562043,254.94v0.4H647.905109489051v-0.4zM646.6204379562043,256.23v0.4H647.905109489051v-0.4zM593.91,259.4744525547445h0.4V261.08029197080293h-0.4zM595.20,259.4744525547445h0.4V261.08029197080293h-0.4zM596.48,259.4744525547445h0.4V261.08029197080293h-0.4zM597.77,259.4744525547445h0.4V261.08029197080293h-0.4zM599.05,259.4744525547445h0.4V261.08029197080293h-0.4zM592.8248175182482,260.56v0.4H600.2116788321168v-0.4zM640.6788321167884,267.47v0.4H641.9635036496351v-0.4zM640.6788321167884,268.75v0.4H641.9635036496351v-0.4zM623.14,304.75912408759126h0.4V306.04379562043795h-0.4zM624.42,304.75912408759126h0.4V306.04379562043795h-0.4zM605.95,306.20437956204375h0.4V307.81021897810217h-0.4zM607.24,306.20437956204375h0.4V307.81021897810217h-0.4zM608.53,306.20437956204375h0.4V307.81021897810217h-0.4zM604.8686131386861,307.29v0.4H609.3649635036496v-0.4zM626.67,309.8978102189781h0.4V311.1824817518248h-0.4zM643.85,313.1094890510949h0.4V314.7153284671533h-0.4zM645.14,313.1094890510949h0.4V314.7153284671533h-0.4zM642.7664233576642,314.20v0.4H646.2992700729926v-0.4zM627.95,314.8759124087591h0.4V316.48175182481754h-0.4zM629.24,314.8759124087591h0.4V316.48175182481754h-0.4zM630.53,314.8759124087591h0.4V316.48175182481754h-0.4zM626.8686131386861,315.96v0.4H631.6861313868612v-0.4zM642.73,316.8029197080292h0.4V318.0875912408759h-0.4zM612.86,328.6861313868613h0.4V330.2919708029197h-0.4zM611.7737226277372,329.77v0.4H614.3430656934306v-0.4zM527.95,337.22627737226276h0.4V338.8321167883212h-0.4zM526.8686131386862,338.31v0.4H529.116788321168v-0.4zM563.44,337.22627737226276h0.4V338.8321167883212h-0.4zM562.3576642335767,338.31v0.4H564.92700729927v-0.4zM572.11,337.22627737226276h0.4V338.8321167883212h-0.4zM573.40,337.22627737226276h0.4V338.8321167883212h-0.4zM574.69,337.22627737226276h0.4V338.8321167883212h-0.4zM575.97,337.22627737226276h0.4V338.8321167883212h-0.4zM571.029197080292,338.31v0.4H577.4525547445255v-0.4zM504.19,339.15328467153284h0.4V342.04379562043795h-0.4zM505.47,339.15328467153284h0.4V342.04379562043795h-0.4zM506.76,339.15328467153284h0.4V342.04379562043795h-0.4zM503.10218978102193,340.24v0.4H507.9197080291971v-0.4zM503.10218978102193,341.52v0.4H507.9197080291971v-0.4zM505.67153284671537,345.06v0.4H506.95620437956205v-0.4zM505.67153284671537,346.34v0.4H506.95620437956205v-0.4zM506.76,349.1094890510949h0.4V352.64233576642334h-0.4zM505.6715328467153,350.20v0.4H507.91970802919707v-0.4zM505.6715328467153,351.48v0.4H507.91970802919707v-0.4zM504.19,354.56934306569343h0.4V356.17518248175185h-0.4zM503.10218978102193,355.66v0.4H505.67153284671537v-0.4zM501.94,356.1751824817518h0.4V357.7810218978102h-0.4zM500.8540145985401,357.26v0.4H503.1021897810219v-0.4zM510.29,370.3065693430657h0.4V373.83941605839414h-0.4zM509.20437956204375,371.39v0.4H510.81021897810217v-0.4zM509.20437956204375,372.68v0.4H510.81021897810217v-0.4zM510.29,375.28467153284674h0.4V380.10218978102193h-0.4zM509.20437956204375,376.37v0.4H510.81021897810217v-0.4zM509.20437956204375,377.66v0.4H510.81021897810217v-0.4zM509.20437956204375,378.94v0.4H510.81021897810217v-0.4zM504.11,387.24817518248176h0.4V390.94160583941607h-0.4zM505.39,387.24817518248176h0.4V390.94160583941607h-0.4zM503.02189781021895,388.33v0.4H507.0364963503649v-0.4zM503.02189781021895,389.62v0.4H507.0364963503649v-0.4zM500.49,403.0656934306569h0.4V404.6715328467153h-0.4zM501.78,403.0656934306569h0.4V404.6715328467153h-0.4zM499.4087591240876,404.15v0.4H502.94160583941607v-0.4zM506.79562043795625,410.57v0.4H508.08029197080293v-0.4zM506.79562043795625,411.86v0.4H508.08029197080293v-0.4zM611.7737226277372,330.93v0.4H613.0583941605839v-0.4zM611.7737226277372,332.21v0.4H613.0583941605839v-0.4zM576.09,337.22627737226276h0.4V338.8321167883212h-0.4zM575.0,338.31v0.4H577.5693430656934v-0.4zM634.06,406.75912408759126h0.4V408.04379562043795h-0.4zM504.35,416.9051094890511h0.4V419.15328467153284h-0.4zM505.63,416.9051094890511h0.4V419.15328467153284h-0.4zM503.26277372262774,417.99v0.4H506.7956204379562v-0.4zM504.35,432.64233576642334h0.4V433.92700729927003h-0.4zM505.63,432.64233576642334h0.4V433.92700729927003h-0.4zM515.43,436.014598540146h0.4V437.6204379562044h-0.4zM514.3430656934307,437.10v0.4H516.5912408759125v-0.4zM525.38,436.014598540146h0.4V437.6204379562044h-0.4zM524.2992700729927,437.10v0.4H526.5474452554745v-0.4zM563.93,436.014598540146h0.4V437.6204379562044h-0.4zM565.21,436.014598540146h0.4V437.6204379562044h-0.4zM566.50,436.014598540146h0.4V437.6204379562044h-0.4zM567.78,436.014598540146h0.4V437.6204379562044h-0.4zM569.07,436.014598540146h0.4V437.6204379562044h-0.4zM570.35,436.014598540146h0.4V437.6204379562044h-0.4zM562.8394160583941,437.10v0.4H570.8686131386861v-0.4zM478.49,437.7810218978102h0.4V439.0656934306569h-0.4zM479.78,437.7810218978102h0.4V439.0656934306569h-0.4zM481.07,437.7810218978102h0.4V439.0656934306569h-0.4zM482.35,437.7810218978102h0.4V439.0656934306569h-0.4zM483.64,437.7810218978102h0.4V439.0656934306569h-0.4zM484.92,437.7810218978102h0.4V439.0656934306569h-0.4zM496.80,437.7810218978102h0.4V439.0656934306569h-0.4zM498.09,437.7810218978102h0.4V439.0656934306569h-0.4zM529.08,437.7810218978102h0.4V439.0656934306569h-0.4zM530.36,437.7810218978102h0.4V439.0656934306569h-0.4zM531.65,437.7810218978102h0.4V439.0656934306569h-0.4zM532.94,437.7810218978102h0.4V439.0656934306569h-0.4zM557.18,437.7810218978102h0.4V439.0656934306569h-0.4zM558.6642335766423,439.99v0.4H559.948905109489v-0.4zM558.6642335766423,441.28v0.4H559.948905109489v-0.4zM492.95,451.43065693430657h0.4V453.036496350365h-0.4zM491.86131386861314,452.52v0.4H494.43065693430657v-0.4zM532.77,451.43065693430657h0.4V453.036496350365h-0.4zM531.6861313868613,452.52v0.4H533.9343065693431v-0.4zM506.76,461.8686131386861h0.4V463.4744525547445h-0.4zM505.6715328467153,462.95v0.4H507.91970802919707v-0.4zM506.79562043795625,466.49v0.4H508.08029197080293v-0.4zM506.79562043795625,467.77v0.4H508.08029197080293v-0.4zM542.6058394160584,466.49v0.4H543.8905109489051v-0.4zM542.6058394160584,467.77v0.4H543.8905109489051v-0.4zM506.76,469.0948905109489h0.4V470.70072992700733h-0.4zM505.6715328467153,470.18v0.4H507.91970802919707v-0.4zM512.86,469.0948905109489h0.4V470.70072992700733h-0.4zM511.77372262773724,470.18v0.4H514.3430656934306v-0.4zM549.95,472.4671532846715h0.4V474.0729927007299h-0.4zM548.8686131386862,473.55v0.4H551.116788321168v-0.4zM553.81,472.4671532846715h0.4V474.0729927007299h-0.4zM552.7226277372263,473.55v0.4H554.970802919708v-0.4zM506.76,475.8394160583942h0.4V480.6569343065694h-0.4zM505.6715328467153,476.93v0.4H507.91970802919707v-0.4zM505.6715328467153,478.21v0.4H507.91970802919707v-0.4zM505.6715328467153,479.50v0.4H507.91970802919707v-0.4zM495.84,486.2773722627737h0.4V487.88321167883214h-0.4zM494.75182481751824,487.36v0.4H497.0v-0.4zM525.38,486.2773722627737h0.4V487.88321167883214h-0.4zM524.2992700729927,487.36v0.4H526.5474452554745v-0.4zM530.20,486.2773722627737h0.4V487.88321167883214h-0.4zM529.1167883211679,487.36v0.4H531.6861313868612v-0.4zM554.970802919708,487.36v0.4H556.2554744525547v-0.4zM554.970802919708,488.65v0.4H556.2554744525547v-0.4zM587.01,437.7810218978102h0.4V439.0656934306569h-0.4zM635.34,450.46715328467155h0.4V453.036496350365h-0.4zM636.63,450.46715328467155h0.4V453.036496350365h-0.4zM634.2554744525547,451.55v0.4H637.7883211678832v-0.4zM614.14,457.05109489051097h0.4V458.33576642335765h-0.4zM618.00,458.4963503649635h0.4V460.10218978102193h-0.4zM619.28,458.4963503649635h0.4V460.10218978102193h-0.4zM620.57,458.4963503649635h0.4V460.10218978102193h-0.4zM616.9124087591241,459.58v0.4H621.7299270072992v-0.4zM588.45,468.9343065693431h0.4V470.8613138686132h-0.4zM589.74,468.9343065693431h0.4V470.8613138686132h-0.4zM587.3649635036496,470.02v0.4H590.8978102189781v-0.4zM481.38,493.2189781021898h0.4V494.8248175182482h-0.4zM482.67,493.2189781021898h0.4V494.8248175182482h-0.4zM483.96,493.2189781021898h0.4V494.8248175182482h-0.4zM480.2992700729927,494.30v0.4H485.1167883211679v-0.4zM505.67153284671537,493.82v0.4H506.95620437956205v-0.4zM505.67153284671537,495.11v0.4H506.95620437956205v-0.4zM532.93,493.2189781021898h0.4V494.8248175182482h-0.4zM534.22,493.2189781021898h0.4V494.8248175182482h-0.4zM531.8467153284671,494.30v0.4H535.0583941605839v-0.4zM577.25,493.2189781021898h0.4V494.8248175182482h-0.4zM578.54,493.2189781021898h0.4V494.8248175182482h-0.4zM579.83,493.2189781021898h0.4V494.8248175182482h-0.4zM581.11,493.2189781021898h0.4V494.8248175182482h-0.4zM582.40,493.2189781021898h0.4V494.8248175182482h-0.4zM583.68,493.2189781021898h0.4V494.8248175182482h-0.4zM576.1678832116787,494.30v0.4H584.1970802919707v-0.4zM524.10,496.75182481751824h0.4V498.35766423357666h-0.4zM525.39,496.75182481751824h0.4V498.35766423357666h-0.4zM526.67,496.75182481751824h0.4V498.35766423357666h-0.4zM523.0145985401459,497.84v0.4H527.8321167883211v-0.4zM479.78,498.0364963503649h0.4V499.64233576642334h-0.4zM478.6934306569343,499.12v0.4H480.94160583941607v-0.4zM576.89,493.2189781021898h0.4V494.8248175182482h-0.4zM578.17,493.2189781021898h0.4V494.8248175182482h-0.4zM579.46,493.2189781021898h0.4V494.8248175182482h-0.4zM580.75,493.2189781021898h0.4V494.8248175182482h-0.4zM582.03,493.2189781021898h0.4V494.8248175182482h-0.4zM583.32,493.2189781021898h0.4V494.8248175182482h-0.4zM584.60,493.2189781021898h0.4V494.8248175182482h-0.4zM575.8029197080292,494.30v0.4H585.4379562043796v-0.4zM631.33,494.985401459854h0.4V496.59124087591243h-0.4zM630.2408759124088,496.07v0.4H632.8102189781022v-0.4zM478.14,153.8h0.4V157.3h-0.4zM479.42,153.8h0.4V157.3h-0.4zM480.71,153.8h0.4V157.3h-0.4zM481.99,153.8h0.4V157.3h-0.4zM483.28,153.8h0.4V157.3h-0.4zM484.56,153.8h0.4V157.3h-0.4zM485.85,153.8h0.4V157.3h-0.4zM487.14,153.8h0.4V157.3h-0.4zM488.42,153.8h0.4V157.3h-0.4zM477.05,154.89v0.4H490.0v-0.4zM477.05,156.17v0.4H490.0v-0.4zM478.14,157.3h0.4V158.6h-0.4zM479.42,157.3h0.4V158.6h-0.4zM480.71,157.3h0.4V158.6h-0.4zM486.39,157.3h0.4V158.6h-0.4zM487.67,157.3h0.4V158.6h-0.4zM488.96,157.3h0.4V158.6h-0.4zM478.14,158.6h0.4V161.1h-0.4zM479.42,158.6h0.4V161.1h-0.4zM480.71,158.6h0.4V161.1h-0.4zM481.99,158.6h0.4V161.1h-0.4zM483.28,158.6h0.4V161.1h-0.4zM484.56,158.6h0.4V161.1h-0.4zM485.85,158.6h0.4V161.1h-0.4zM487.14,158.6h0.4V161.1h-0.4zM488.42,158.6h0.4V161.1h-0.4zM477.05,159.69v0.4H490.0v-0.4zM491.09,158.9h0.4V160.8h-0.4zM492.37,158.9h0.4V160.8h-0.4zM493.66,158.9h0.4V160.8h-0.4zM490,159.99v0.4H495.3v-0.4zM498.09,155.3h0.4V160.8h-0.4zM499.37,155.3h0.4V160.8h-0.4zM497.0,156.39v0.4H499.9v-0.4zM497.0,157.67v0.4H499.9v-0.4zM497.0,158.96v0.4H499.9v-0.4zM497.0,160.24v0.4H499.9v-0.4zM478.14,162.55h0.4V164.3h-0.4zM479.42,162.55h0.4V164.3h-0.4zM480.71,162.55h0.4V164.3h-0.4zM481.99,162.55h0.4V164.3h-0.4zM483.28,162.55h0.4V164.3h-0.4zM484.56,162.55h0.4V164.3h-0.4zM485.85,162.55h0.4V164.3h-0.4zM487.14,162.55h0.4V164.3h-0.4zM488.42,162.55h0.4V164.3h-0.4zM477.05,163.64v0.4H490.0v-0.4zM491.09,163.1h0.4V164.3h-0.4zM492.37,163.1h0.4V164.3h-0.4zM493.66,163.1h0.4V164.3h-0.4zM494.94,163.1h0.4V164.3h-0.4zM496.23,163.1h0.4V164.3h-0.4zM497.51,163.1h0.4V164.3h-0.4zM498.80,163.1h0.4V164.3h-0.4zM478.14,164.3h0.4V167.6h-0.4zM479.42,164.3h0.4V167.6h-0.4zM480.71,164.3h0.4V167.6h-0.4zM481.99,164.3h0.4V167.6h-0.4zM483.28,164.3h0.4V167.6h-0.4zM484.56,164.3h0.4V167.6h-0.4zM485.85,164.3h0.4V167.6h-0.4zM477.05,165.39v0.4H487.1v-0.4zM477.05,166.67v0.4H487.1v-0.4zM496.39,165.8h0.4V167.0h-0.4zM497.67,165.8h0.4V167.0h-0.4zM498.96,165.8h0.4V167.0h-0.4zM478.14,169.4h0.4V171.1h-0.4zM479.42,169.4h0.4V171.1h-0.4zM480.71,169.4h0.4V171.1h-0.4zM481.99,169.4h0.4V171.1h-0.4zM483.28,169.4h0.4V171.1h-0.4zM484.56,169.4h0.4V171.1h-0.4zM485.85,169.4h0.4V171.1h-0.4zM487.14,169.4h0.4V171.1h-0.4zM488.42,169.4h0.4V171.1h-0.4zM477.05,170.49v0.4H490.0v-0.4zM478.14,171.1h0.4V172.6h-0.4zM479.42,171.1h0.4V172.6h-0.4zM480.71,171.1h0.4V172.6h-0.4zM477.05,172.19v0.4H481.3v-0.4zM486.39,171.1h0.4V172.6h-0.4zM487.67,171.1h0.4V172.6h-0.4zM488.96,171.1h0.4V172.6h-0.4zM485.3,172.19v0.4H490.0v-0.4zM478.14,172.6h0.4V172.9h-0.4zM479.42,172.6h0.4V172.9h-0.4zM480.71,172.6h0.4V172.9h-0.4zM481.99,172.6h0.4V172.9h-0.4zM483.28,172.6h0.4V172.9h-0.4zM484.56,172.6h0.4V172.9h-0.4zM485.85,172.6h0.4V172.9h-0.4zM487.14,172.6h0.4V172.9h-0.4zM488.42,172.6h0.4V172.9h-0.4zM497.0,169.59v0.4H498.3v-0.4zM497.0,170.87v0.4H498.3v-0.4zM497.0,172.16v0.4H498.3v-0.4zM478.14,173.2h0.4V174.6h-0.4zM479.42,173.2h0.4V174.6h-0.4zM480.71,173.2h0.4V174.6h-0.4zM481.99,173.2h0.4V174.6h-0.4zM483.28,173.2h0.4V174.6h-0.4zM484.56,173.2h0.4V174.6h-0.4zM478.14,174.6h0.4V176.7h-0.4zM479.42,174.6h0.4V176.7h-0.4zM480.71,174.6h0.4V176.7h-0.4zM481.99,174.6h0.4V176.7h-0.4zM483.28,174.6h0.4V176.7h-0.4zM484.56,174.6h0.4V176.7h-0.4zM485.85,174.6h0.4V176.7h-0.4zM487.14,174.6h0.4V176.7h-0.4zM488.42,174.6h0.4V176.7h-0.4zM489.71,174.6h0.4V176.7h-0.4zM477.05,175.69v0.4H490.6v-0.4zM478.14,176.7h0.4V178.1h-0.4zM479.42,176.7h0.4V178.1h-0.4zM480.71,176.7h0.4V178.1h-0.4zM481.99,176.7h0.4V178.1h-0.4zM483.28,176.7h0.4V178.1h-0.4zM484.56,176.7h0.4V178.1h-0.4zM485.85,176.7h0.4V178.1h-0.4zM487.14,176.7h0.4V178.1h-0.4zM488.42,176.7h0.4V178.1h-0.4zM478.14,178.1h0.4V179.6h-0.4zM479.42,178.1h0.4V179.6h-0.4zM480.71,178.1h0.4V179.6h-0.4zM481.99,178.1h0.4V179.6h-0.4zM483.28,178.1h0.4V179.6h-0.4zM484.56,178.1h0.4V179.6h-0.4zM485.85,178.1h0.4V179.6h-0.4zM487.14,178.1h0.4V179.6h-0.4zM488.42,178.1h0.4V179.6h-0.4zM477.05,179.19v0.4H490.0v-0.4zM491.09,178.4h0.4V179.3h-0.4zM492.37,178.4h0.4V179.3h-0.4zM493.66,178.4h0.4V179.3h-0.4zM478.14,179.6h0.4V181.35h-0.4zM479.42,179.6h0.4V181.35h-0.4zM477.05,180.69v0.4H481.0v-0.4zM486.99,179.6h0.4V181.35h-0.4zM488.27,179.6h0.4V181.35h-0.4zM489.56,179.6h0.4V181.35h-0.4zM485.9,180.69v0.4H490.0v-0.4zM478.14,229.9h0.4V231.3h-0.4zM479.42,229.9h0.4V231.3h-0.4zM480.71,229.9h0.4V231.3h-0.4zM481.99,229.9h0.4V231.3h-0.4zM483.28,229.9h0.4V231.3h-0.4zM484.56,229.9h0.4V231.3h-0.4zM478.14,231.3h0.4V233.1h-0.4zM479.42,231.3h0.4V233.1h-0.4zM480.71,231.3h0.4V233.1h-0.4zM481.99,231.3h0.4V233.1h-0.4zM483.28,231.3h0.4V233.1h-0.4zM484.56,231.3h0.4V233.1h-0.4zM485.85,231.3h0.4V233.1h-0.4zM477.05,232.39v0.4H487.1v-0.4zM478.14,233.1h0.4V240.1h-0.4zM479.42,233.1h0.4V240.1h-0.4zM480.71,233.1h0.4V240.1h-0.4zM481.99,233.1h0.4V240.1h-0.4zM483.28,233.1h0.4V240.1h-0.4zM484.56,233.1h0.4V240.1h-0.4zM485.85,233.1h0.4V240.1h-0.4zM487.14,233.1h0.4V240.1h-0.4zM488.42,233.1h0.4V240.1h-0.4zM477.05,234.19v0.4H490.0v-0.4zM477.05,235.47v0.4H490.0v-0.4zM477.05,236.76v0.4H490.0v-0.4zM477.05,238.04v0.4H490.0v-0.4zM477.05,239.33v0.4H490.0v-0.4zM485.9,228.09v0.4H487.2v-0.4zM490.49,230.2h0.4V231.4h-0.4zM491.77,230.2h0.4V231.4h-0.4zM493.06,230.2h0.4V231.4h-0.4zM492.59,235.1h0.4V236.6h-0.4zM491.5,236.19v0.4H494.1v-0.4zM498.5,234.19v0.4H499.9v-0.4zM498.5,235.47v0.4H499.9v-0.4zM498.5,236.76v0.4H499.9v-0.4zM498.5,238.04v0.4H499.9v-0.4zM496.39,238.8h0.4V239.9h-0.4zM497.67,238.8h0.4V239.9h-0.4zM498.96,238.8h0.4V239.9h-0.4zM481.0,248.09v0.4H482.2v-0.4zM481.0,249.37v0.4H482.2v-0.4zM481.0,250.66v0.4H482.2v-0.4z" fill="#fff" fill-opacity="0.28"/>
<rect x="467.9" y="13.6" width="8.3" height="10.30" fill="#FB9A99"/>
<text x="465.30" y="21.05" font-size="6.4" text-anchor="end" font-weight="normal" fill="#000" font-family='"DejaVu Sans", "Liberation Sans", sans-serif' >ATF</text>
<rect x="467.9" y="23.9" width="8.3" height="5.00" fill="#B2DF8A"/>
<text x="465.30" y="28.70" font-size="6.4" text-anchor="end" font-weight="normal" fill="#000" font-family='"DejaVu Sans", "Liberation Sans", sans-serif' >CDX</text>
<rect x="467.9" y="28.9" width="8.3" height="8.80" fill="#1F78B4"/>
<text x="465.30" y="35.60" font-size="6.4" text-anchor="end" font-weight="normal" fill="#000" font-family='"DejaVu Sans", "Liberation Sans", sans-serif' >CREB</text>
<rect x="467.9" y="37.7" width="8.3" height="3.50" fill="#33A02C"/>
<text x="465.30" y="41.75" font-size="6.4" text-anchor="end" font-weight="normal" fill="#000" font-family='"DejaVu Sans", "Liberation Sans", sans-serif' >E2F</text>
<rect x="467.9" y="41.2" width="8.3" height="7.30" fill="#A6CEE3"/>
<text x="465.30" y="47.15" font-size="6.4" text-anchor="end" font-weight="normal" fill="#000" font-family='"DejaVu Sans", "Liberation Sans", sans-serif' >EGR</text>
<rect x="467.9" y="48.5" width="8.3" height="6.50" fill="#CAB2D6"/>
<text x="465.30" y="54.05" font-size="6.4" text-anchor="end" font-weight="normal" fill="#000" font-family='"DejaVu Sans", "Liberation Sans", sans-serif' >ELF</text>
<rect x="467.9" y="55" width="8.3" height="8.90" fill="#E31A1C"/>
<text x="465.30" y="61.75" font-size="6.4" text-anchor="end" font-weight="normal" fill="#000" font-family='"DejaVu Sans", "Liberation Sans", sans-serif' >ELK</text>
<rect x="467.9" y="63.9" width="8.3" height="8.40" fill="#FDBF6F"/>
<text x="465.30" y="70.40" font-size="6.4" text-anchor="end" font-weight="normal" fill="#000" font-family='"DejaVu Sans", "Liberation Sans", sans-serif' >ERF</text>
<rect x="467.9" y="72.3" width="8.3" height="18.60" fill="#6A3D9A"/>
<text x="465.30" y="83.90" font-size="6.4" text-anchor="end" font-weight="normal" fill="#000" font-family='"DejaVu Sans", "Liberation Sans", sans-serif' >ETV</text>
<rect x="467.9" y="90.9" width="8.3" height="17.70" fill="#FF7F00"/>
<text x="465.30" y="102.05" font-size="6.4" text-anchor="end" font-weight="normal" fill="#000" font-family='"DejaVu Sans", "Liberation Sans", sans-serif' >FOS</text>
<rect x="467.9" y="108.6" width="8.3" height="8.50" fill="#FFFF99"/>
<text x="465.30" y="115.15" font-size="6.4" text-anchor="end" font-weight="normal" fill="#000" font-family='"DejaVu Sans", "Liberation Sans", sans-serif' >FOX</text>
<rect x="467.9" y="117.1" width="8.3" height="9.20" fill="#B15928"/>
<text x="465.30" y="124.00" font-size="6.4" text-anchor="end" font-weight="normal" fill="#000" font-family='"DejaVu Sans", "Liberation Sans", sans-serif' >GLI</text>
<rect x="467.9" y="126.3" width="8.3" height="8.50" fill="#FB9A99"/>
<text x="465.30" y="132.85" font-size="6.4" text-anchor="end" font-weight="normal" fill="#000" font-family='"DejaVu Sans", "Liberation Sans", sans-serif' >HES</text>
<rect x="467.9" y="134.8" width="8.3" height="12.10" fill="#B2DF8A"/>
<text x="465.30" y="143.15" font-size="6.4" text-anchor="end" font-weight="normal" fill="#000" font-family='"DejaVu Sans", "Liberation Sans", sans-serif' >HOX</text>
<rect x="467.9" y="146.9" width="8.3" height="7.00" fill="#1F78B4"/>
<text x="465.30" y="152.70" font-size="6.4" text-anchor="end" font-weight="normal" fill="#000" font-family='"DejaVu Sans", "Liberation Sans", sans-serif' >JUN</text>
<rect x="467.9" y="153.9" width="8.3" height="27.20" fill="#33A02C"/>
<text x="465.30" y="169.80" font-size="6.4" text-anchor="end" font-weight="normal" fill="#000" font-family='"DejaVu Sans", "Liberation Sans", sans-serif' >KLF</text>
<rect x="467.9" y="181.1" width="8.3" height="11.00" fill="#A6CEE3"/>
<text x="465.30" y="188.90" font-size="6.4" text-anchor="end" font-weight="normal" fill="#000" font-family='"DejaVu Sans", "Liberation Sans", sans-serif' >MAF</text>
<rect x="467.9" y="192.1" width="8.3" height="9.90" fill="#CAB2D6"/>
<text x="465.30" y="199.35" font-size="6.4" text-anchor="end" font-weight="normal" fill="#000" font-family='"DejaVu Sans", "Liberation Sans", sans-serif' >NR</text>
<rect x="467.9" y="202" width="8.3" height="8.50" fill="#E31A1C"/>
<text x="465.30" y="208.55" font-size="6.4" text-anchor="end" font-weight="normal" fill="#000" font-family='"DejaVu Sans", "Liberation Sans", sans-serif' >PAX</text>
<rect x="467.9" y="210.5" width="8.3" height="5.20" fill="#FDBF6F"/>
<text x="465.30" y="215.40" font-size="6.4" text-anchor="end" font-weight="normal" fill="#000" font-family='"DejaVu Sans", "Liberation Sans", sans-serif' >RAR</text>
<rect x="467.9" y="215.7" width="8.3" height="7.00" fill="#6A3D9A"/>
<text x="465.30" y="221.50" font-size="6.4" text-anchor="end" font-weight="normal" fill="#000" font-family='"DejaVu Sans", "Liberation Sans", sans-serif' >RFX</text>
<rect x="467.9" y="222.7" width="8.3" height="7.70" fill="#FF7F00"/>
<text x="465.30" y="228.85" font-size="6.4" text-anchor="end" font-weight="normal" fill="#000" font-family='"DejaVu Sans", "Liberation Sans", sans-serif' >RXR</text>
<rect x="467.9" y="230.4" width="8.3" height="9.90" fill="#FFFF99"/>
<text x="465.30" y="237.65" font-size="6.4" text-anchor="end" font-weight="normal" fill="#000" font-family='"DejaVu Sans", "Liberation Sans", sans-serif' >SP</text>
<rect x="467.9" y="240.3" width="8.3" height="6.30" fill="#B15928"/>
<text x="465.30" y="245.75" font-size="6.4" text-anchor="end" font-weight="normal" fill="#000" font-family='"DejaVu Sans", "Liberation Sans", sans-serif' >STAT</text>
<rect x="467.9" y="246.6" width="8.3" height="7.40" fill="#FB9A99"/>
<text x="465.30" y="252.60" font-size="6.4" text-anchor="end" font-weight="normal" fill="#000" font-family='"DejaVu Sans", "Liberation Sans", sans-serif' >TFAP2</text>
<rect x="467.9" y="254" width="8.3" height="3.30" fill="#B2DF8A"/>
<text x="465.30" y="257.95" font-size="6.4" text-anchor="end" font-weight="normal" fill="#000" font-family='"DejaVu Sans", "Liberation Sans", sans-serif' >TP</text>
<rect x="467.9" y="257.3" width="8.3" height="12.10" fill="#1F78B4"/>
<text x="465.30" y="265.65" font-size="6.4" text-anchor="end" font-weight="normal" fill="#000" font-family='"DejaVu Sans", "Liberation Sans", sans-serif' >ZBTB</text>
<rect x="467.9" y="269.4" width="8.3" height="5.50" fill="#33A02C"/>
<text x="465.30" y="274.45" font-size="6.4" text-anchor="end" font-weight="normal" fill="#000" font-family='"DejaVu Sans", "Liberation Sans", sans-serif' >ZIC</text>
<rect x="467.9" y="274.9" width="8.3" height="63.70" fill="#A6CEE3"/>
<text x="465.30" y="309.05" font-size="6.4" text-anchor="end" font-weight="normal" fill="#000" font-family='"DejaVu Sans", "Liberation Sans", sans-serif' >ZNF</text>
<rect x="467.9" y="338.6" width="8.3" height="165.20" fill="#000000"/>
<text x="465.30" y="423.50" font-size="6.4" text-anchor="end" font-weight="normal" fill="#000" font-family='"DejaVu Sans", "Liberation Sans", sans-serif' >Other</text>
<text transform="translate(443.30,258.40) rotate(-90)" font-size="9.9" text-anchor="middle" font-weight="normal" fill="#000" font-family='"DejaVu Sans", "Liberation Sans", sans-serif' >TF Groups</text>
<text x="581.20" y="514.40" font-size="9.6" text-anchor="middle" font-weight="normal" fill="#000" font-family='"DejaVu Sans", "Liberation Sans", sans-serif' >Age-associated Genes</text>
<text x="479.00" y="5.60" font-size="6.1" text-anchor="middle" font-weight="normal" fill="#000" font-family='"DejaVu Sans", "Liberation Sans", sans-serif' >RGS2</text>
<path d="M477.2,8.1 L481.2,8.1 L479.2,12.2 Z" fill="#FF0000"/>
<text x="-0.80" y="12.50" font-size="16" text-anchor="start" font-weight="bold" fill="#000" font-family='"Liberation Sans", sans-serif' >a</text>
<text x="206.00" y="11.60" font-size="16" text-anchor="start" font-weight="bold" fill="#000" font-family='"Liberation Sans", sans-serif' >b</text>
<text x="-0.60" y="155.20" font-size="16" text-anchor="start" font-weight="bold" fill="#000" font-family='"Liberation Sans", sans-serif' >c</text>
<text x="202.50" y="156.30" font-size="16" text-anchor="start" font-weight="bold" fill="#000" font-family='"Liberation Sans", sans-serif' >d</text>
<text x="437.50" y="11.60" font-size="16" text-anchor="start" font-weight="bold" fill="#000" font-family='"Liberation Sans", sans-serif' >e</text>
<text x="-0.40" y="315.50" font-size="16" text-anchor="start" font-weight="bold" fill="#000" font-family='"Liberation Sans", sans-serif' >f</text>
</svg></body></html>
